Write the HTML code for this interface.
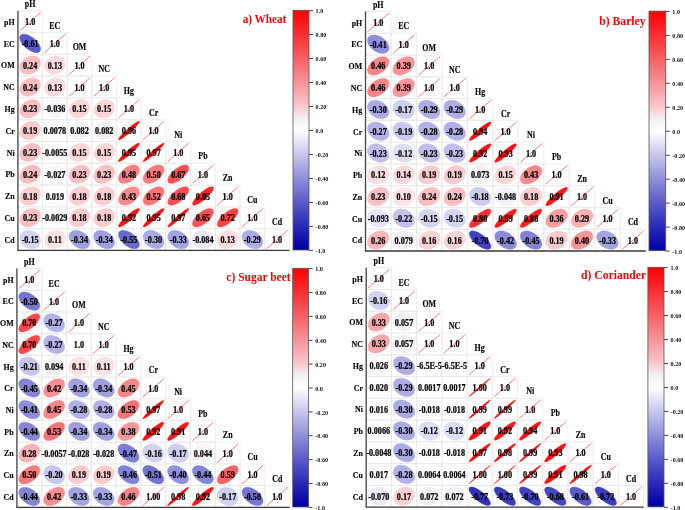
<!DOCTYPE html>
<html><head><meta charset="utf-8"><style>
html,body{margin:0;padding:0;background:#fff;}
svg{display:block;will-change:transform;}
text{font-family:"Liberation Serif",serif;font-weight:bold;}
</style></head><body>
<svg width="685" height="510" viewBox="0 0 685 510">
<defs><linearGradient id="cbg" x1="0" y1="0" x2="0" y2="1"><stop offset="0.000" stop-color="#ff0000"/><stop offset="0.050" stop-color="#fc1719"/><stop offset="0.100" stop-color="#f92f32"/><stop offset="0.150" stop-color="#f7474b"/><stop offset="0.200" stop-color="#f66064"/><stop offset="0.250" stop-color="#f67a7e"/><stop offset="0.300" stop-color="#f69397"/><stop offset="0.350" stop-color="#f7adb1"/><stop offset="0.400" stop-color="#f9c8cb"/><stop offset="0.450" stop-color="#f3f0f5"/><stop offset="0.500" stop-color="#ffffff"/><stop offset="0.550" stop-color="#e3e3f6"/><stop offset="0.600" stop-color="#c7c7ed"/><stop offset="0.650" stop-color="#ababe4"/><stop offset="0.700" stop-color="#9090db"/><stop offset="0.750" stop-color="#7575d2"/><stop offset="0.800" stop-color="#5b5bc9"/><stop offset="0.850" stop-color="#4242c0"/><stop offset="0.900" stop-color="#2a2ab7"/><stop offset="0.950" stop-color="#1313ae"/><stop offset="1.000" stop-color="#0000a5"/></linearGradient></defs>
<rect width="685" height="510" fill="#fff"/>
<path d="M17.80 10.70h24.69v21.80h-24.69z M17.80 32.50h24.69v21.80h-24.69z M42.49 32.50h24.69v21.80h-24.69z M17.80 54.29h24.69v21.80h-24.69z M42.49 54.29h24.69v21.80h-24.69z M67.18 54.29h24.69v21.80h-24.69z M17.80 76.09h24.69v21.80h-24.69z M42.49 76.09h24.69v21.80h-24.69z M67.18 76.09h24.69v21.80h-24.69z M91.87 76.09h24.69v21.80h-24.69z M17.80 97.88h24.69v21.80h-24.69z M42.49 97.88h24.69v21.80h-24.69z M67.18 97.88h24.69v21.80h-24.69z M91.87 97.88h24.69v21.80h-24.69z M116.56 97.88h24.69v21.80h-24.69z M17.80 119.68h24.69v21.80h-24.69z M42.49 119.68h24.69v21.80h-24.69z M67.18 119.68h24.69v21.80h-24.69z M91.87 119.68h24.69v21.80h-24.69z M116.56 119.68h24.69v21.80h-24.69z M141.25 119.68h24.69v21.80h-24.69z M17.80 141.47h24.69v21.80h-24.69z M42.49 141.47h24.69v21.80h-24.69z M67.18 141.47h24.69v21.80h-24.69z M91.87 141.47h24.69v21.80h-24.69z M116.56 141.47h24.69v21.80h-24.69z M141.25 141.47h24.69v21.80h-24.69z M165.95 141.47h24.69v21.80h-24.69z M17.80 163.27h24.69v21.80h-24.69z M42.49 163.27h24.69v21.80h-24.69z M67.18 163.27h24.69v21.80h-24.69z M91.87 163.27h24.69v21.80h-24.69z M116.56 163.27h24.69v21.80h-24.69z M141.25 163.27h24.69v21.80h-24.69z M165.95 163.27h24.69v21.80h-24.69z M190.64 163.27h24.69v21.80h-24.69z M17.80 185.06h24.69v21.80h-24.69z M42.49 185.06h24.69v21.80h-24.69z M67.18 185.06h24.69v21.80h-24.69z M91.87 185.06h24.69v21.80h-24.69z M116.56 185.06h24.69v21.80h-24.69z M141.25 185.06h24.69v21.80h-24.69z M165.95 185.06h24.69v21.80h-24.69z M190.64 185.06h24.69v21.80h-24.69z M215.33 185.06h24.69v21.80h-24.69z M17.80 206.86h24.69v21.80h-24.69z M42.49 206.86h24.69v21.80h-24.69z M67.18 206.86h24.69v21.80h-24.69z M91.87 206.86h24.69v21.80h-24.69z M116.56 206.86h24.69v21.80h-24.69z M141.25 206.86h24.69v21.80h-24.69z M165.95 206.86h24.69v21.80h-24.69z M190.64 206.86h24.69v21.80h-24.69z M215.33 206.86h24.69v21.80h-24.69z M240.02 206.86h24.69v21.80h-24.69z M17.80 228.65h24.69v21.80h-24.69z M42.49 228.65h24.69v21.80h-24.69z M67.18 228.65h24.69v21.80h-24.69z M91.87 228.65h24.69v21.80h-24.69z M116.56 228.65h24.69v21.80h-24.69z M141.25 228.65h24.69v21.80h-24.69z M165.95 228.65h24.69v21.80h-24.69z M190.64 228.65h24.69v21.80h-24.69z M215.33 228.65h24.69v21.80h-24.69z M240.02 228.65h24.69v21.80h-24.69z M264.71 228.65h24.69v21.80h-24.69z" fill="none" stroke="#e6e6e6" stroke-width="0.7"/>
<line x1="19.65" y1="30.86" x2="40.64" y2="12.33" stroke="#f04444" stroke-width="0.7"/>
<polygon points="34.78,39.30 33.51,38.25 32.18,37.29 30.82,36.43 29.45,35.70 28.09,35.09 26.76,34.62 25.50,34.31 24.31,34.15 23.22,34.15 22.25,34.31 21.42,34.62 20.73,35.08 20.21,35.69 19.85,36.42 19.67,37.28 19.67,38.24 19.86,39.29 20.21,40.41 20.74,41.58 21.42,42.78 22.26,43.99 23.23,45.19 24.32,46.36 25.51,47.48 26.78,48.53 28.11,49.50 29.47,50.35 30.84,51.09 32.20,51.70 33.53,52.16 34.79,52.48 35.98,52.64 37.07,52.64 38.04,52.48 38.88,52.17 39.56,51.70 40.08,51.10 40.44,50.36 40.62,49.51 40.62,48.55 40.44,47.50 40.08,46.38 39.55,45.21 38.87,44.01 38.03,42.79 37.06,41.59 35.97,40.42" fill="#5959c8" stroke="#5959c8" stroke-width="0.4"/>
<line x1="44.34" y1="52.66" x2="65.33" y2="34.13" stroke="#f04444" stroke-width="0.7"/>
<polygon points="38.41,57.89 37.49,57.21 36.45,56.67 35.30,56.26 34.07,56.02 32.76,55.93 31.41,55.99 30.04,56.22 28.67,56.60 27.33,57.12 26.04,57.79 24.81,58.58 23.68,59.48 22.65,60.48 21.76,61.56 21.01,62.70 20.41,63.89 19.98,65.10 19.73,66.31 19.65,67.50 19.76,68.65 20.04,69.74 20.49,70.76 21.11,71.67 21.88,72.48 22.80,73.17 23.84,73.71 24.99,74.11 26.22,74.36 27.53,74.45 28.88,74.38 30.25,74.16 31.62,73.78 32.96,73.26 34.26,72.59 35.48,71.80 36.61,70.90 37.64,69.90 38.53,68.82 39.28,67.67 39.88,66.49 40.31,65.28 40.56,64.07 40.64,62.88 40.54,61.73 40.25,60.64 39.80,59.62 39.18,58.70" fill="#f8bdc0" stroke="#f8bdc0" stroke-width="0.4"/>
<polygon points="62.72,58.23 61.75,57.49 60.66,56.88 59.48,56.42 58.21,56.10 56.88,55.95 55.52,55.95 54.15,56.10 52.79,56.42 51.46,56.88 50.19,57.49 49.00,58.22 47.92,59.08 46.94,60.04 46.11,61.09 45.42,62.21 44.90,63.38 44.54,64.58 44.37,65.79 44.37,66.99 44.54,68.16 44.90,69.28 45.43,70.33 46.11,71.29 46.95,72.15 47.92,72.89 49.01,73.50 50.20,73.96 51.47,74.27 52.79,74.43 54.15,74.43 55.53,74.27 56.89,73.96 58.21,73.50 59.48,72.89 60.67,72.15 61.76,71.30 62.73,70.34 63.56,69.29 64.25,68.17 64.77,67.00 65.13,65.80 65.31,64.59 65.31,63.38 65.13,62.21 64.77,61.09 64.25,60.04 63.56,59.08" fill="#fbdbdd" stroke="#fbdbdd" stroke-width="0.4"/>
<line x1="69.03" y1="74.45" x2="90.02" y2="55.93" stroke="#f04444" stroke-width="0.7"/>
<polygon points="38.41,79.69 37.49,79.01 36.45,78.46 35.30,78.06 34.07,77.81 32.76,77.72 31.41,77.79 30.04,78.01 28.67,78.39 27.33,78.92 26.04,79.58 24.81,80.37 23.68,81.27 22.65,82.27 21.76,83.36 21.01,84.50 20.41,85.69 19.98,86.89 19.73,88.10 19.65,89.29 19.76,90.45 20.04,91.54 20.49,92.55 21.11,93.47 21.88,94.28 22.80,94.96 23.84,95.51 24.99,95.91 26.22,96.16 27.53,96.25 28.88,96.18 30.25,95.95 31.62,95.58 32.96,95.05 34.26,94.39 35.48,93.60 36.61,92.69 37.64,91.69 38.53,90.61 39.28,89.47 39.88,88.28 40.31,87.07 40.56,85.86 40.64,84.67 40.54,83.52 40.25,82.43 39.80,81.42 39.18,80.50" fill="#f8bdc0" stroke="#f8bdc0" stroke-width="0.4"/>
<polygon points="62.72,80.02 61.75,79.28 60.66,78.68 59.48,78.21 58.21,77.90 56.88,77.74 55.52,77.74 54.15,77.90 52.79,78.21 51.46,78.68 50.19,79.28 49.00,80.02 47.92,80.87 46.94,81.84 46.11,82.88 45.42,84.00 44.90,85.17 44.54,86.38 44.37,87.59 44.37,88.79 44.54,89.96 44.90,91.08 45.43,92.13 46.11,93.09 46.95,93.95 47.92,94.68 49.01,95.29 50.20,95.75 51.47,96.07 52.79,96.23 54.15,96.23 55.53,96.07 56.89,95.76 58.21,95.29 59.48,94.69 60.67,93.95 61.76,93.09 62.73,92.13 63.56,91.08 64.25,89.96 64.77,88.79 65.13,87.59 65.31,86.38 65.31,85.18 65.13,84.01 64.77,82.89 64.25,81.84 63.56,80.88" fill="#fbdbdd" stroke="#fbdbdd" stroke-width="0.4"/>
<line x1="69.03" y1="96.25" x2="90.02" y2="77.72" stroke="#f04444" stroke-width="0.7"/>
<line x1="93.72" y1="96.25" x2="114.71" y2="77.72" stroke="#f04444" stroke-width="0.7"/>
<polygon points="38.37,101.52 37.45,100.83 36.41,100.28 35.26,99.87 34.02,99.61 32.71,99.52 31.36,99.58 29.99,99.80 28.62,100.17 27.28,100.69 25.99,101.35 24.76,102.13 23.63,103.03 22.62,104.03 21.73,105.11 20.98,106.25 20.39,107.43 19.97,108.64 19.72,109.85 19.65,111.04 19.76,112.20 20.05,113.29 20.51,114.31 21.14,115.23 21.92,116.04 22.84,116.73 23.88,117.28 25.03,117.69 26.27,117.94 27.58,118.04 28.93,117.98 30.30,117.76 31.67,117.39 33.01,116.87 34.30,116.21 35.53,115.43 36.66,114.53 37.68,113.53 38.56,112.45 39.31,111.31 39.90,110.12 40.32,108.92 40.57,107.71 40.64,106.52 40.53,105.36 40.24,104.27 39.78,103.25 39.15,102.33" fill="#f9c0c3" stroke="#f9c0c3" stroke-width="0.4"/>
<polygon points="62.12,102.35 61.07,101.53 59.92,100.84 58.68,100.29 57.37,99.88 56.02,99.62 54.65,99.52 53.28,99.58 51.94,99.79 50.65,100.16 49.43,100.68 48.30,101.33 47.28,102.11 46.40,103.01 45.66,104.00 45.07,105.08 44.65,106.22 44.41,107.41 44.34,108.61 44.46,109.82 44.75,111.02 45.22,112.17 45.84,113.27 46.63,114.29 47.55,115.21 48.60,116.03 49.75,116.72 51.00,117.27 52.30,117.68 53.65,117.94 55.03,118.04 56.39,117.98 57.73,117.77 59.03,117.40 60.25,116.88 61.37,116.23 62.39,115.45 63.28,114.55 64.02,113.55 64.60,112.48 65.02,111.34 65.26,110.15 65.33,108.95 65.21,107.74 64.92,106.54 64.46,105.39 63.83,104.29 63.05,103.27" fill="#f5f5fc" stroke="#f5f5fc" stroke-width="0.4"/>
<polygon points="87.48,101.76 86.52,101.03 85.44,100.43 84.26,99.98 83.00,99.68 81.68,99.53 80.32,99.54 78.94,99.71 77.58,100.04 76.25,100.51 74.98,101.13 73.78,101.88 72.69,102.74 71.71,103.71 70.86,104.76 70.16,105.89 69.62,107.06 69.26,108.26 69.06,109.48 69.05,110.68 69.22,111.84 69.56,112.96 70.07,114.00 70.75,114.96 71.57,115.80 72.53,116.53 73.61,117.13 74.79,117.58 76.06,117.88 77.38,118.03 78.74,118.02 80.11,117.85 81.47,117.52 82.80,117.05 84.08,116.43 85.27,115.68 86.37,114.82 87.35,113.85 88.19,112.79 88.89,111.67 89.43,110.50 89.80,109.29 89.99,108.08 90.00,106.88 89.84,105.72 89.50,104.60 88.98,103.56 88.31,102.60" fill="#fad6d8" stroke="#fad6d8" stroke-width="0.4"/>
<polygon points="112.18,101.76 111.21,101.03 110.13,100.43 108.95,99.98 107.69,99.68 106.37,99.53 105.01,99.54 103.63,99.71 102.27,100.04 100.94,100.51 99.67,101.13 98.47,101.88 97.38,102.74 96.40,103.71 95.55,104.76 94.85,105.89 94.32,107.06 93.95,108.26 93.75,109.48 93.74,110.68 93.91,111.84 94.25,112.96 94.76,114.00 95.44,114.96 96.26,115.80 97.22,116.53 98.30,117.13 99.48,117.58 100.75,117.88 102.07,118.03 103.43,118.02 104.80,117.85 106.16,117.52 107.49,117.05 108.77,116.43 109.96,115.68 111.06,114.82 112.04,113.85 112.89,112.79 113.58,111.67 114.12,110.50 114.49,109.29 114.68,108.08 114.70,106.88 114.53,105.72 114.19,104.60 113.67,103.56 113.00,102.60" fill="#fad6d8" stroke="#fad6d8" stroke-width="0.4"/>
<line x1="118.42" y1="118.04" x2="139.40" y2="99.52" stroke="#f04444" stroke-width="0.7"/>
<polygon points="38.24,123.43 37.30,122.72 36.24,122.15 35.07,121.72 33.82,121.44 32.50,121.32 31.15,121.35 29.77,121.55 28.41,121.90 27.07,122.39 25.79,123.03 24.58,123.80 23.47,124.68 22.47,125.66 21.60,126.73 20.88,127.86 20.31,129.04 19.92,130.25 19.70,131.46 19.66,132.66 19.80,133.82 20.11,134.92 20.60,135.95 21.25,136.89 22.05,137.72 22.99,138.43 24.06,139.00 25.22,139.43 26.47,139.71 27.79,139.83 29.14,139.80 30.52,139.60 31.88,139.25 33.22,138.76 34.50,138.12 35.71,137.35 36.82,136.47 37.82,135.49 38.69,134.42 39.41,133.29 39.98,132.11 40.37,130.90 40.59,129.69 40.63,128.49 40.49,127.33 40.18,126.23 39.69,125.20 39.04,124.26" fill="#f9cbcd" stroke="#f9cbcd" stroke-width="0.4"/>
<polygon points="62.29,124.00 61.26,123.20 60.12,122.53 58.89,122.00 57.59,121.62 56.25,121.39 54.88,121.31 53.51,121.40 52.16,121.64 50.86,122.03 49.63,122.57 48.48,123.25 47.45,124.05 46.54,124.96 45.77,125.97 45.16,127.06 44.71,128.21 44.44,129.40 44.34,130.61 44.43,131.82 44.69,133.01 45.13,134.15 45.73,135.24 46.49,136.24 47.39,137.15 48.42,137.95 49.55,138.62 50.78,139.15 52.08,139.53 53.43,139.76 54.80,139.84 56.17,139.75 57.51,139.51 58.81,139.12 60.05,138.58 61.19,137.90 62.23,137.10 63.14,136.19 63.90,135.18 64.52,134.09 64.96,132.94 65.23,131.75 65.33,130.54 65.25,129.33 64.98,128.14 64.55,127.00 63.94,125.91 63.19,124.91" fill="#fffdfd" stroke="#fffdfd" stroke-width="0.4"/>
<polygon points="87.25,123.76 86.25,123.00 85.14,122.37 83.94,121.88 82.66,121.54 81.32,121.35 79.96,121.32 78.59,121.45 77.23,121.73 75.91,122.17 74.66,122.75 73.49,123.46 72.42,124.30 71.47,125.24 70.66,126.28 70.01,127.38 69.51,128.55 69.19,129.74 69.04,130.96 69.08,132.16 69.29,133.34 69.68,134.47 70.23,135.53 70.95,136.51 71.81,137.39 72.80,138.15 73.91,138.78 75.12,139.27 76.40,139.61 77.73,139.80 79.10,139.83 80.47,139.70 81.83,139.42 83.14,138.98 84.40,138.40 85.57,137.69 86.64,136.85 87.58,135.91 88.39,134.87 89.05,133.77 89.54,132.60 89.87,131.41 90.01,130.19 89.98,128.99 89.77,127.81 89.38,126.68 88.82,125.62 88.11,124.64" fill="#f3f0f5" stroke="#f3f0f5" stroke-width="0.4"/>
<polygon points="111.94,123.76 110.94,123.00 109.83,122.37 108.63,121.88 107.35,121.54 106.01,121.35 104.65,121.32 103.28,121.45 101.92,121.73 100.60,122.17 99.35,122.75 98.18,123.46 97.11,124.30 96.16,125.24 95.35,126.28 94.70,127.38 94.20,128.55 93.88,129.74 93.73,130.96 93.77,132.16 93.98,133.34 94.37,134.47 94.92,135.53 95.64,136.51 96.50,137.39 97.49,138.15 98.60,138.78 99.81,139.27 101.09,139.61 102.42,139.80 103.79,139.83 105.16,139.70 106.52,139.42 107.83,138.98 109.09,138.40 110.26,137.69 111.33,136.85 112.27,135.91 113.08,134.87 113.74,133.77 114.23,132.60 114.56,131.41 114.70,130.19 114.67,128.99 114.46,127.81 114.07,126.68 113.51,125.62 112.80,124.64" fill="#f3f0f5" stroke="#f3f0f5" stroke-width="0.4"/>
<polygon points="139.30,121.41 139.01,121.31 138.56,121.38 137.94,121.60 137.16,121.98 136.25,122.50 135.21,123.16 134.06,123.95 132.82,124.86 131.51,125.86 130.16,126.94 128.79,128.08 127.43,129.27 126.08,130.47 124.79,131.68 123.56,132.87 122.43,134.03 121.41,135.12 120.51,136.13 119.76,137.05 119.17,137.86 118.74,138.55 118.49,139.09 118.42,139.50 118.52,139.74 118.80,139.84 119.26,139.77 119.88,139.55 120.65,139.17 121.57,138.65 122.61,137.99 123.76,137.20 125.00,136.29 126.30,135.29 127.65,134.21 129.02,133.07 130.39,131.88 131.74,130.68 133.03,129.47 134.26,128.28 135.39,127.12 136.41,126.03 137.30,125.02 138.05,124.10 138.65,123.29 139.07,122.60 139.33,122.06 139.40,121.65" fill="#fe090a" stroke="#fe090a" stroke-width="0.4"/>
<line x1="143.11" y1="139.84" x2="164.09" y2="121.31" stroke="#f04444" stroke-width="0.7"/>
<polygon points="38.37,145.11 37.45,144.42 36.41,143.87 35.26,143.46 34.02,143.21 32.71,143.11 31.36,143.17 29.99,143.39 28.62,143.76 27.28,144.28 25.99,144.94 24.76,145.72 23.63,146.62 22.62,147.62 21.73,148.70 20.98,149.84 20.39,151.03 19.97,152.23 19.72,153.44 19.65,154.63 19.76,155.79 20.05,156.88 20.51,157.90 21.14,158.82 21.92,159.63 22.84,160.32 23.88,160.87 25.03,161.28 26.27,161.54 27.58,161.63 28.93,161.57 30.30,161.35 31.67,160.98 33.01,160.46 34.30,159.80 35.53,159.02 36.66,158.12 37.68,157.12 38.56,156.04 39.31,154.90 39.90,153.72 40.32,152.51 40.57,151.30 40.64,150.11 40.53,148.95 40.24,147.86 39.78,146.84 39.15,145.92" fill="#f9c0c3" stroke="#f9c0c3" stroke-width="0.4"/>
<polygon points="62.24,145.84 61.20,145.04 60.06,144.36 58.83,143.82 57.52,143.43 56.18,143.19 54.81,143.11 53.44,143.18 52.09,143.42 50.79,143.80 49.56,144.34 48.43,145.01 47.40,145.80 46.49,146.71 45.73,147.72 45.13,148.80 44.69,149.95 44.43,151.14 44.34,152.34 44.44,153.55 44.71,154.74 45.15,155.89 45.76,156.98 46.53,157.99 47.44,158.90 48.47,159.70 49.61,160.38 50.85,160.92 52.15,161.31 53.50,161.55 54.87,161.63 56.23,161.56 57.58,161.32 58.88,160.94 60.11,160.41 61.25,159.73 62.28,158.94 63.18,158.03 63.94,157.02 64.54,155.94 64.98,154.79 65.24,153.60 65.33,152.40 65.24,151.19 64.96,150.00 64.52,148.85 63.91,147.76 63.14,146.75" fill="#fdfdff" stroke="#fdfdff" stroke-width="0.4"/>
<polygon points="87.48,145.35 86.52,144.62 85.44,144.02 84.26,143.57 83.00,143.27 81.68,143.12 80.32,143.13 78.94,143.30 77.58,143.63 76.25,144.10 74.98,144.72 73.78,145.47 72.69,146.33 71.71,147.30 70.86,148.36 70.16,149.48 69.62,150.65 69.26,151.86 69.06,153.07 69.05,154.27 69.22,155.43 69.56,156.55 70.07,157.59 70.75,158.55 71.57,159.39 72.53,160.12 73.61,160.72 74.79,161.17 76.06,161.47 77.38,161.62 78.74,161.61 80.11,161.44 81.47,161.11 82.80,160.64 84.08,160.02 85.27,159.27 86.37,158.41 87.35,157.44 88.19,156.39 88.89,155.26 89.43,154.09 89.80,152.89 89.99,151.67 90.00,150.47 89.84,149.31 89.50,148.19 88.98,147.15 88.31,146.19" fill="#fad6d8" stroke="#fad6d8" stroke-width="0.4"/>
<polygon points="112.18,145.35 111.21,144.62 110.13,144.02 108.95,143.57 107.69,143.27 106.37,143.12 105.01,143.13 103.63,143.30 102.27,143.63 100.94,144.10 99.67,144.72 98.47,145.47 97.38,146.33 96.40,147.30 95.55,148.36 94.85,149.48 94.32,150.65 93.95,151.86 93.75,153.07 93.74,154.27 93.91,155.43 94.25,156.55 94.76,157.59 95.44,158.55 96.26,159.39 97.22,160.12 98.30,160.72 99.48,161.17 100.75,161.47 102.07,161.62 103.43,161.61 104.80,161.44 106.16,161.11 107.49,160.64 108.77,160.02 109.96,159.27 111.06,158.41 112.04,157.44 112.89,156.39 113.58,155.26 114.12,154.09 114.49,152.89 114.68,151.67 114.70,150.47 114.53,149.31 114.19,148.19 113.67,147.15 113.00,146.19" fill="#fad6d8" stroke="#fad6d8" stroke-width="0.4"/>
<polygon points="139.27,143.22 138.97,143.11 138.49,143.16 137.85,143.36 137.05,143.72 136.12,144.22 135.06,144.87 133.90,145.64 132.65,146.53 131.34,147.52 129.99,148.59 128.62,149.72 127.25,150.91 125.91,152.11 124.62,153.32 123.41,154.52 122.29,155.68 121.29,156.78 120.41,157.80 119.68,158.74 119.11,159.56 118.70,160.26 118.47,160.83 118.42,161.25 118.55,161.52 118.85,161.63 119.33,161.58 119.97,161.38 120.77,161.02 121.70,160.52 122.76,159.87 123.92,159.10 125.17,158.21 126.48,157.22 127.83,156.15 129.20,155.02 130.57,153.84 131.91,152.63 133.19,151.42 134.41,150.22 135.53,149.07 136.53,147.96 137.41,146.94 138.14,146.01 138.71,145.18 139.12,144.48 139.35,143.91 139.40,143.49" fill="#fd0c0c" stroke="#fd0c0c" stroke-width="0.4"/>
<polygon points="164.01,143.18 163.76,143.11 163.33,143.20 162.73,143.44 161.98,143.84 161.08,144.39 160.06,145.07 158.92,145.87 157.69,146.79 156.40,147.80 155.05,148.90 153.69,150.05 152.31,151.24 150.97,152.45 149.66,153.65 148.43,154.84 147.28,155.98 146.24,157.07 145.33,158.07 144.56,158.97 143.94,159.76 143.49,160.43 143.21,160.96 143.11,161.34 143.19,161.56 143.44,161.63 143.87,161.54 144.47,161.30 145.22,160.90 146.12,160.35 147.14,159.67 148.28,158.87 149.51,157.95 150.80,156.94 152.15,155.85 153.51,154.70 154.89,153.50 156.23,152.30 157.54,151.09 158.77,149.90 159.92,148.76 160.96,147.67 161.87,146.67 162.64,145.77 163.26,144.98 163.71,144.31 163.99,143.78 164.09,143.40" fill="#fe0707" stroke="#fe0707" stroke-width="0.4"/>
<line x1="167.80" y1="161.63" x2="188.78" y2="143.11" stroke="#f04444" stroke-width="0.7"/>
<polygon points="38.41,166.87 37.49,166.19 36.45,165.64 35.30,165.24 34.07,164.99 32.76,164.90 31.41,164.97 30.04,165.20 28.67,165.57 27.33,166.10 26.04,166.76 24.81,167.55 23.68,168.46 22.65,169.46 21.76,170.54 21.01,171.68 20.41,172.87 19.98,174.08 19.73,175.29 19.65,176.48 19.76,177.63 20.04,178.72 20.49,179.73 21.11,180.65 21.88,181.46 22.80,182.14 23.84,182.69 24.99,183.09 26.22,183.34 27.53,183.43 28.88,183.36 30.25,183.14 31.62,182.76 32.96,182.23 34.26,181.57 35.48,180.78 36.61,179.88 37.64,178.88 38.53,177.79 39.28,176.65 39.88,175.46 40.31,174.26 40.56,173.05 40.64,171.86 40.54,170.70 40.25,169.61 39.80,168.60 39.18,167.68" fill="#f8bdc0" stroke="#f8bdc0" stroke-width="0.4"/>
<polygon points="62.16,167.70 61.11,166.89 59.96,166.21 58.72,165.66 57.42,165.25 56.07,165.00 54.69,164.90 53.33,164.97 51.98,165.19 50.69,165.56 49.47,166.08 48.34,166.74 47.32,167.53 46.43,168.43 45.68,169.43 45.09,170.51 44.66,171.65 44.41,172.83 44.34,174.04 44.45,175.25 44.74,176.44 45.20,177.59 45.82,178.69 46.60,179.71 47.52,180.63 48.56,181.44 49.71,182.12 50.95,182.68 52.26,183.08 53.61,183.33 54.98,183.43 56.35,183.37 57.69,183.14 58.98,182.77 60.21,182.25 61.34,181.59 62.36,180.80 63.25,179.90 63.99,178.91 64.58,177.83 65.01,176.68 65.26,175.50 65.33,174.29 65.22,173.08 64.93,171.89 64.48,170.74 63.85,169.64 63.07,168.63" fill="#f7f7fd" stroke="#f7f7fd" stroke-width="0.4"/>
<polygon points="87.76,166.90 86.84,166.21 85.79,165.66 84.64,165.26 83.40,165.00 82.09,164.90 80.74,164.97 79.37,165.18 78.00,165.56 76.66,166.08 75.37,166.73 74.15,167.52 73.02,168.42 72.00,169.42 71.11,170.49 70.36,171.64 69.77,172.82 69.35,174.03 69.10,175.24 69.03,176.43 69.14,177.58 69.43,178.68 69.89,179.70 70.52,180.62 71.30,181.43 72.22,182.12 73.26,182.67 74.42,183.08 75.66,183.33 76.96,183.43 78.31,183.37 79.68,183.15 81.05,182.78 82.39,182.26 83.69,181.60 84.91,180.81 86.04,179.91 87.06,178.92 87.95,177.84 88.69,176.70 89.28,175.51 89.70,174.30 89.95,173.09 90.02,171.90 89.91,170.75 89.62,169.65 89.16,168.64 88.54,167.71" fill="#f9c0c3" stroke="#f9c0c3" stroke-width="0.4"/>
<polygon points="112.45,166.90 111.53,166.21 110.48,165.66 109.33,165.26 108.09,165.00 106.78,164.90 105.43,164.97 104.06,165.18 102.69,165.56 101.35,166.08 100.06,166.73 98.84,167.52 97.71,168.42 96.69,169.42 95.80,170.49 95.05,171.64 94.46,172.82 94.04,174.03 93.80,175.24 93.73,176.43 93.84,177.58 94.12,178.68 94.58,179.70 95.21,180.62 95.99,181.43 96.91,182.12 97.95,182.67 99.11,183.08 100.35,183.33 101.65,183.43 103.00,183.37 104.37,183.15 105.74,182.78 107.08,182.26 108.38,181.60 109.60,180.81 110.73,179.91 111.75,178.92 112.64,177.84 113.38,176.70 113.97,175.51 114.39,174.30 114.64,173.09 114.71,171.90 114.60,170.75 114.31,169.65 113.85,168.64 113.23,167.71" fill="#f9c0c3" stroke="#f9c0c3" stroke-width="0.4"/>
<polygon points="137.94,166.20 137.16,165.65 136.24,165.25 135.20,165.00 134.05,164.90 132.81,164.97 131.51,165.19 130.16,165.57 128.79,166.09 127.42,166.75 126.08,167.54 124.78,168.44 123.56,169.44 122.43,170.52 121.40,171.67 120.51,172.85 119.76,174.06 119.17,175.27 118.74,176.46 118.49,177.61 118.42,178.71 118.52,179.72 118.80,180.64 119.26,181.45 119.88,182.13 120.66,182.68 121.57,183.09 122.62,183.34 123.77,183.43 125.00,183.36 126.31,183.14 127.66,182.76 129.03,182.24 130.40,181.58 131.74,180.79 133.04,179.89 134.26,178.89 135.39,177.81 136.41,176.67 137.31,175.48 138.06,174.27 138.65,173.06 139.08,171.87 139.33,170.72 139.40,169.63 139.30,168.61 139.01,167.69 138.56,166.88" fill="#f67f83" stroke="#f67f83" stroke-width="0.4"/>
<polygon points="162.69,166.14 161.93,165.61 161.02,165.22 159.99,164.98 158.85,164.90 157.62,164.98 156.32,165.22 154.97,165.61 153.60,166.14 152.23,166.82 150.88,167.62 149.58,168.53 148.35,169.53 147.21,170.62 146.18,171.77 145.27,172.96 144.51,174.17 143.91,175.37 143.46,176.56 143.20,177.71 143.11,178.80 143.20,179.80 143.46,180.72 143.91,181.51 144.51,182.19 145.27,182.72 146.18,183.11 147.21,183.35 148.35,183.43 149.58,183.35 150.88,183.11 152.23,182.72 153.60,182.19 154.97,181.51 156.32,180.72 157.62,179.80 158.85,178.80 159.99,177.71 161.02,176.56 161.93,175.37 162.69,174.17 163.29,172.96 163.74,171.77 164.00,170.62 164.09,169.53 164.00,168.53 163.74,167.62 163.29,166.82" fill="#f67a7e" stroke="#f67a7e" stroke-width="0.4"/>
<polygon points="187.88,165.70 187.24,165.28 186.45,165.02 185.52,164.91 184.46,164.95 183.30,165.16 182.06,165.52 180.75,166.03 179.39,166.68 178.02,167.45 176.66,168.34 175.32,169.33 174.03,170.40 172.81,171.54 171.69,172.72 170.68,173.93 169.80,175.14 169.07,176.33 168.50,177.49 168.09,178.59 167.86,179.61 167.80,180.55 167.93,181.37 168.23,182.07 168.70,182.63 169.34,183.05 170.13,183.32 171.06,183.43 172.12,183.38 173.28,183.17 174.52,182.81 175.84,182.30 177.19,181.66 178.56,180.88 179.93,179.99 181.27,179.00 182.55,177.93 183.77,176.79 184.89,175.61 185.90,174.40 186.78,173.19 187.51,172.00 188.09,170.84 188.49,169.74 188.73,168.72 188.78,167.79 188.66,166.96 188.35,166.27" fill="#f74f52" stroke="#f74f52" stroke-width="0.4"/>
<line x1="192.49" y1="183.43" x2="213.48" y2="164.90" stroke="#f04444" stroke-width="0.7"/>
<polygon points="38.21,188.85 37.26,188.13 36.19,187.55 35.02,187.12 33.77,186.83 32.45,186.71 31.09,186.74 29.72,186.92 28.36,187.27 27.02,187.76 25.74,188.39 24.54,189.15 23.43,190.03 22.43,191.01 21.57,192.07 20.85,193.20 20.30,194.38 19.91,195.59 19.69,196.80 19.66,198.00 19.81,199.16 20.13,200.27 20.62,201.30 21.28,202.24 22.09,203.08 23.03,203.79 24.10,204.37 25.27,204.80 26.52,205.09 27.84,205.22 29.20,205.19 30.57,205.00 31.93,204.66 33.27,204.16 34.55,203.53 35.76,202.77 36.86,201.89 37.86,200.91 38.72,199.85 39.44,198.72 39.99,197.54 40.38,196.34 40.60,195.12 40.63,193.93 40.49,192.77 40.16,191.66 39.67,190.62 39.01,189.68" fill="#faced0" stroke="#faced0" stroke-width="0.4"/>
<polygon points="62.33,189.35 61.30,188.56 60.17,187.90 58.94,187.37 57.65,186.99 56.30,186.77 54.94,186.70 53.57,186.79 52.22,187.04 50.91,187.44 49.68,187.98 48.53,188.67 47.49,189.47 46.57,190.39 45.80,191.41 45.18,192.50 44.73,193.65 44.45,194.84 44.34,196.05 44.42,197.26 44.67,198.44 45.10,199.59 45.70,200.67 46.45,201.67 47.35,202.57 48.37,203.36 49.50,204.03 50.73,204.55 52.02,204.93 53.37,205.16 54.74,205.22 56.11,205.13 57.46,204.89 58.76,204.49 60.00,203.94 61.15,203.26 62.19,202.45 63.10,201.53 63.87,200.52 64.49,199.42 64.95,198.27 65.23,197.08 65.33,195.87 65.25,194.67 65.00,193.48 64.57,192.34 63.97,191.25 63.22,190.25" fill="#fefafa" stroke="#fefafa" stroke-width="0.4"/>
<polygon points="87.59,188.85 86.64,188.13 85.57,187.55 84.40,187.12 83.15,186.83 81.83,186.71 80.48,186.74 79.10,186.92 77.74,187.27 76.40,187.76 75.12,188.39 73.92,189.15 72.81,190.03 71.81,191.01 70.95,192.07 70.23,193.20 69.68,194.38 69.29,195.59 69.08,196.80 69.04,198.00 69.19,199.16 69.51,200.27 70.00,201.30 70.66,202.24 71.47,203.08 72.41,203.79 73.48,204.37 74.65,204.80 75.91,205.09 77.22,205.22 78.58,205.19 79.95,205.00 81.32,204.66 82.65,204.16 83.93,203.53 85.14,202.77 86.25,201.89 87.24,200.91 88.10,199.85 88.82,198.72 89.38,197.54 89.76,196.34 89.98,195.12 90.01,193.93 89.87,192.77 89.55,191.66 89.05,190.62 88.40,189.68" fill="#faced0" stroke="#faced0" stroke-width="0.4"/>
<polygon points="112.28,188.85 111.33,188.13 110.26,187.55 109.09,187.12 107.84,186.83 106.52,186.71 105.17,186.74 103.79,186.92 102.43,187.27 101.09,187.76 99.81,188.39 98.61,189.15 97.50,190.03 96.50,191.01 95.64,192.07 94.93,193.20 94.37,194.38 93.98,195.59 93.77,196.80 93.73,198.00 93.88,199.16 94.20,200.27 94.69,201.30 95.35,202.24 96.16,203.08 97.10,203.79 98.17,204.37 99.34,204.80 100.60,205.09 101.91,205.22 103.27,205.19 104.64,205.00 106.01,204.66 107.34,204.16 108.62,203.53 109.83,202.77 110.94,201.89 111.93,200.91 112.79,199.85 113.51,198.72 114.07,197.54 114.46,196.34 114.67,195.12 114.70,193.93 114.56,192.77 114.24,191.66 113.74,190.62 113.09,189.68" fill="#faced0" stroke="#faced0" stroke-width="0.4"/>
<polygon points="137.78,188.13 136.98,187.55 136.03,187.12 134.96,186.83 133.79,186.71 132.54,186.74 131.22,186.93 129.87,187.27 128.49,187.76 127.13,188.40 125.79,189.16 124.51,190.04 123.31,191.02 122.20,192.08 121.20,193.21 120.34,194.39 119.62,195.60 119.06,196.81 118.67,198.00 118.46,199.17 118.42,200.27 118.57,201.31 118.89,202.25 119.38,203.08 120.04,203.79 120.84,204.37 121.79,204.81 122.86,205.09 124.03,205.22 125.28,205.19 126.60,205.00 127.95,204.65 129.32,204.16 130.69,203.53 132.02,202.77 133.31,201.89 134.51,200.91 135.62,199.84 136.62,198.71 137.48,197.53 138.20,196.33 138.76,195.12 139.14,193.92 139.36,192.76 139.39,191.65 139.25,190.62 138.93,189.68 138.44,188.84" fill="#f68b8f" stroke="#f68b8f" stroke-width="0.4"/>
<polygon points="162.75,187.89 162.00,187.36 161.11,186.99 160.08,186.76 158.95,186.70 157.73,186.79 156.43,187.04 155.09,187.45 153.72,187.99 152.35,188.68 151.00,189.49 149.70,190.41 148.46,191.42 147.31,192.52 146.27,193.67 145.35,194.86 144.57,196.07 143.95,197.28 143.50,198.46 143.21,199.61 143.11,200.69 143.18,201.69 143.43,202.59 143.86,203.38 144.45,204.04 145.20,204.56 146.09,204.94 147.12,205.16 148.25,205.22 149.47,205.13 150.77,204.88 152.11,204.48 153.48,203.93 154.85,203.24 156.20,202.43 157.50,201.51 158.74,200.50 159.89,199.41 160.93,198.25 161.85,197.06 162.63,195.85 163.25,194.65 163.70,193.46 163.99,192.32 164.09,191.24 164.02,190.24 163.77,189.34 163.34,188.55" fill="#f67478" stroke="#f67478" stroke-width="0.4"/>
<polygon points="187.91,187.47 187.28,187.06 186.49,186.80 185.57,186.70 184.52,186.76 183.37,186.97 182.12,187.34 180.82,187.85 179.46,188.51 178.09,189.29 176.73,190.19 175.38,191.18 174.09,192.26 172.87,193.40 171.75,194.58 170.73,195.79 169.85,197.00 169.11,198.19 168.52,199.34 168.11,200.44 167.86,201.46 167.80,202.39 167.91,203.20 168.21,203.89 168.67,204.45 169.30,204.86 170.09,205.12 171.01,205.22 172.06,205.17 173.22,204.95 174.46,204.58 175.77,204.07 177.12,203.42 178.49,202.63 179.86,201.74 181.20,200.74 182.49,199.67 183.71,198.53 184.83,197.34 185.85,196.14 186.73,194.93 187.48,193.73 188.06,192.58 188.48,191.48 188.72,190.46 188.78,189.54 188.67,188.72 188.37,188.03" fill="#f74c50" stroke="#f74c50" stroke-width="0.4"/>
<polygon points="213.07,187.05 212.61,186.80 211.99,186.70 211.21,186.76 210.29,186.98 209.24,187.35 208.09,187.87 206.85,188.53 205.54,189.31 204.19,190.21 202.82,191.21 201.45,192.28 200.11,193.42 198.82,194.61 197.59,195.82 196.46,197.03 195.45,198.22 194.56,199.37 193.81,200.47 193.23,201.48 192.80,202.41 192.56,203.22 192.49,203.91 192.60,204.46 192.89,204.87 193.35,205.13 193.98,205.22 194.76,205.16 195.68,204.95 196.72,204.57 197.88,204.05 199.12,203.40 200.42,202.61 201.77,201.71 203.15,200.72 204.51,199.64 205.86,198.50 207.15,197.31 208.37,196.11 209.50,194.90 210.52,193.70 211.41,192.55 212.15,191.46 212.74,190.44 213.16,189.51 213.41,188.70 213.47,188.01 213.36,187.46" fill="#fa2325" stroke="#fa2325" stroke-width="0.4"/>
<line x1="217.18" y1="205.22" x2="238.17" y2="186.70" stroke="#f04444" stroke-width="0.7"/>
<polygon points="38.37,210.49 37.45,209.80 36.41,209.25 35.26,208.85 34.02,208.59 32.71,208.49 31.36,208.56 29.99,208.77 28.62,209.15 27.28,209.67 25.99,210.32 24.76,211.11 23.63,212.01 22.62,213.01 21.73,214.09 20.98,215.23 20.39,216.41 19.97,217.62 19.72,218.83 19.65,220.02 19.76,221.17 20.05,222.27 20.51,223.29 21.14,224.21 21.92,225.02 22.84,225.71 23.88,226.26 25.03,226.67 26.27,226.92 27.58,227.02 28.93,226.96 30.30,226.74 31.67,226.37 33.01,225.85 34.30,225.19 35.53,224.40 36.66,223.50 37.68,222.51 38.56,221.43 39.31,220.29 39.90,219.10 40.32,217.89 40.57,216.68 40.64,215.49 40.53,214.34 40.24,213.25 39.78,212.23 39.15,211.30" fill="#f9c0c3" stroke="#f9c0c3" stroke-width="0.4"/>
<polygon points="62.25,211.22 61.21,210.42 60.07,209.74 58.84,209.20 57.54,208.81 56.19,208.57 54.82,208.49 53.45,208.57 52.11,208.81 50.81,209.19 49.58,209.73 48.44,210.40 47.41,211.20 46.50,212.11 45.74,213.11 45.14,214.20 44.70,215.35 44.43,216.53 44.34,217.74 44.43,218.95 44.70,220.14 45.15,221.29 45.76,222.38 46.52,223.39 47.43,224.30 48.46,225.10 49.60,225.77 50.83,226.31 52.14,226.70 53.48,226.94 54.85,227.02 56.22,226.94 57.57,226.71 58.87,226.32 60.10,225.79 61.24,225.11 62.27,224.32 63.17,223.41 63.93,222.40 64.54,221.31 64.98,220.17 65.24,218.98 65.33,217.77 65.24,216.56 64.97,215.37 64.53,214.22 63.92,213.14 63.15,212.13" fill="#fefeff" stroke="#fefeff" stroke-width="0.4"/>
<polygon points="87.59,210.64 86.64,209.93 85.57,209.35 84.40,208.91 83.15,208.63 81.83,208.50 80.48,208.53 79.10,208.72 77.74,209.06 76.40,209.55 75.12,210.19 73.92,210.95 72.81,211.83 71.81,212.81 70.95,213.87 70.23,215.00 69.68,216.18 69.29,217.38 69.08,218.59 69.04,219.79 69.19,220.95 69.51,222.06 70.00,223.09 70.66,224.04 71.47,224.87 72.41,225.59 73.48,226.16 74.65,226.60 75.91,226.88 77.22,227.01 78.58,226.98 79.95,226.79 81.32,226.45 82.65,225.96 83.93,225.33 85.14,224.57 86.25,223.69 87.24,222.71 88.10,221.64 88.82,220.51 89.38,219.34 89.76,218.13 89.98,216.92 90.01,215.72 89.87,214.56 89.55,213.45 89.05,212.42 88.40,211.48" fill="#faced0" stroke="#faced0" stroke-width="0.4"/>
<polygon points="112.28,210.64 111.33,209.93 110.26,209.35 109.09,208.91 107.84,208.63 106.52,208.50 105.17,208.53 103.79,208.72 102.43,209.06 101.09,209.55 99.81,210.19 98.61,210.95 97.50,211.83 96.50,212.81 95.64,213.87 94.93,215.00 94.37,216.18 93.98,217.38 93.77,218.59 93.73,219.79 93.88,220.95 94.20,222.06 94.69,223.09 95.35,224.04 96.16,224.87 97.10,225.59 98.17,226.16 99.34,226.60 100.60,226.88 101.91,227.01 103.27,226.98 104.64,226.79 106.01,226.45 107.34,225.96 108.62,225.33 109.83,224.57 110.94,223.69 111.93,222.71 112.79,221.64 113.51,220.51 114.07,219.34 114.46,218.13 114.67,216.92 114.70,215.72 114.56,214.56 114.24,213.45 113.74,212.42 113.09,211.48" fill="#faced0" stroke="#faced0" stroke-width="0.4"/>
<polygon points="139.19,208.68 138.83,208.52 138.30,208.51 137.60,208.66 136.76,208.97 135.79,209.43 134.70,210.03 133.50,210.76 132.23,211.61 130.90,212.57 129.54,213.62 128.17,214.74 126.81,215.90 125.49,217.10 124.22,218.32 123.04,219.52 121.95,220.69 120.99,221.81 120.15,222.86 119.47,223.83 118.96,224.69 118.61,225.43 118.43,226.04 118.44,226.51 118.63,226.83 118.99,227.00 119.52,227.00 120.21,226.85 121.05,226.54 122.03,226.09 123.12,225.48 124.32,224.75 125.59,223.90 126.91,222.94 128.28,221.90 129.65,220.78 131.01,219.61 132.33,218.41 133.60,217.20 134.78,216.00 135.87,214.82 136.83,213.70 137.66,212.65 138.34,211.68 138.86,210.82 139.21,210.08 139.38,209.47 139.38,209.00" fill="#fc1314" stroke="#fc1314" stroke-width="0.4"/>
<polygon points="163.96,208.61 163.66,208.50 163.18,208.54 162.54,208.75 161.74,209.10 160.81,209.61 159.75,210.25 158.59,211.03 157.34,211.92 156.03,212.90 154.68,213.97 153.31,215.11 151.94,216.29 150.60,217.50 149.32,218.71 148.10,219.90 146.98,221.06 145.98,222.16 145.10,223.19 144.37,224.12 143.80,224.95 143.39,225.65 143.16,226.21 143.11,226.63 143.24,226.90 143.54,227.02 144.02,226.97 144.66,226.77 145.46,226.41 146.39,225.90 147.45,225.26 148.61,224.49 149.86,223.60 151.17,222.61 152.52,221.54 153.89,220.40 155.26,219.22 156.60,218.02 157.88,216.80 159.10,215.61 160.22,214.45 161.22,213.35 162.10,212.32 162.83,211.39 163.40,210.57 163.81,209.87 164.04,209.30 164.09,208.88" fill="#fd0c0c" stroke="#fd0c0c" stroke-width="0.4"/>
<polygon points="188.71,208.56 188.45,208.49 188.02,208.58 187.42,208.83 186.67,209.23 185.77,209.77 184.75,210.45 183.61,211.26 182.39,212.18 181.09,213.19 179.75,214.28 178.38,215.43 177.01,216.62 175.66,217.83 174.35,219.04 173.12,220.23 171.97,221.37 170.93,222.45 170.02,223.46 169.25,224.36 168.63,225.15 168.18,225.82 167.90,226.34 167.80,226.72 167.88,226.95 168.13,227.02 168.56,226.93 169.16,226.68 169.91,226.29 170.81,225.74 171.84,225.06 172.97,224.25 174.20,223.34 175.49,222.32 176.84,221.23 178.21,220.08 179.58,218.89 180.92,217.68 182.23,216.47 183.46,215.29 184.61,214.14 185.65,213.06 186.56,212.06 187.34,211.15 187.95,210.36 188.40,209.70 188.68,209.17 188.78,208.79" fill="#fe0707" stroke="#fe0707" stroke-width="0.4"/>
<polygon points="212.51,209.34 211.86,208.91 211.05,208.63 210.11,208.50 209.04,208.53 207.87,208.72 206.62,209.07 205.30,209.56 203.95,210.19 202.57,210.96 201.21,211.84 199.87,212.82 198.59,213.88 197.39,215.01 196.27,216.19 195.28,217.40 194.41,218.61 193.70,219.80 193.14,220.97 192.75,222.07 192.53,223.11 192.50,224.05 192.64,224.88 192.96,225.59 193.45,226.17 194.11,226.60 194.91,226.89 195.86,227.01 196.92,226.98 198.09,226.79 199.35,226.45 200.66,225.95 202.02,225.32 203.39,224.56 204.76,223.68 206.09,222.70 207.37,221.63 208.58,220.50 209.69,219.32 210.68,218.12 211.55,216.91 212.27,215.71 212.83,214.55 213.22,213.44 213.43,212.41 213.47,211.47 213.32,210.63 213.00,209.92" fill="#f75457" stroke="#f75457" stroke-width="0.4"/>
<polygon points="237.40,209.17 236.81,208.79 236.06,208.56 235.16,208.49 234.14,208.58 233.00,208.83 231.78,209.23 230.48,209.78 229.14,210.46 227.77,211.27 226.40,212.19 225.05,213.20 223.75,214.29 222.51,215.44 221.36,216.63 220.32,217.84 219.41,219.05 218.63,220.24 218.02,221.38 217.56,222.46 217.28,223.46 217.18,224.37 217.26,225.16 217.51,225.82 217.94,226.35 218.54,226.73 219.29,226.95 220.18,227.02 221.21,226.93 222.34,226.68 223.57,226.28 224.86,225.74 226.21,225.05 227.58,224.25 228.95,223.33 230.30,222.31 231.60,221.22 232.84,220.07 233.98,218.88 235.02,217.67 235.94,216.46 236.71,215.28 237.33,214.13 237.78,213.05 238.06,212.05 238.17,211.15 238.09,210.36 237.83,209.69" fill="#f84346" stroke="#f84346" stroke-width="0.4"/>
<line x1="241.87" y1="227.02" x2="262.86" y2="208.49" stroke="#f04444" stroke-width="0.7"/>
<polygon points="36.99,233.51 35.89,232.65 34.69,231.90 33.42,231.29 32.09,230.81 30.73,230.49 29.36,230.32 28.00,230.30 26.67,230.45 25.41,230.75 24.23,231.20 23.15,231.80 22.19,232.53 21.36,233.38 20.69,234.33 20.18,235.37 19.83,236.49 19.67,237.66 19.68,238.86 19.87,240.07 20.24,241.27 20.78,242.44 21.48,243.57 22.32,244.62 23.30,245.59 24.40,246.46 25.60,247.20 26.87,247.82 28.20,248.29 29.56,248.62 30.93,248.79 32.29,248.80 33.62,248.65 34.88,248.35 36.06,247.90 37.14,247.30 38.10,246.58 38.93,245.73 39.60,244.77 40.11,243.73 40.46,242.62 40.62,241.45 40.61,240.25 40.42,239.04 40.05,237.83 39.51,236.66 38.81,235.54 37.97,234.48" fill="#d5d5f2" stroke="#d5d5f2" stroke-width="0.4"/>
<polygon points="62.65,232.65 61.67,231.90 60.58,231.29 59.38,230.81 58.11,230.49 56.78,230.32 55.41,230.30 54.04,230.45 52.68,230.75 51.36,231.20 50.10,231.80 48.92,232.53 47.84,233.37 46.88,234.33 46.05,235.37 45.38,236.48 44.87,237.65 44.52,238.85 44.36,240.06 44.37,241.27 44.57,242.44 44.94,243.56 45.47,244.62 46.17,245.59 47.02,246.45 48.00,247.20 49.10,247.82 50.29,248.29 51.57,248.62 52.90,248.79 54.26,248.80 55.63,248.66 56.99,248.35 58.31,247.90 59.57,247.31 60.76,246.58 61.84,245.73 62.80,244.78 63.62,243.73 64.30,242.62 64.81,241.45 65.15,240.25 65.31,239.04 65.30,237.84 65.11,236.67 64.74,235.54 64.20,234.49 63.50,233.52" fill="#fbe1e2" stroke="#fbe1e2" stroke-width="0.4"/>
<polygon points="85.56,234.23 84.38,233.29 83.13,232.45 81.81,231.73 80.45,231.15 79.08,230.71 77.72,230.43 76.38,230.30 75.10,230.33 73.90,230.51 72.79,230.85 71.80,231.34 70.94,231.97 70.22,232.73 69.67,233.61 69.28,234.58 69.07,235.65 69.04,236.78 69.19,237.95 69.52,239.16 70.01,240.37 70.67,241.57 71.48,242.73 72.43,243.84 73.50,244.87 74.67,245.82 75.93,246.65 77.25,247.37 78.60,247.95 79.97,248.39 81.34,248.68 82.67,248.81 83.95,248.78 85.16,248.59 86.26,248.25 87.26,247.76 88.12,247.13 88.83,246.37 89.38,245.50 89.77,244.52 89.98,243.46 90.01,242.33 89.86,241.15 89.54,239.95 89.04,238.74 88.38,237.54 87.57,236.37 86.62,235.27" fill="#a0a0e0" stroke="#a0a0e0" stroke-width="0.4"/>
<polygon points="110.25,234.23 109.07,233.29 107.82,232.45 106.50,231.73 105.14,231.15 103.77,230.71 102.41,230.43 101.07,230.30 99.79,230.33 98.59,230.51 97.48,230.85 96.49,231.34 95.63,231.97 94.92,232.73 94.36,233.61 93.98,234.58 93.77,235.65 93.73,236.78 93.88,237.95 94.21,239.16 94.70,240.37 95.36,241.57 96.17,242.73 97.12,243.84 98.19,244.87 99.36,245.82 100.62,246.65 101.94,247.37 103.29,247.95 104.66,248.39 106.03,248.68 107.36,248.81 108.64,248.78 109.85,248.59 110.95,248.25 111.95,247.76 112.81,247.13 113.52,246.37 114.08,245.50 114.46,244.52 114.67,243.46 114.70,242.33 114.55,241.15 114.23,239.95 113.73,238.74 113.07,237.54 112.26,236.37 111.32,235.27" fill="#a0a0e0" stroke="#a0a0e0" stroke-width="0.4"/>
<polygon points="133.89,235.16 132.64,234.13 131.33,233.20 129.97,232.37 128.60,231.67 127.23,231.10 125.90,230.68 124.61,230.41 123.40,230.29 122.28,230.34 121.27,230.54 120.40,230.89 119.67,231.40 119.10,232.04 118.70,232.81 118.47,233.70 118.42,234.69 118.55,235.76 118.86,236.89 119.34,238.07 119.98,239.28 120.78,240.49 121.71,241.69 122.77,242.84 123.93,243.95 125.18,244.97 126.49,245.91 127.85,246.73 129.22,247.43 130.58,248.00 131.92,248.43 133.21,248.70 134.42,248.81 135.54,248.77 136.54,248.57 137.42,248.21 138.15,247.71 138.72,247.06 139.12,246.29 139.35,245.40 139.40,244.42 139.27,243.35 138.96,242.21 138.48,241.03 137.84,239.82 137.04,238.61 136.11,237.42 135.05,236.26" fill="#6868ce" stroke="#6868ce" stroke-width="0.4"/>
<polygon points="159.81,234.07 158.65,233.14 157.41,232.33 156.10,231.63 154.75,231.07 153.37,230.66 152.01,230.40 150.67,230.29 149.38,230.34 148.16,230.56 147.03,230.92 146.02,231.43 145.14,232.08 144.40,232.86 143.82,233.76 143.41,234.75 143.17,235.82 143.11,236.96 143.23,238.15 143.52,239.35 143.99,240.56 144.63,241.76 145.41,242.91 146.34,244.01 147.39,245.03 148.55,245.96 149.79,246.78 151.10,247.47 152.45,248.03 153.83,248.45 155.19,248.71 156.53,248.81 157.82,248.76 159.04,248.55 160.17,248.18 161.18,247.67 162.06,247.02 162.80,246.24 163.38,245.35 163.79,244.35 164.03,243.28 164.09,242.14 163.97,240.96 163.68,239.75 163.21,238.54 162.57,237.35 161.79,236.19 160.86,235.09" fill="#ababe4" stroke="#ababe4" stroke-width="0.4"/>
<polygon points="184.36,234.19 183.20,233.25 181.94,232.42 180.63,231.71 179.27,231.13 177.90,230.70 176.53,230.42 175.20,230.30 173.92,230.33 172.71,230.52 171.60,230.87 170.60,231.36 169.73,232.00 169.01,232.76 168.45,233.64 168.06,234.63 167.84,235.69 167.80,236.82 167.95,238.00 168.26,239.21 168.75,240.42 169.40,241.61 170.21,242.78 171.15,243.88 172.22,244.91 173.39,245.85 174.64,246.69 175.95,247.40 177.31,247.97 178.68,248.40 180.05,248.68 181.38,248.81 182.66,248.77 183.87,248.58 184.98,248.24 185.98,247.74 186.85,247.11 187.57,246.34 188.13,245.46 188.52,244.48 188.74,243.41 188.78,242.28 188.64,241.10 188.32,239.90 187.83,238.69 187.18,237.49 186.37,236.33 185.43,235.22" fill="#a3a3e1" stroke="#a3a3e1" stroke-width="0.4"/>
<polygon points="210.08,233.28 209.01,232.45 207.84,231.73 206.59,231.15 205.27,230.71 203.91,230.43 202.54,230.30 201.18,230.33 199.84,230.51 198.56,230.85 197.36,231.34 196.25,231.97 195.26,232.73 194.40,233.61 193.68,234.59 193.13,235.65 192.74,236.78 192.53,237.96 192.50,239.16 192.64,240.37 192.97,241.57 193.46,242.73 194.12,243.84 194.93,244.88 195.88,245.82 196.95,246.66 198.12,247.37 199.38,247.95 200.69,248.39 202.05,248.68 203.42,248.81 204.79,248.78 206.12,248.59 207.40,248.25 208.61,247.76 209.71,247.13 210.71,246.37 211.57,245.50 212.28,244.52 212.84,243.45 213.22,242.32 213.43,241.15 213.47,239.94 213.32,238.73 212.99,237.53 212.50,236.37 211.84,235.26 211.03,234.23" fill="#e7e7f7" stroke="#e7e7f7" stroke-width="0.4"/>
<polygon points="235.56,232.59 234.59,231.85 233.50,231.25 232.31,230.78 231.04,230.47 229.72,230.31 228.36,230.31 226.98,230.47 225.62,230.78 224.30,231.24 223.03,231.85 221.84,232.59 220.75,233.44 219.78,234.40 218.95,235.45 218.26,236.57 217.74,237.74 217.38,238.94 217.20,240.16 217.20,241.36 217.38,242.53 217.74,243.65 218.26,244.70 218.95,245.66 219.79,246.51 220.76,247.25 221.85,247.86 223.03,248.32 224.30,248.64 225.63,248.80 226.99,248.80 228.36,248.64 229.72,248.32 231.05,247.86 232.32,247.26 233.50,246.52 234.59,245.66 235.56,244.70 236.40,243.65 237.09,242.53 237.61,241.36 237.97,240.16 238.14,238.95 238.14,237.75 237.96,236.58 237.61,235.46 237.08,234.41 236.40,233.45" fill="#fbdbdd" stroke="#fbdbdd" stroke-width="0.4"/>
<polygon points="258.62,234.03 257.46,233.11 256.22,232.30 254.91,231.61 253.56,231.05 252.19,230.64 250.83,230.39 249.48,230.29 248.19,230.35 246.97,230.57 245.84,230.94 244.82,231.46 243.94,232.11 243.19,232.90 242.60,233.79 242.18,234.79 241.94,235.87 241.87,237.01 241.98,238.19 242.27,239.40 242.74,240.61 243.36,241.80 244.14,242.96 245.06,244.05 246.11,245.07 247.26,246.00 248.51,246.81 249.81,247.50 251.16,248.05 252.53,248.46 253.90,248.72 255.24,248.81 256.54,248.75 257.76,248.54 258.89,248.17 259.90,247.65 260.79,246.99 261.54,246.21 262.12,245.31 262.54,244.31 262.79,243.24 262.86,242.09 262.74,240.91 262.45,239.70 261.99,238.49 261.37,237.30 260.58,236.15 259.66,235.05" fill="#aeaee5" stroke="#aeaee5" stroke-width="0.4"/>
<line x1="266.56" y1="248.82" x2="287.55" y2="230.29" stroke="#f04444" stroke-width="0.7"/>
<text transform="translate(30.15,25.15) scale(0.872,1)" font-size="9.4" text-anchor="middle" fill="#000" stroke="#000" stroke-width="0.22">1.0</text>
<text transform="translate(30.15,46.94) scale(0.872,1)" font-size="9.4" text-anchor="middle" fill="#000" stroke="#000" stroke-width="0.22">-0.61</text>
<text transform="translate(54.84,46.94) scale(0.872,1)" font-size="9.4" text-anchor="middle" fill="#000" stroke="#000" stroke-width="0.22">1.0</text>
<text transform="translate(30.15,68.74) scale(0.872,1)" font-size="9.4" text-anchor="middle" fill="#000" stroke="#000" stroke-width="0.22">0.24</text>
<text transform="translate(54.84,68.74) scale(0.872,1)" font-size="9.4" text-anchor="middle" fill="#000" stroke="#000" stroke-width="0.22">0.13</text>
<text transform="translate(79.53,68.74) scale(0.872,1)" font-size="9.4" text-anchor="middle" fill="#000" stroke="#000" stroke-width="0.22">1.0</text>
<text transform="translate(30.15,90.53) scale(0.872,1)" font-size="9.4" text-anchor="middle" fill="#000" stroke="#000" stroke-width="0.22">0.24</text>
<text transform="translate(54.84,90.53) scale(0.872,1)" font-size="9.4" text-anchor="middle" fill="#000" stroke="#000" stroke-width="0.22">0.13</text>
<text transform="translate(79.53,90.53) scale(0.872,1)" font-size="9.4" text-anchor="middle" fill="#000" stroke="#000" stroke-width="0.22">1.0</text>
<text transform="translate(104.22,90.53) scale(0.872,1)" font-size="9.4" text-anchor="middle" fill="#000" stroke="#000" stroke-width="0.22">1.0</text>
<text transform="translate(30.15,112.33) scale(0.872,1)" font-size="9.4" text-anchor="middle" fill="#000" stroke="#000" stroke-width="0.22">0.23</text>
<text transform="translate(54.84,112.33) scale(0.872,1)" font-size="9.4" text-anchor="middle" fill="#000" stroke="#000" stroke-width="0.22">-0.036</text>
<text transform="translate(79.53,112.33) scale(0.872,1)" font-size="9.4" text-anchor="middle" fill="#000" stroke="#000" stroke-width="0.22">0.15</text>
<text transform="translate(104.22,112.33) scale(0.872,1)" font-size="9.4" text-anchor="middle" fill="#000" stroke="#000" stroke-width="0.22">0.15</text>
<text transform="translate(128.91,112.33) scale(0.872,1)" font-size="9.4" text-anchor="middle" fill="#000" stroke="#000" stroke-width="0.22">1.0</text>
<text transform="translate(30.15,134.12) scale(0.872,1)" font-size="9.4" text-anchor="middle" fill="#000" stroke="#000" stroke-width="0.22">0.19</text>
<text transform="translate(54.84,134.12) scale(0.872,1)" font-size="9.4" text-anchor="middle" fill="#000" stroke="#000" stroke-width="0.22">0.0078</text>
<text transform="translate(79.53,134.12) scale(0.872,1)" font-size="9.4" text-anchor="middle" fill="#000" stroke="#000" stroke-width="0.22">0.082</text>
<text transform="translate(104.22,134.12) scale(0.872,1)" font-size="9.4" text-anchor="middle" fill="#000" stroke="#000" stroke-width="0.22">0.082</text>
<text transform="translate(128.91,134.12) scale(0.872,1)" font-size="9.4" text-anchor="middle" fill="#000" stroke="#000" stroke-width="0.22">0.96</text>
<text transform="translate(153.60,134.12) scale(0.872,1)" font-size="9.4" text-anchor="middle" fill="#000" stroke="#000" stroke-width="0.22">1.0</text>
<text transform="translate(30.15,155.92) scale(0.872,1)" font-size="9.4" text-anchor="middle" fill="#000" stroke="#000" stroke-width="0.22">0.23</text>
<text transform="translate(54.84,155.92) scale(0.872,1)" font-size="9.4" text-anchor="middle" fill="#000" stroke="#000" stroke-width="0.22">-0.0055</text>
<text transform="translate(79.53,155.92) scale(0.872,1)" font-size="9.4" text-anchor="middle" fill="#000" stroke="#000" stroke-width="0.22">0.15</text>
<text transform="translate(104.22,155.92) scale(0.872,1)" font-size="9.4" text-anchor="middle" fill="#000" stroke="#000" stroke-width="0.22">0.15</text>
<text transform="translate(128.91,155.92) scale(0.872,1)" font-size="9.4" text-anchor="middle" fill="#000" stroke="#000" stroke-width="0.22">0.95</text>
<text transform="translate(153.60,155.92) scale(0.872,1)" font-size="9.4" text-anchor="middle" fill="#000" stroke="#000" stroke-width="0.22">0.97</text>
<text transform="translate(178.29,155.92) scale(0.872,1)" font-size="9.4" text-anchor="middle" fill="#000" stroke="#000" stroke-width="0.22">1.0</text>
<text transform="translate(30.15,177.72) scale(0.872,1)" font-size="9.4" text-anchor="middle" fill="#000" stroke="#000" stroke-width="0.22">0.24</text>
<text transform="translate(54.84,177.72) scale(0.872,1)" font-size="9.4" text-anchor="middle" fill="#000" stroke="#000" stroke-width="0.22">-0.027</text>
<text transform="translate(79.53,177.72) scale(0.872,1)" font-size="9.4" text-anchor="middle" fill="#000" stroke="#000" stroke-width="0.22">0.23</text>
<text transform="translate(104.22,177.72) scale(0.872,1)" font-size="9.4" text-anchor="middle" fill="#000" stroke="#000" stroke-width="0.22">0.23</text>
<text transform="translate(128.91,177.72) scale(0.872,1)" font-size="9.4" text-anchor="middle" fill="#000" stroke="#000" stroke-width="0.22">0.48</text>
<text transform="translate(153.60,177.72) scale(0.872,1)" font-size="9.4" text-anchor="middle" fill="#000" stroke="#000" stroke-width="0.22">0.50</text>
<text transform="translate(178.29,177.72) scale(0.872,1)" font-size="9.4" text-anchor="middle" fill="#000" stroke="#000" stroke-width="0.22">0.67</text>
<text transform="translate(202.98,177.72) scale(0.872,1)" font-size="9.4" text-anchor="middle" fill="#000" stroke="#000" stroke-width="0.22">1.0</text>
<text transform="translate(30.15,199.51) scale(0.872,1)" font-size="9.4" text-anchor="middle" fill="#000" stroke="#000" stroke-width="0.22">0.18</text>
<text transform="translate(54.84,199.51) scale(0.872,1)" font-size="9.4" text-anchor="middle" fill="#000" stroke="#000" stroke-width="0.22">0.019</text>
<text transform="translate(79.53,199.51) scale(0.872,1)" font-size="9.4" text-anchor="middle" fill="#000" stroke="#000" stroke-width="0.22">0.18</text>
<text transform="translate(104.22,199.51) scale(0.872,1)" font-size="9.4" text-anchor="middle" fill="#000" stroke="#000" stroke-width="0.22">0.18</text>
<text transform="translate(128.91,199.51) scale(0.872,1)" font-size="9.4" text-anchor="middle" fill="#000" stroke="#000" stroke-width="0.22">0.43</text>
<text transform="translate(153.60,199.51) scale(0.872,1)" font-size="9.4" text-anchor="middle" fill="#000" stroke="#000" stroke-width="0.22">0.52</text>
<text transform="translate(178.29,199.51) scale(0.872,1)" font-size="9.4" text-anchor="middle" fill="#000" stroke="#000" stroke-width="0.22">0.68</text>
<text transform="translate(202.98,199.51) scale(0.872,1)" font-size="9.4" text-anchor="middle" fill="#000" stroke="#000" stroke-width="0.22">0.85</text>
<text transform="translate(227.67,199.51) scale(0.872,1)" font-size="9.4" text-anchor="middle" fill="#000" stroke="#000" stroke-width="0.22">1.0</text>
<text transform="translate(30.15,221.31) scale(0.872,1)" font-size="9.4" text-anchor="middle" fill="#000" stroke="#000" stroke-width="0.22">0.23</text>
<text transform="translate(54.84,221.31) scale(0.872,1)" font-size="9.4" text-anchor="middle" fill="#000" stroke="#000" stroke-width="0.22">-0.0029</text>
<text transform="translate(79.53,221.31) scale(0.872,1)" font-size="9.4" text-anchor="middle" fill="#000" stroke="#000" stroke-width="0.22">0.18</text>
<text transform="translate(104.22,221.31) scale(0.872,1)" font-size="9.4" text-anchor="middle" fill="#000" stroke="#000" stroke-width="0.22">0.18</text>
<text transform="translate(128.91,221.31) scale(0.872,1)" font-size="9.4" text-anchor="middle" fill="#000" stroke="#000" stroke-width="0.22">0.92</text>
<text transform="translate(153.60,221.31) scale(0.872,1)" font-size="9.4" text-anchor="middle" fill="#000" stroke="#000" stroke-width="0.22">0.95</text>
<text transform="translate(178.29,221.31) scale(0.872,1)" font-size="9.4" text-anchor="middle" fill="#000" stroke="#000" stroke-width="0.22">0.97</text>
<text transform="translate(202.98,221.31) scale(0.872,1)" font-size="9.4" text-anchor="middle" fill="#000" stroke="#000" stroke-width="0.22">0.65</text>
<text transform="translate(227.67,221.31) scale(0.872,1)" font-size="9.4" text-anchor="middle" fill="#000" stroke="#000" stroke-width="0.22">0.72</text>
<text transform="translate(252.36,221.31) scale(0.872,1)" font-size="9.4" text-anchor="middle" fill="#000" stroke="#000" stroke-width="0.22">1.0</text>
<text transform="translate(30.15,243.10) scale(0.872,1)" font-size="9.4" text-anchor="middle" fill="#000" stroke="#000" stroke-width="0.22">-0.15</text>
<text transform="translate(54.84,243.10) scale(0.872,1)" font-size="9.4" text-anchor="middle" fill="#000" stroke="#000" stroke-width="0.22">0.11</text>
<text transform="translate(79.53,243.10) scale(0.872,1)" font-size="9.4" text-anchor="middle" fill="#000" stroke="#000" stroke-width="0.22">-0.34</text>
<text transform="translate(104.22,243.10) scale(0.872,1)" font-size="9.4" text-anchor="middle" fill="#000" stroke="#000" stroke-width="0.22">-0.34</text>
<text transform="translate(128.91,243.10) scale(0.872,1)" font-size="9.4" text-anchor="middle" fill="#000" stroke="#000" stroke-width="0.22">-0.55</text>
<text transform="translate(153.60,243.10) scale(0.872,1)" font-size="9.4" text-anchor="middle" fill="#000" stroke="#000" stroke-width="0.22">-0.30</text>
<text transform="translate(178.29,243.10) scale(0.872,1)" font-size="9.4" text-anchor="middle" fill="#000" stroke="#000" stroke-width="0.22">-0.33</text>
<text transform="translate(202.98,243.10) scale(0.872,1)" font-size="9.4" text-anchor="middle" fill="#000" stroke="#000" stroke-width="0.22">-0.084</text>
<text transform="translate(227.67,243.10) scale(0.872,1)" font-size="9.4" text-anchor="middle" fill="#000" stroke="#000" stroke-width="0.22">0.13</text>
<text transform="translate(252.36,243.10) scale(0.872,1)" font-size="9.4" text-anchor="middle" fill="#000" stroke="#000" stroke-width="0.22">-0.29</text>
<text transform="translate(277.05,243.10) scale(0.872,1)" font-size="9.4" text-anchor="middle" fill="#000" stroke="#000" stroke-width="0.22">1.0</text>
<path d="M17.95 10.70V250.45" fill="none" stroke="#444" stroke-width="1.3"/>
<path d="M17.30 250.45H289.40" fill="none" stroke="#3a3a3a" stroke-width="1.3"/>
<text transform="translate(14.65,24.90) scale(0.89,1)" font-size="8.9" text-anchor="end" fill="#000" stroke="#000" stroke-width="0.15">pH</text>
<text transform="translate(14.65,46.69) scale(0.89,1)" font-size="8.9" text-anchor="end" fill="#000" stroke="#000" stroke-width="0.15">EC</text>
<text transform="translate(14.65,68.49) scale(0.89,1)" font-size="8.9" text-anchor="end" fill="#000" stroke="#000" stroke-width="0.15">OM</text>
<text transform="translate(14.65,90.28) scale(0.89,1)" font-size="8.9" text-anchor="end" fill="#000" stroke="#000" stroke-width="0.15">NC</text>
<text transform="translate(14.65,112.08) scale(0.89,1)" font-size="8.9" text-anchor="end" fill="#000" stroke="#000" stroke-width="0.15">Hg</text>
<text transform="translate(14.65,133.88) scale(0.89,1)" font-size="8.9" text-anchor="end" fill="#000" stroke="#000" stroke-width="0.15">Cr</text>
<text transform="translate(14.65,155.67) scale(0.89,1)" font-size="8.9" text-anchor="end" fill="#000" stroke="#000" stroke-width="0.15">Ni</text>
<text transform="translate(14.65,177.47) scale(0.89,1)" font-size="8.9" text-anchor="end" fill="#000" stroke="#000" stroke-width="0.15">Pb</text>
<text transform="translate(14.65,199.26) scale(0.89,1)" font-size="8.9" text-anchor="end" fill="#000" stroke="#000" stroke-width="0.15">Zn</text>
<text transform="translate(14.65,221.06) scale(0.89,1)" font-size="8.9" text-anchor="end" fill="#000" stroke="#000" stroke-width="0.15">Cu</text>
<text transform="translate(14.65,242.85) scale(0.89,1)" font-size="8.9" text-anchor="end" fill="#000" stroke="#000" stroke-width="0.15">Cd</text>
<text transform="translate(30.15,6.90) scale(0.845,1)" font-size="9.4" text-anchor="middle" fill="#000" stroke="#000" stroke-width="0.15">pH</text>
<text transform="translate(54.84,28.70) scale(0.845,1)" font-size="9.4" text-anchor="middle" fill="#000" stroke="#000" stroke-width="0.15">EC</text>
<text transform="translate(79.53,50.49) scale(0.845,1)" font-size="9.4" text-anchor="middle" fill="#000" stroke="#000" stroke-width="0.15">OM</text>
<text transform="translate(104.22,72.29) scale(0.845,1)" font-size="9.4" text-anchor="middle" fill="#000" stroke="#000" stroke-width="0.15">NC</text>
<text transform="translate(128.91,94.08) scale(0.845,1)" font-size="9.4" text-anchor="middle" fill="#000" stroke="#000" stroke-width="0.15">Hg</text>
<text transform="translate(153.60,115.88) scale(0.845,1)" font-size="9.4" text-anchor="middle" fill="#000" stroke="#000" stroke-width="0.15">Cr</text>
<text transform="translate(178.29,137.67) scale(0.845,1)" font-size="9.4" text-anchor="middle" fill="#000" stroke="#000" stroke-width="0.15">Ni</text>
<text transform="translate(202.98,159.47) scale(0.845,1)" font-size="9.4" text-anchor="middle" fill="#000" stroke="#000" stroke-width="0.15">Pb</text>
<text transform="translate(227.67,181.26) scale(0.845,1)" font-size="9.4" text-anchor="middle" fill="#000" stroke="#000" stroke-width="0.15">Zn</text>
<text transform="translate(252.36,203.06) scale(0.845,1)" font-size="9.4" text-anchor="middle" fill="#000" stroke="#000" stroke-width="0.15">Cu</text>
<text transform="translate(277.05,224.85) scale(0.845,1)" font-size="9.4" text-anchor="middle" fill="#000" stroke="#000" stroke-width="0.15">Cd</text>
<rect x="293.0" y="10.3" width="16.00" height="239.70" fill="url(#cbg)" stroke="#555" stroke-width="0.8"/>
<text transform="translate(315.60,13.35) scale(0.95,1)" font-size="6.5" text-anchor="start" fill="#111">1.0</text>
<text transform="translate(315.60,37.32) scale(0.95,1)" font-size="6.5" text-anchor="start" fill="#111">0.80</text>
<text transform="translate(315.60,61.29) scale(0.95,1)" font-size="6.5" text-anchor="start" fill="#111">0.60</text>
<text transform="translate(315.60,85.26) scale(0.95,1)" font-size="6.5" text-anchor="start" fill="#111">0.40</text>
<text transform="translate(315.60,109.23) scale(0.95,1)" font-size="6.5" text-anchor="start" fill="#111">0.20</text>
<text transform="translate(315.60,133.20) scale(0.95,1)" font-size="6.5" text-anchor="start" fill="#111">0.0</text>
<text transform="translate(315.60,157.17) scale(0.95,1)" font-size="6.5" text-anchor="start" fill="#111">-0.20</text>
<text transform="translate(315.60,181.14) scale(0.95,1)" font-size="6.5" text-anchor="start" fill="#111">-0.40</text>
<text transform="translate(315.60,205.11) scale(0.95,1)" font-size="6.5" text-anchor="start" fill="#111">-0.60</text>
<text transform="translate(315.60,229.08) scale(0.95,1)" font-size="6.5" text-anchor="start" fill="#111">-0.80</text>
<text transform="translate(315.60,253.05) scale(0.95,1)" font-size="6.5" text-anchor="start" fill="#111">-1.0</text>
<path d="M309.00 10.65h4 M309.00 34.62h4 M309.00 58.59h4 M309.00 82.56h4 M309.00 106.53h4 M309.00 130.50h4 M309.00 154.47h4 M309.00 178.44h4 M309.00 202.41h4 M309.00 226.38h4 M309.00 250.35h4" stroke="#444" stroke-width="1"/>
<text transform="translate(286.20,23.40) scale(0.84,1)" font-size="13.3" text-anchor="end" fill="#f00">a) Wheat</text>
<path d="M365.50 11.50h25.47v21.77h-25.47z M365.50 33.27h25.47v21.77h-25.47z M390.97 33.27h25.47v21.77h-25.47z M365.50 55.05h25.47v21.77h-25.47z M390.97 55.05h25.47v21.77h-25.47z M416.45 55.05h25.47v21.77h-25.47z M365.50 76.82h25.47v21.77h-25.47z M390.97 76.82h25.47v21.77h-25.47z M416.45 76.82h25.47v21.77h-25.47z M441.92 76.82h25.47v21.77h-25.47z M365.50 98.59h25.47v21.77h-25.47z M390.97 98.59h25.47v21.77h-25.47z M416.45 98.59h25.47v21.77h-25.47z M441.92 98.59h25.47v21.77h-25.47z M467.39 98.59h25.47v21.77h-25.47z M365.50 120.36h25.47v21.77h-25.47z M390.97 120.36h25.47v21.77h-25.47z M416.45 120.36h25.47v21.77h-25.47z M441.92 120.36h25.47v21.77h-25.47z M467.39 120.36h25.47v21.77h-25.47z M492.86 120.36h25.47v21.77h-25.47z M365.50 142.14h25.47v21.77h-25.47z M390.97 142.14h25.47v21.77h-25.47z M416.45 142.14h25.47v21.77h-25.47z M441.92 142.14h25.47v21.77h-25.47z M467.39 142.14h25.47v21.77h-25.47z M492.86 142.14h25.47v21.77h-25.47z M518.34 142.14h25.47v21.77h-25.47z M365.50 163.91h25.47v21.77h-25.47z M390.97 163.91h25.47v21.77h-25.47z M416.45 163.91h25.47v21.77h-25.47z M441.92 163.91h25.47v21.77h-25.47z M467.39 163.91h25.47v21.77h-25.47z M492.86 163.91h25.47v21.77h-25.47z M518.34 163.91h25.47v21.77h-25.47z M543.81 163.91h25.47v21.77h-25.47z M365.50 185.68h25.47v21.77h-25.47z M390.97 185.68h25.47v21.77h-25.47z M416.45 185.68h25.47v21.77h-25.47z M441.92 185.68h25.47v21.77h-25.47z M467.39 185.68h25.47v21.77h-25.47z M492.86 185.68h25.47v21.77h-25.47z M518.34 185.68h25.47v21.77h-25.47z M543.81 185.68h25.47v21.77h-25.47z M569.28 185.68h25.47v21.77h-25.47z M365.50 207.45h25.47v21.77h-25.47z M390.97 207.45h25.47v21.77h-25.47z M416.45 207.45h25.47v21.77h-25.47z M441.92 207.45h25.47v21.77h-25.47z M467.39 207.45h25.47v21.77h-25.47z M492.86 207.45h25.47v21.77h-25.47z M518.34 207.45h25.47v21.77h-25.47z M543.81 207.45h25.47v21.77h-25.47z M569.28 207.45h25.47v21.77h-25.47z M594.75 207.45h25.47v21.77h-25.47z M365.50 229.23h25.47v21.77h-25.47z M390.97 229.23h25.47v21.77h-25.47z M416.45 229.23h25.47v21.77h-25.47z M441.92 229.23h25.47v21.77h-25.47z M467.39 229.23h25.47v21.77h-25.47z M492.86 229.23h25.47v21.77h-25.47z M518.34 229.23h25.47v21.77h-25.47z M543.81 229.23h25.47v21.77h-25.47z M569.28 229.23h25.47v21.77h-25.47z M594.75 229.23h25.47v21.77h-25.47z M620.23 229.23h25.47v21.77h-25.47z" fill="none" stroke="#e6e6e6" stroke-width="0.7"/>
<line x1="367.41" y1="31.64" x2="389.06" y2="13.13" stroke="#f04444" stroke-width="0.7"/>
<polygon points="384.12,39.13 382.88,38.16 381.56,37.29 380.19,36.54 378.78,35.92 377.37,35.44 375.97,35.11 374.60,34.94 373.30,34.92 372.09,35.06 370.98,35.35 369.99,35.80 369.15,36.39 368.46,37.11 367.93,37.96 367.59,38.90 367.42,39.94 367.45,41.05 367.65,42.22 368.04,43.42 368.60,44.63 369.33,45.83 370.20,47.00 371.22,48.13 372.36,49.18 373.59,50.16 374.91,51.02 376.28,51.78 377.69,52.40 379.11,52.88 380.51,53.21 381.87,53.38 383.17,53.40 384.38,53.26 385.49,52.96 386.48,52.52 387.33,51.93 388.02,51.21 388.54,50.36 388.88,49.41 389.05,48.37 389.03,47.26 388.82,46.10 388.43,44.90 387.87,43.69 387.15,42.49 386.27,41.32 385.25,40.19" fill="#8d8dda" stroke="#8d8dda" stroke-width="0.4"/>
<line x1="392.88" y1="53.41" x2="414.54" y2="34.91" stroke="#f04444" stroke-width="0.7"/>
<polygon points="387.49,58.03 386.67,57.47 385.71,57.05 384.63,56.79 383.43,56.68 382.15,56.73 380.80,56.94 379.40,57.30 377.99,57.81 376.58,58.46 375.20,59.24 373.87,60.13 372.61,61.12 371.45,62.20 370.41,63.33 369.50,64.52 368.74,65.72 368.14,66.93 367.72,68.12 367.47,69.28 367.41,70.37 367.54,71.40 367.85,72.32 368.33,73.14 368.99,73.84 369.80,74.40 370.76,74.81 371.84,75.08 373.04,75.18 374.32,75.13 375.67,74.92 377.07,74.56 378.48,74.05 379.89,73.40 381.28,72.62 382.61,71.73 383.86,70.74 385.02,69.67 386.06,68.53 386.97,67.35 387.73,66.14 388.33,64.93 388.75,63.74 389.00,62.59 389.06,61.49 388.93,60.47 388.63,59.54 388.14,58.72" fill="#f68488" stroke="#f68488" stroke-width="0.4"/>
<polygon points="412.73,58.22 411.88,57.62 410.88,57.16 409.76,56.85 408.54,56.70 407.23,56.70 405.86,56.86 404.46,57.18 403.04,57.65 401.64,58.26 400.27,59.00 398.96,59.86 397.73,60.82 396.60,61.87 395.60,62.99 394.73,64.16 394.02,65.36 393.47,66.57 393.10,67.77 392.91,68.94 392.90,70.06 393.08,71.10 393.44,72.06 393.98,72.91 394.68,73.65 395.54,74.25 396.54,74.71 397.66,75.01 398.88,75.17 400.19,75.16 401.55,75.00 402.96,74.68 404.37,74.21 405.78,73.61 407.15,72.86 408.46,72.01 409.69,71.04 410.81,69.99 411.82,68.87 412.69,67.70 413.40,66.50 413.95,65.29 414.32,64.09 414.51,62.92 414.51,61.81 414.34,60.76 413.97,59.80 413.44,58.95" fill="#f6969a" stroke="#f6969a" stroke-width="0.4"/>
<line x1="418.36" y1="75.19" x2="440.01" y2="56.68" stroke="#f04444" stroke-width="0.7"/>
<polygon points="387.49,79.80 386.67,79.24 385.71,78.82 384.63,78.56 383.43,78.45 382.15,78.51 380.80,78.71 379.40,79.08 377.99,79.59 376.58,80.24 375.20,81.01 373.87,81.91 372.61,82.90 371.45,83.97 370.41,85.11 369.50,86.29 368.74,87.49 368.14,88.70 367.72,89.90 367.47,91.05 367.41,92.15 367.54,93.17 367.85,94.10 368.33,94.92 368.99,95.61 369.80,96.17 370.76,96.59 371.84,96.85 373.04,96.96 374.32,96.90 375.67,96.69 377.07,96.33 378.48,95.82 379.89,95.17 381.28,94.40 382.61,93.50 383.86,92.51 385.02,91.44 386.06,90.30 386.97,89.12 387.73,87.92 388.33,86.71 388.75,85.51 389.00,84.36 389.06,83.26 388.93,82.24 388.63,81.31 388.14,80.49" fill="#f68488" stroke="#f68488" stroke-width="0.4"/>
<polygon points="412.73,79.99 411.88,79.39 410.88,78.93 409.76,78.62 408.54,78.47 407.23,78.47 405.86,78.64 404.46,78.95 403.04,79.42 401.64,80.03 400.27,80.77 398.96,81.63 397.73,82.59 396.60,83.64 395.60,84.76 394.73,85.94 394.02,87.14 393.47,88.35 393.10,89.55 392.91,90.71 392.90,91.83 393.08,92.88 393.44,93.83 393.98,94.69 394.68,95.42 395.54,96.02 396.54,96.48 397.66,96.79 398.88,96.94 400.19,96.94 401.55,96.77 402.96,96.46 404.37,95.99 405.78,95.38 407.15,94.64 408.46,93.78 409.69,92.81 410.81,91.76 411.82,90.64 412.69,89.47 413.40,88.27 413.95,87.06 414.32,85.86 414.51,84.70 414.51,83.58 414.34,82.53 413.97,81.58 413.44,80.72" fill="#f6969a" stroke="#f6969a" stroke-width="0.4"/>
<line x1="418.36" y1="96.96" x2="440.01" y2="78.45" stroke="#f04444" stroke-width="0.7"/>
<line x1="443.83" y1="96.96" x2="465.48" y2="78.45" stroke="#f04444" stroke-width="0.7"/>
<polygon points="384.64,104.00 383.45,103.08 382.16,102.26 380.81,101.56 379.42,101.01 378.00,100.59 376.59,100.33 375.21,100.23 373.88,100.28 372.62,100.49 371.46,100.85 370.42,101.37 369.51,102.02 368.75,102.80 368.15,103.69 367.72,104.68 367.48,105.75 367.41,106.89 367.54,108.07 367.84,109.28 368.33,110.49 368.98,111.68 369.79,112.83 370.75,113.93 371.83,114.95 373.03,115.88 374.31,116.70 375.66,117.39 377.05,117.95 378.47,118.36 379.88,118.62 381.26,118.73 382.59,118.68 383.85,118.46 385.01,118.10 386.05,117.59 386.96,116.94 387.73,116.16 388.32,115.27 388.75,114.27 389.00,113.20 389.06,112.06 388.94,110.88 388.63,109.68 388.15,108.47 387.49,107.27 386.68,106.12 385.73,105.02" fill="#ababe4" stroke="#ababe4" stroke-width="0.4"/>
<polygon points="410.68,103.52 409.54,102.64 408.30,101.89 406.98,101.26 405.61,100.78 404.20,100.44 402.79,100.26 401.39,100.23 400.03,100.37 398.73,100.66 397.52,101.10 396.41,101.68 395.43,102.40 394.59,103.24 393.91,104.18 393.39,105.22 393.05,106.33 392.89,107.49 392.92,108.69 393.14,109.90 393.53,111.10 394.10,112.28 394.83,113.40 395.71,114.46 396.73,115.44 397.88,116.31 399.12,117.07 400.43,117.69 401.81,118.18 403.22,118.52 404.63,118.70 406.03,118.72 407.39,118.59 408.69,118.30 409.90,117.86 411.01,117.27 411.99,116.55 412.83,115.72 413.51,114.77 414.03,113.73 414.37,112.63 414.52,111.46 414.50,110.27 414.28,109.06 413.89,107.85 413.32,106.68 412.59,105.55 411.70,104.49" fill="#cfcff0" stroke="#cfcff0" stroke-width="0.4"/>
<polygon points="435.63,103.96 434.44,103.04 433.16,102.23 431.81,101.54 430.42,100.99 429.01,100.58 427.59,100.32 426.21,100.23 424.88,100.28 423.62,100.50 422.45,100.87 421.40,101.39 420.49,102.05 419.72,102.83 419.11,103.73 418.68,104.72 418.43,105.80 418.36,106.94 418.47,108.12 418.77,109.33 419.25,110.54 419.90,111.73 420.70,112.88 421.65,113.97 422.73,114.99 423.92,115.91 425.20,116.73 426.55,117.41 427.94,117.97 429.36,118.38 430.77,118.63 432.15,118.73 433.49,118.67 434.75,118.45 435.91,118.08 436.96,117.56 437.88,116.91 438.64,116.13 439.25,115.23 439.68,114.23 439.94,113.16 440.01,112.02 439.89,110.83 439.59,109.63 439.12,108.42 438.47,107.23 437.66,106.08 436.71,104.98" fill="#aeaee5" stroke="#aeaee5" stroke-width="0.4"/>
<polygon points="461.10,103.96 459.91,103.04 458.63,102.23 457.29,101.54 455.89,100.99 454.48,100.58 453.07,100.32 451.68,100.23 450.35,100.28 449.09,100.50 447.93,100.87 446.88,101.39 445.96,102.05 445.19,102.83 444.59,103.73 444.15,104.72 443.90,105.80 443.83,106.94 443.95,108.12 444.24,109.33 444.72,110.54 445.37,111.73 446.17,112.88 447.12,113.97 448.20,114.99 449.39,115.91 450.67,116.73 452.02,117.41 453.42,117.97 454.83,118.38 456.24,118.63 457.63,118.73 458.96,118.67 460.22,118.45 461.38,118.08 462.43,117.56 463.35,116.91 464.12,116.13 464.72,115.23 465.16,114.23 465.41,113.16 465.48,112.02 465.36,110.83 465.06,109.63 464.59,108.42 463.94,107.23 463.14,106.08 462.18,104.98" fill="#aeaee5" stroke="#aeaee5" stroke-width="0.4"/>
<line x1="469.30" y1="118.73" x2="490.95" y2="100.22" stroke="#f04444" stroke-width="0.7"/>
<polygon points="384.78,125.66 383.59,124.74 382.32,123.94 380.98,123.26 379.59,122.72 378.17,122.33 376.76,122.08 375.37,122.00 374.04,122.07 372.77,122.30 371.60,122.68 370.54,123.21 369.61,123.88 368.83,124.67 368.21,125.57 367.76,126.58 367.50,127.66 367.41,128.80 367.51,129.99 367.80,131.20 368.26,132.40 368.89,133.59 369.69,134.74 370.63,135.83 371.70,136.84 372.88,137.76 374.15,138.56 375.50,139.24 376.89,139.78 378.30,140.17 379.71,140.42 381.10,140.50 382.44,140.43 383.70,140.20 384.88,139.82 385.94,139.29 386.86,138.62 387.64,137.83 388.26,136.93 388.71,135.92 388.98,134.84 389.06,133.70 388.96,132.51 388.68,131.30 388.21,130.10 387.58,128.91 386.79,127.76 385.85,126.67" fill="#b3b3e7" stroke="#b3b3e7" stroke-width="0.4"/>
<polygon points="410.60,125.36 409.45,124.48 408.20,123.71 406.88,123.08 405.50,122.58 404.09,122.23 402.68,122.04 401.28,122.00 399.92,122.12 398.63,122.40 397.43,122.83 396.33,123.40 395.36,124.11 394.53,124.94 393.86,125.88 393.36,126.91 393.03,128.01 392.89,129.17 392.93,130.37 393.16,131.58 393.57,132.78 394.15,133.96 394.89,135.09 395.79,136.16 396.82,137.14 397.97,138.02 399.22,138.79 400.54,139.42 401.92,139.92 403.33,140.27 404.74,140.46 406.14,140.50 407.50,140.38 408.79,140.10 409.99,139.67 411.09,139.10 412.06,138.39 412.89,137.56 413.56,136.62 414.06,135.59 414.39,134.49 414.53,133.33 414.49,132.13 414.26,130.92 413.85,129.72 413.27,128.54 412.53,127.41 411.63,126.34" fill="#c9c9ee" stroke="#c9c9ee" stroke-width="0.4"/>
<polygon points="435.68,125.70 434.49,124.78 433.21,123.97 431.87,123.29 430.48,122.74 429.06,122.34 427.65,122.09 426.27,122.00 424.93,122.06 423.67,122.29 422.50,122.66 421.44,123.19 420.52,123.85 419.75,124.64 419.14,125.54 418.69,126.54 418.43,127.62 418.36,128.76 418.46,129.94 418.76,131.15 419.23,132.36 419.87,133.55 420.67,134.70 421.61,135.79 422.69,136.80 423.87,137.72 425.15,138.53 426.50,139.21 427.89,139.76 429.30,140.16 430.71,140.41 432.10,140.50 433.43,140.44 434.70,140.21 435.87,139.84 436.92,139.31 437.84,138.65 438.62,137.86 439.23,136.96 439.67,135.96 439.93,134.88 440.01,133.74 439.90,132.56 439.61,131.35 439.14,130.14 438.50,128.95 437.70,127.80 436.75,126.71" fill="#b1b1e6" stroke="#b1b1e6" stroke-width="0.4"/>
<polygon points="461.15,125.70 459.96,124.78 458.69,123.97 457.34,123.29 455.95,122.74 454.54,122.34 453.12,122.09 451.74,122.00 450.40,122.06 449.14,122.29 447.97,122.66 446.92,123.19 445.99,123.85 445.22,124.64 444.61,125.54 444.17,126.54 443.91,127.62 443.83,128.76 443.94,129.94 444.23,131.15 444.70,132.36 445.34,133.55 446.14,134.70 447.08,135.79 448.16,136.80 449.35,137.72 450.62,138.53 451.97,139.21 453.36,139.76 454.77,140.16 456.19,140.41 457.57,140.50 458.91,140.44 460.17,140.21 461.34,139.84 462.39,139.31 463.32,138.65 464.09,137.86 464.70,136.96 465.14,135.96 465.40,134.88 465.48,133.74 465.37,132.56 465.08,131.35 464.61,130.14 463.97,128.95 463.17,127.80 462.22,126.71" fill="#b1b1e6" stroke="#b1b1e6" stroke-width="0.4"/>
<polygon points="490.79,122.14 490.45,122.01 489.94,122.03 489.26,122.22 488.42,122.56 487.44,123.04 486.34,123.67 485.13,124.43 483.83,125.31 482.48,126.28 481.08,127.34 479.66,128.47 478.25,129.65 476.88,130.85 475.56,132.06 474.31,133.26 473.17,134.42 472.15,135.53 471.26,136.56 470.53,137.50 469.96,138.34 469.56,139.06 469.34,139.64 469.31,140.08 469.46,140.36 469.80,140.49 470.31,140.47 470.99,140.28 471.83,139.94 472.81,139.46 473.91,138.83 475.12,138.07 476.42,137.19 477.78,136.22 479.18,135.16 480.59,134.03 482.00,132.85 483.38,131.65 484.70,130.44 485.94,129.24 487.08,128.08 488.11,126.97 488.99,125.94 489.73,125.00 490.30,124.16 490.70,123.44 490.91,122.86 490.94,122.42" fill="#fd0e0f" stroke="#fd0e0f" stroke-width="0.4"/>
<line x1="494.77" y1="140.50" x2="516.43" y2="122.00" stroke="#f04444" stroke-width="0.7"/>
<polygon points="384.95,147.28 383.79,146.38 382.53,145.60 381.19,144.94 379.81,144.42 378.40,144.05 376.98,143.83 375.59,143.77 374.24,143.87 372.96,144.12 371.77,144.53 370.70,145.08 369.75,145.77 368.94,146.58 368.30,147.50 367.82,148.52 367.53,149.61 367.41,150.76 367.48,151.95 367.74,153.16 368.17,154.37 368.78,155.55 369.55,156.69 370.47,157.77 371.52,158.76 372.68,159.66 373.95,160.45 375.28,161.10 376.66,161.62 378.08,162.00 379.49,162.21 380.88,162.28 382.23,162.18 383.51,161.92 384.70,161.52 385.78,160.97 386.73,160.28 387.53,159.47 388.18,158.55 388.65,157.53 388.95,156.44 389.06,155.28 388.99,154.09 388.73,152.89 388.30,151.68 387.69,150.50 386.92,149.35 386.00,148.28" fill="#bebeea" stroke="#bebeea" stroke-width="0.4"/>
<polygon points="410.89,146.88 409.77,146.03 408.55,145.30 407.24,144.70 405.88,144.24 404.47,143.94 403.06,143.79 401.65,143.79 400.28,143.96 398.97,144.28 397.74,144.75 396.61,145.36 395.61,146.10 394.74,146.96 394.03,147.92 393.48,148.97 393.10,150.09 392.91,151.27 392.90,152.47 393.08,153.68 393.44,154.88 393.97,156.04 394.68,157.16 395.53,158.20 396.53,159.16 397.65,160.01 398.87,160.74 400.17,161.34 401.54,161.80 402.94,162.11 404.36,162.26 405.76,162.25 407.13,162.09 408.45,161.77 409.68,161.30 410.80,160.69 411.81,159.95 412.68,159.09 413.39,158.12 413.94,157.07 414.32,155.95 414.51,154.78 414.52,153.58 414.34,152.37 413.98,151.17 413.44,150.00 412.74,148.89 411.89,147.84" fill="#ddddf4" stroke="#ddddf4" stroke-width="0.4"/>
<polygon points="435.90,147.28 434.73,146.38 433.47,145.60 432.14,144.94 430.75,144.42 429.34,144.05 427.93,143.83 426.54,143.77 425.19,143.87 423.91,144.12 422.72,144.53 421.64,145.08 420.69,145.77 419.89,146.58 419.24,147.50 418.77,148.52 418.47,149.61 418.36,150.76 418.43,151.95 418.68,153.16 419.12,154.37 419.73,155.55 420.50,156.69 421.41,157.77 422.46,158.76 423.63,159.66 424.89,160.45 426.22,161.10 427.61,161.62 429.02,162.00 430.44,162.21 431.83,162.28 433.18,162.18 434.45,161.92 435.64,161.52 436.72,160.97 437.67,160.28 438.48,159.47 439.12,158.55 439.60,157.53 439.89,156.44 440.01,155.28 439.93,154.09 439.68,152.89 439.24,151.68 438.64,150.50 437.87,149.35 436.95,148.28" fill="#bebeea" stroke="#bebeea" stroke-width="0.4"/>
<polygon points="461.37,147.28 460.21,146.38 458.95,145.60 457.61,144.94 456.23,144.42 454.82,144.05 453.40,143.83 452.01,143.77 450.66,143.87 449.38,144.12 448.19,144.53 447.11,145.08 446.16,145.77 445.36,146.58 444.72,147.50 444.24,148.52 443.94,149.61 443.83,150.76 443.90,151.95 444.16,153.16 444.59,154.37 445.20,155.55 445.97,156.69 446.89,157.77 447.94,158.76 449.10,159.66 450.36,160.45 451.70,161.10 453.08,161.62 454.49,162.00 455.91,162.21 457.30,162.28 458.65,162.18 459.93,161.92 461.12,161.52 462.20,160.97 463.14,160.28 463.95,159.47 464.59,158.55 465.07,157.53 465.37,156.44 465.48,155.28 465.41,154.09 465.15,152.89 464.72,151.68 464.11,150.50 463.34,149.35 462.42,148.28" fill="#bebeea" stroke="#bebeea" stroke-width="0.4"/>
<polygon points="490.73,143.96 490.36,143.79 489.81,143.79 489.10,143.94 488.23,144.25 487.22,144.70 486.10,145.30 484.87,146.04 483.56,146.89 482.19,147.84 480.78,148.89 479.37,150.00 477.96,151.17 476.60,152.37 475.29,153.58 474.07,154.78 472.95,155.95 471.95,157.07 471.10,158.13 470.39,159.09 469.86,159.95 469.50,160.69 469.32,161.30 469.33,161.77 469.52,162.09 469.89,162.25 470.44,162.26 471.16,162.11 472.02,161.80 473.03,161.34 474.16,160.74 475.39,160.01 476.70,159.16 478.07,158.20 479.47,157.16 480.89,156.04 482.29,154.87 483.66,153.67 484.96,152.46 486.19,151.26 487.31,150.09 488.30,148.97 489.16,147.92 489.86,146.96 490.40,146.10 490.76,145.35 490.93,144.74 490.93,144.28" fill="#fc1314" stroke="#fc1314" stroke-width="0.4"/>
<polygon points="516.23,143.93 515.88,143.78 515.35,143.79 514.65,143.96 513.80,144.28 512.80,144.76 511.69,145.37 510.47,146.12 509.16,146.98 507.80,147.94 506.40,149.00 504.98,150.12 503.57,151.29 502.20,152.49 500.89,153.70 499.66,154.90 498.53,156.07 497.52,157.18 496.65,158.23 495.93,159.18 495.38,160.03 495.00,160.76 494.80,161.35 494.79,161.81 494.97,162.11 495.32,162.26 495.85,162.25 496.55,162.08 497.40,161.76 498.40,161.29 499.51,160.67 500.73,159.93 502.04,159.07 503.40,158.10 504.80,157.05 506.22,155.93 507.63,154.75 509.00,153.55 510.31,152.34 511.54,151.14 512.67,149.98 513.68,148.86 514.55,147.82 515.27,146.86 515.82,146.02 516.20,145.29 516.40,144.69 516.41,144.24" fill="#fd1011" stroke="#fd1011" stroke-width="0.4"/>
<line x1="520.25" y1="162.28" x2="541.90" y2="143.77" stroke="#f04444" stroke-width="0.7"/>
<polygon points="386.34,167.87 385.33,167.13 384.20,166.52 382.97,166.05 381.66,165.73 380.29,165.57 378.89,165.56 377.47,165.71 376.07,166.02 374.70,166.47 373.40,167.07 372.17,167.81 371.06,168.66 370.06,169.61 369.20,170.66 368.50,171.77 367.97,172.94 367.61,174.14 367.43,175.35 367.44,176.55 367.63,177.72 368.00,178.84 368.55,179.90 369.27,180.86 370.13,181.72 371.14,182.46 372.27,183.07 373.50,183.54 374.81,183.86 376.18,184.03 377.59,184.03 379.00,183.88 380.40,183.57 381.77,183.12 383.08,182.52 384.30,181.78 385.42,180.93 386.41,179.98 387.27,178.93 387.97,177.82 388.51,176.65 388.87,175.45 389.04,174.24 389.04,173.04 388.84,171.87 388.47,170.75 387.92,169.70 387.21,168.73" fill="#fbdee0" stroke="#fbdee0" stroke-width="0.4"/>
<polygon points="411.88,167.81 410.89,167.08 409.77,166.48 408.54,166.02 407.24,165.71 405.87,165.56 404.47,165.56 403.05,165.73 401.65,166.05 400.28,166.52 398.97,167.13 397.74,167.87 396.61,168.73 395.60,169.69 394.74,170.74 394.02,171.86 393.47,173.03 393.10,174.23 392.91,175.44 392.90,176.64 393.08,177.81 393.44,178.93 393.98,179.97 394.68,180.93 395.54,181.78 396.53,182.51 397.65,183.11 398.87,183.57 400.18,183.88 401.55,184.03 402.95,184.03 404.37,183.86 405.77,183.54 407.14,183.07 408.45,182.46 409.68,181.72 410.81,180.86 411.81,179.90 412.68,178.85 413.40,177.73 413.94,176.56 414.32,175.36 414.51,174.15 414.52,172.95 414.34,171.78 413.98,170.66 413.44,169.62 412.74,168.66" fill="#fbd8da" stroke="#fbd8da" stroke-width="0.4"/>
<polygon points="437.53,167.66 436.56,166.95 435.46,166.38 434.26,165.95 432.97,165.67 431.61,165.55 430.21,165.58 428.80,165.78 427.39,166.13 426.01,166.62 424.69,167.26 423.44,168.03 422.29,168.91 421.26,169.89 420.37,170.95 419.62,172.09 419.04,173.26 418.63,174.47 418.41,175.68 418.36,176.87 418.51,178.03 418.83,179.14 419.33,180.17 420.00,181.10 420.83,181.93 421.80,182.64 422.90,183.21 424.10,183.64 425.39,183.92 426.75,184.04 428.15,184.01 429.56,183.81 430.97,183.46 432.35,182.97 433.68,182.33 434.92,181.57 436.07,180.68 437.10,179.70 438.00,178.64 438.74,177.50 439.32,176.33 439.73,175.12 439.96,173.91 440.00,172.72 439.86,171.56 439.53,170.45 439.03,169.43 438.36,168.49" fill="#f9cbcd" stroke="#f9cbcd" stroke-width="0.4"/>
<polygon points="463.01,167.66 462.03,166.95 460.94,166.38 459.73,165.95 458.44,165.67 457.09,165.55 455.69,165.58 454.27,165.78 452.86,166.13 451.49,166.62 450.16,167.26 448.91,168.03 447.76,168.91 446.73,169.89 445.84,170.95 445.09,172.09 444.51,173.26 444.11,174.47 443.88,175.68 443.84,176.87 443.98,178.03 444.30,179.14 444.81,180.17 445.48,181.10 446.30,181.93 447.27,182.64 448.37,183.21 449.58,183.64 450.87,183.92 452.22,184.04 453.62,184.01 455.04,183.81 456.45,183.46 457.82,182.97 459.15,182.33 460.40,181.57 461.54,180.68 462.58,179.70 463.47,178.64 464.22,177.50 464.80,176.33 465.20,175.12 465.43,173.91 465.47,172.72 465.33,171.56 465.01,170.45 464.50,169.43 463.83,168.49" fill="#f9cbcd" stroke="#f9cbcd" stroke-width="0.4"/>
<polygon points="488.06,168.02 487.03,167.25 485.88,166.62 484.63,166.12 483.31,165.78 481.93,165.58 480.52,165.55 479.11,165.67 477.71,165.95 476.35,166.38 475.06,166.96 473.85,167.66 472.76,168.50 471.78,169.43 470.96,170.46 470.28,171.57 469.78,172.73 469.45,173.92 469.31,175.13 469.35,176.34 469.57,177.52 469.98,178.65 470.56,179.71 471.30,180.69 472.20,181.57 473.23,182.34 474.38,182.97 475.62,183.47 476.95,183.82 478.32,184.01 479.73,184.04 481.15,183.92 482.55,183.64 483.90,183.21 485.19,182.63 486.40,181.93 487.50,181.10 488.47,180.16 489.30,179.13 489.97,178.02 490.47,176.86 490.80,175.67 490.95,174.46 490.91,173.25 490.68,172.08 490.27,170.94 489.69,169.88 488.95,168.90" fill="#f3f0f5" stroke="#f3f0f5" stroke-width="0.4"/>
<polygon points="513.81,167.78 512.82,167.05 511.70,166.46 510.48,166.00 509.18,165.70 507.82,165.56 506.41,165.57 505.00,165.74 503.59,166.06 502.22,166.54 500.91,167.15 499.67,167.90 498.54,168.76 497.53,169.73 496.66,170.78 495.94,171.91 495.38,173.08 495.00,174.28 494.80,175.49 494.79,176.69 494.96,177.86 495.31,178.97 495.84,180.01 496.54,180.96 497.39,181.81 498.38,182.54 499.50,183.13 500.72,183.59 502.02,183.89 503.38,184.03 504.79,184.02 506.20,183.85 507.61,183.53 508.98,183.05 510.29,182.44 511.53,181.69 512.66,180.83 513.67,179.86 514.54,178.81 515.26,177.68 515.82,176.51 516.20,175.31 516.40,174.10 516.41,172.90 516.24,171.74 515.89,170.62 515.36,169.58 514.66,168.63" fill="#fad6d8" stroke="#fad6d8" stroke-width="0.4"/>
<polygon points="540.23,166.97 539.39,166.39 538.42,165.96 537.32,165.68 536.11,165.55 534.82,165.58 533.46,165.77 532.06,166.11 530.64,166.61 529.24,167.24 527.86,168.00 526.54,168.88 525.29,169.86 524.15,170.92 523.12,172.05 522.23,173.23 521.49,174.43 520.91,175.64 520.51,176.84 520.29,178.00 520.26,179.10 520.40,180.13 520.73,181.07 521.24,181.91 521.92,182.62 522.75,183.20 523.73,183.63 524.83,183.91 526.03,184.04 527.33,184.01 528.69,183.82 530.09,183.48 531.50,182.99 532.91,182.35 534.29,181.59 535.61,180.71 536.85,179.74 538.00,178.67 539.02,177.54 539.92,176.37 540.65,175.16 541.23,173.95 541.63,172.76 541.85,171.60 541.89,170.49 541.74,169.46 541.41,168.52 540.90,167.68" fill="#f68b8f" stroke="#f68b8f" stroke-width="0.4"/>
<line x1="545.72" y1="184.05" x2="567.37" y2="165.54" stroke="#f04444" stroke-width="0.7"/>
<polygon points="386.73,189.31 385.78,188.62 384.70,188.07 383.51,187.67 382.23,187.41 380.88,187.32 379.49,187.38 378.08,187.60 376.66,187.97 375.28,188.49 373.95,189.14 372.68,189.93 371.52,190.83 370.47,191.82 369.55,192.90 368.78,194.04 368.17,195.22 367.74,196.43 367.48,197.64 367.41,198.83 367.53,199.98 367.82,201.08 368.30,202.09 368.94,203.01 369.75,203.82 370.70,204.51 371.77,205.06 372.96,205.47 374.24,205.72 375.59,205.82 376.98,205.76 378.40,205.54 379.81,205.17 381.19,204.65 382.53,203.99 383.79,203.21 384.95,202.31 386.00,201.31 386.92,200.24 387.69,199.10 388.30,197.91 388.73,196.71 388.99,195.50 389.06,194.31 388.95,193.15 388.65,192.06 388.18,191.04 387.53,190.12" fill="#f9c0c3" stroke="#f9c0c3" stroke-width="0.4"/>
<polygon points="411.74,189.71 410.72,188.95 409.58,188.33 408.35,187.85 407.03,187.52 405.66,187.34 404.25,187.33 402.84,187.47 401.43,187.76 400.07,188.21 398.77,188.80 397.56,189.52 396.45,190.36 395.46,191.31 394.62,192.35 393.93,193.46 393.41,194.62 393.06,195.82 392.90,197.03 392.92,198.23 393.12,199.41 393.51,200.53 394.07,201.59 394.80,202.56 395.68,203.43 396.70,204.18 397.83,204.80 399.07,205.28 400.39,205.61 401.76,205.79 403.17,205.81 404.58,205.67 405.98,205.38 407.35,204.93 408.65,204.34 409.86,203.62 410.97,202.78 411.96,201.83 412.80,200.79 413.49,199.68 414.01,198.51 414.36,197.32 414.52,196.10 414.50,194.90 414.29,193.73 413.91,192.60 413.34,191.55 412.62,190.57" fill="#fce3e5" stroke="#fce3e5" stroke-width="0.4"/>
<polygon points="437.71,189.28 436.76,188.60 435.69,188.05 434.50,187.65 433.23,187.41 431.88,187.32 430.49,187.38 429.08,187.61 427.66,187.99 426.28,188.51 424.94,189.17 423.68,189.96 422.51,190.86 421.45,191.86 420.53,192.94 419.75,194.09 419.14,195.27 418.70,196.48 418.44,197.69 418.36,198.88 418.46,200.03 418.75,201.12 419.22,202.13 419.86,203.05 420.66,203.85 421.60,204.54 422.68,205.08 423.86,205.48 425.14,205.73 426.48,205.82 427.87,205.75 429.29,205.53 430.70,205.15 432.09,204.63 433.42,203.96 434.69,203.17 435.86,202.27 436.91,201.27 437.83,200.19 438.61,199.05 439.22,197.87 439.67,196.66 439.93,195.45 440.01,194.26 439.90,193.11 439.61,192.02 439.14,191.01 438.50,190.09" fill="#f8bdc0" stroke="#f8bdc0" stroke-width="0.4"/>
<polygon points="463.18,189.28 462.23,188.60 461.16,188.05 459.98,187.65 458.70,187.41 457.35,187.32 455.96,187.38 454.55,187.61 453.14,187.99 451.75,188.51 450.41,189.17 449.15,189.96 447.98,190.86 446.93,191.86 446.00,192.94 445.23,194.09 444.61,195.27 444.17,196.48 443.91,197.69 443.83,198.88 443.94,200.03 444.23,201.12 444.69,202.13 445.33,203.05 446.13,203.85 447.07,204.54 448.15,205.08 449.33,205.48 450.61,205.73 451.95,205.82 453.35,205.75 454.76,205.53 456.17,205.15 457.56,204.63 458.89,203.96 460.16,203.17 461.33,202.27 462.38,201.27 463.31,200.19 464.08,199.05 464.70,197.87 465.14,196.66 465.40,195.45 465.48,194.26 465.37,193.11 465.08,192.02 464.62,191.01 463.98,190.09" fill="#f8bdc0" stroke="#f8bdc0" stroke-width="0.4"/>
<polygon points="487.06,190.64 485.91,189.77 484.67,189.01 483.35,188.37 481.97,187.88 480.56,187.54 479.15,187.35 477.75,187.32 476.39,187.45 475.10,187.73 473.89,188.17 472.79,188.75 471.81,189.46 470.98,190.29 470.30,191.24 469.79,192.27 469.46,193.38 469.31,194.54 469.35,195.73 469.57,196.94 469.97,198.15 470.54,199.32 471.28,200.45 472.17,201.51 473.20,202.49 474.34,203.37 475.58,204.13 476.91,204.76 478.28,205.25 479.69,205.60 481.11,205.78 482.50,205.81 483.86,205.69 485.16,205.40 486.37,204.97 487.47,204.39 488.44,203.68 489.28,202.84 489.95,201.90 490.46,200.87 490.79,199.76 490.94,198.60 490.91,197.40 490.69,196.19 490.29,194.99 489.71,193.81 488.98,192.68 488.09,191.62" fill="#ccccef" stroke="#ccccef" stroke-width="0.4"/>
<polygon points="513.07,190.18 511.98,189.36 510.79,188.67 509.50,188.11 508.15,187.69 506.75,187.43 505.34,187.32 503.93,187.37 502.55,187.58 501.22,187.94 499.96,188.45 498.81,189.09 497.76,189.87 496.86,190.76 496.10,191.75 495.50,192.82 495.08,193.96 494.84,195.14 494.78,196.35 494.90,197.56 495.21,198.75 495.70,199.90 496.36,201.00 497.17,202.02 498.13,202.95 499.22,203.77 500.41,204.47 501.70,205.03 503.05,205.45 504.45,205.71 505.86,205.82 507.27,205.77 508.65,205.56 509.98,205.20 511.24,204.69 512.39,204.04 513.44,203.27 514.34,202.38 515.10,201.39 515.70,200.31 516.12,199.18 516.36,198.00 516.42,196.79 516.30,195.58 515.99,194.39 515.50,193.23 514.84,192.14 514.03,191.11" fill="#f1f1fb" stroke="#f1f1fb" stroke-width="0.4"/>
<polygon points="539.39,189.46 538.41,188.75 537.31,188.17 536.10,187.73 534.81,187.45 533.45,187.32 532.05,187.35 530.64,187.54 529.23,187.88 527.85,188.37 526.53,189.01 525.29,189.77 524.14,190.64 523.11,191.62 522.22,192.68 521.49,193.81 520.91,194.99 520.51,196.19 520.29,197.40 520.26,198.60 520.41,199.76 520.74,200.87 521.25,201.90 521.92,202.84 522.76,203.68 523.73,204.39 524.83,204.97 526.04,205.40 527.34,205.69 528.70,205.81 530.09,205.78 531.51,205.60 532.92,205.25 534.29,204.76 535.62,204.13 536.86,203.37 538.00,202.49 539.03,201.51 539.92,200.45 540.66,199.32 541.23,198.15 541.63,196.94 541.85,195.73 541.89,194.54 541.74,193.38 541.41,192.27 540.90,191.24 540.22,190.29" fill="#faced0" stroke="#faced0" stroke-width="0.4"/>
<polygon points="567.12,187.53 566.73,187.35 566.17,187.33 565.44,187.46 564.56,187.76 563.54,188.20 562.40,188.79 561.16,189.51 559.85,190.35 558.47,191.29 557.07,192.33 555.65,193.44 554.25,194.61 552.89,195.80 551.59,197.01 550.38,198.22 549.27,199.39 548.28,200.52 547.44,201.57 546.75,202.55 546.24,203.42 545.89,204.17 545.73,204.79 545.76,205.28 545.97,205.61 546.36,205.79 546.92,205.81 547.65,205.67 548.53,205.38 549.55,204.94 550.69,204.35 551.93,203.63 553.24,202.79 554.62,201.84 556.03,200.80 557.44,199.69 558.84,198.53 560.20,197.33 561.50,196.12 562.72,194.92 563.82,193.75 564.81,192.62 565.65,191.56 566.34,190.59 566.86,189.72 567.20,188.96 567.36,188.34 567.33,187.86" fill="#fc1516" stroke="#fc1516" stroke-width="0.4"/>
<line x1="571.19" y1="205.82" x2="592.84" y2="187.31" stroke="#f04444" stroke-width="0.7"/>
<polygon points="385.53,212.11 384.42,211.27 383.21,210.55 381.91,209.97 380.55,209.52 379.15,209.23 377.73,209.10 376.33,209.12 374.95,209.30 373.63,209.64 372.39,210.12 371.25,210.75 370.23,211.50 369.35,212.37 368.62,213.35 368.05,214.41 367.66,215.53 367.45,216.71 367.42,217.91 367.58,219.12 367.92,220.32 368.44,221.48 369.12,222.59 369.96,223.63 370.95,224.57 372.05,225.41 373.27,226.13 374.56,226.72 375.92,227.16 377.32,227.45 378.74,227.58 380.15,227.56 381.52,227.38 382.84,227.05 384.08,226.56 385.22,225.94 386.24,225.18 387.12,224.31 387.85,223.34 388.42,222.28 388.81,221.15 389.02,219.97 389.05,218.77 388.89,217.56 388.55,216.36 388.03,215.20 387.35,214.09 386.51,213.06" fill="#e5e5f7" stroke="#e5e5f7" stroke-width="0.4"/>
<polygon points="410.47,212.56 409.31,211.67 408.05,210.89 406.72,210.24 405.34,209.72 403.93,209.36 402.51,209.14 401.12,209.09 399.77,209.19 398.48,209.45 397.29,209.86 396.21,210.42 395.25,211.11 394.44,211.93 393.79,212.86 393.31,213.88 393.01,214.97 392.89,216.13 392.95,217.32 393.20,218.53 393.63,219.73 394.23,220.91 394.99,222.05 395.90,223.13 396.95,224.12 398.11,225.01 399.37,225.79 400.70,226.45 402.08,226.96 403.49,227.33 404.91,227.54 406.30,227.59 407.65,227.49 408.93,227.23 410.13,226.82 411.21,226.26 412.16,225.57 412.97,224.75 413.63,223.83 414.11,222.81 414.41,221.71 414.53,220.56 414.47,219.37 414.22,218.16 413.79,216.95 413.19,215.77 412.43,214.63 411.52,213.55" fill="#c1c1eb" stroke="#c1c1eb" stroke-width="0.4"/>
<polygon points="436.24,212.31 435.11,211.44 433.87,210.70 432.56,210.08 431.19,209.61 429.78,209.28 428.37,209.11 426.97,209.10 425.60,209.25 424.30,209.55 423.08,210.00 421.96,210.60 420.97,211.32 420.12,212.17 419.43,213.12 418.90,214.17 418.54,215.28 418.37,216.45 418.39,217.64 418.59,218.86 418.97,220.06 419.52,221.23 420.24,222.35 421.11,223.41 422.12,224.37 423.26,225.24 424.49,225.98 425.80,226.60 427.17,227.07 428.58,227.40 430.00,227.57 431.40,227.58 432.76,227.43 434.07,227.13 435.28,226.68 436.40,226.09 437.39,225.36 438.24,224.51 438.94,223.56 439.47,222.52 439.82,221.40 439.99,220.24 439.98,219.04 439.78,217.83 439.40,216.62 438.84,215.45 438.12,214.33 437.25,213.28" fill="#d5d5f2" stroke="#d5d5f2" stroke-width="0.4"/>
<polygon points="461.71,212.31 460.58,211.44 459.35,210.70 458.03,210.08 456.66,209.61 455.26,209.28 453.84,209.11 452.44,209.10 451.07,209.25 449.77,209.55 448.55,210.00 447.44,210.60 446.45,211.32 445.59,212.17 444.90,213.12 444.37,214.17 444.02,215.28 443.85,216.45 443.86,217.64 444.06,218.86 444.44,220.06 444.99,221.23 445.71,222.35 446.59,223.41 447.60,224.37 448.73,225.24 449.96,225.98 451.28,226.60 452.65,227.07 454.05,227.40 455.47,227.57 456.87,227.58 458.24,227.43 459.54,227.13 460.76,226.68 461.87,226.09 462.86,225.36 463.71,224.51 464.41,223.56 464.94,222.52 465.29,221.40 465.46,220.24 465.45,219.04 465.25,217.83 464.87,216.62 464.32,215.45 463.60,214.33 462.72,213.28" fill="#d5d5f2" stroke="#d5d5f2" stroke-width="0.4"/>
<polygon points="490.40,209.56 489.86,209.26 489.16,209.10 488.31,209.11 487.31,209.28 486.19,209.60 484.97,210.06 483.66,210.68 482.30,211.42 480.89,212.28 479.48,213.24 478.07,214.29 476.70,215.41 475.39,216.59 474.16,217.79 473.03,219.00 472.03,220.20 471.16,221.36 470.44,222.48 469.90,223.52 469.52,224.48 469.33,225.33 469.32,226.06 469.50,226.66 469.86,227.12 470.39,227.43 471.09,227.58 471.95,227.57 472.94,227.41 474.06,227.09 475.29,226.62 476.59,226.01 477.96,225.26 479.36,224.40 480.78,223.44 482.18,222.39 483.55,221.27 484.86,220.10 486.09,218.90 487.22,217.68 488.23,216.49 489.10,215.32 489.81,214.20 490.36,213.16 490.73,212.20 490.93,211.35 490.93,210.62 490.76,210.02" fill="#f92f32" stroke="#f92f32" stroke-width="0.4"/>
<polygon points="516.12,209.35 515.70,209.14 515.11,209.09 514.35,209.20 513.44,209.47 512.40,209.88 511.25,210.45 509.99,211.14 508.66,211.96 507.28,212.89 505.87,213.92 504.46,215.02 503.06,216.17 501.71,217.36 500.42,218.57 499.23,219.78 498.14,220.96 497.18,222.10 496.36,223.17 495.71,224.16 495.22,225.05 494.91,225.82 494.78,226.47 494.83,226.98 495.08,227.34 495.50,227.54 496.09,227.59 496.85,227.48 497.76,227.22 498.80,226.80 499.95,226.24 501.21,225.54 502.54,224.72 503.92,223.79 505.33,222.77 506.74,221.67 508.14,220.51 509.49,219.32 510.78,218.11 511.97,216.90 513.06,215.72 514.02,214.59 514.84,213.51 515.49,212.53 515.98,211.64 516.29,210.86 516.42,210.21 516.37,209.71" fill="#fb1a1b" stroke="#fb1a1b" stroke-width="0.4"/>
<polygon points="541.57,209.37 541.13,209.15 540.52,209.09 539.76,209.18 538.84,209.44 537.79,209.84 536.62,210.39 535.36,211.08 534.02,211.89 532.64,212.81 531.23,213.83 529.81,214.92 528.42,216.07 527.07,217.26 525.79,218.47 524.61,219.68 523.53,220.86 522.58,222.00 521.78,223.08 521.13,224.08 520.66,224.98 520.36,225.76 520.25,226.42 520.32,226.94 520.58,227.31 521.01,227.53 521.62,227.59 522.39,227.50 523.31,227.24 524.36,226.84 525.53,226.29 526.79,225.60 528.12,224.79 529.51,223.87 530.92,222.85 532.33,221.76 533.72,220.61 535.07,219.42 536.35,218.21 537.54,217.00 538.62,215.82 539.57,214.68 540.37,213.60 541.01,212.60 541.49,211.70 541.78,210.92 541.90,210.26 541.83,209.74" fill="#fb1c1e" stroke="#fb1c1e" stroke-width="0.4"/>
<polygon points="565.47,210.71 564.60,210.09 563.58,209.62 562.45,209.29 561.21,209.12 559.90,209.10 558.53,209.24 557.12,209.54 555.71,209.99 554.30,210.58 552.94,211.31 551.64,212.16 550.42,213.11 549.31,214.15 548.32,215.26 547.47,216.42 546.78,217.62 546.25,218.83 545.90,220.04 545.73,221.21 545.75,222.33 545.95,223.39 546.34,224.36 546.90,225.22 547.62,225.97 548.49,226.59 549.51,227.07 550.64,227.39 551.88,227.57 553.19,227.58 554.56,227.44 555.97,227.14 557.39,226.69 558.79,226.10 560.15,225.37 561.45,224.53 562.67,223.58 563.78,222.53 564.77,221.42 565.62,220.26 566.31,219.06 566.84,217.85 567.19,216.65 567.36,215.47 567.34,214.35 567.14,213.29 566.75,212.33 566.20,211.46" fill="#f79ea1" stroke="#f79ea1" stroke-width="0.4"/>
<polygon points="590.71,210.91 589.80,210.25 588.75,209.74 587.58,209.37 586.32,209.15 584.99,209.09 583.61,209.19 582.19,209.44 580.78,209.85 579.39,210.40 578.04,211.09 576.76,211.90 575.57,212.83 574.49,213.84 573.54,214.94 572.73,216.09 572.08,217.28 571.61,218.49 571.31,219.70 571.19,220.88 571.26,222.02 571.52,223.10 571.95,224.09 572.56,224.99 573.32,225.77 574.24,226.43 575.29,226.95 576.45,227.32 577.71,227.53 579.05,227.59 580.43,227.49 581.84,227.24 583.26,226.83 584.65,226.28 586.00,225.59 587.28,224.78 588.47,223.85 589.55,222.84 590.50,221.74 591.30,220.59 591.95,219.40 592.43,218.19 592.73,216.98 592.84,215.80 592.77,214.66 592.52,213.58 592.09,212.59 591.48,211.69" fill="#f8b0b3" stroke="#f8b0b3" stroke-width="0.4"/>
<line x1="596.66" y1="227.59" x2="618.32" y2="209.09" stroke="#f04444" stroke-width="0.7"/>
<polygon points="386.83,232.77 385.90,232.10 384.83,231.56 383.66,231.17 382.39,230.94 381.04,230.86 379.66,230.94 378.24,231.18 376.83,231.57 375.44,232.10 374.10,232.78 372.83,233.57 371.65,234.49 370.59,235.49 369.65,236.58 368.86,237.72 368.24,238.91 367.78,240.12 367.50,241.33 367.41,242.51 367.50,243.66 367.78,244.75 368.23,245.75 368.86,246.66 369.64,247.46 370.58,248.13 371.64,248.66 372.82,249.05 374.09,249.29 375.43,249.37 376.82,249.29 378.23,249.05 379.64,248.66 381.03,248.12 382.37,247.45 383.64,246.65 384.82,245.74 385.89,244.74 386.82,243.65 387.61,242.50 388.24,241.32 388.69,240.11 388.97,238.90 389.06,237.71 388.97,236.57 388.70,235.48 388.24,234.48 387.62,233.57" fill="#f8b8bb" stroke="#f8b8bb" stroke-width="0.4"/>
<polygon points="411.66,233.32 410.63,232.56 409.49,231.92 408.24,231.43 406.92,231.09 405.55,230.90 404.14,230.87 402.72,230.99 401.32,231.28 399.96,231.71 398.67,232.29 397.46,233.00 396.36,233.83 395.39,234.78 394.55,235.81 393.88,236.91 393.37,238.07 393.04,239.27 392.89,240.48 392.93,241.68 393.15,242.86 393.55,243.99 394.13,245.05 394.87,246.03 395.76,246.91 396.78,247.67 397.93,248.30 399.17,248.80 400.50,249.14 401.87,249.33 403.28,249.36 404.70,249.23 406.10,248.95 407.45,248.52 408.75,247.94 409.95,247.23 411.06,246.39 412.03,245.45 412.86,244.42 413.54,243.31 414.05,242.15 414.38,240.96 414.53,239.75 414.49,238.54 414.27,237.37 413.87,236.24 413.29,235.17 412.55,234.19" fill="#f3f0f5" stroke="#f3f0f5" stroke-width="0.4"/>
<polygon points="437.43,233.07 436.44,232.34 435.33,231.75 434.11,231.31 432.81,231.01 431.45,230.87 430.05,230.89 428.63,231.07 427.23,231.40 425.86,231.88 424.54,232.50 423.30,233.25 422.17,234.12 421.15,235.09 420.27,236.15 419.54,237.27 418.98,238.44 418.60,239.65 418.39,240.86 418.37,242.05 418.53,243.22 418.88,244.33 419.40,245.37 420.09,246.32 420.94,247.16 421.92,247.88 423.03,248.47 424.25,248.92 425.55,249.22 426.91,249.36 428.31,249.34 429.73,249.16 431.14,248.83 432.51,248.35 433.82,247.73 435.06,246.98 436.20,246.11 437.21,245.14 438.09,244.08 438.82,242.96 439.38,241.78 439.77,240.58 439.97,239.37 439.99,238.17 439.83,237.01 439.48,235.90 438.96,234.86 438.27,233.91" fill="#fad3d5" stroke="#fad3d5" stroke-width="0.4"/>
<polygon points="462.90,233.07 461.91,232.34 460.80,231.75 459.59,231.31 458.29,231.01 456.92,230.87 455.52,230.89 454.11,231.07 452.70,231.40 451.33,231.88 450.01,232.50 448.77,233.25 447.64,234.12 446.62,235.09 445.74,236.15 445.02,237.27 444.46,238.44 444.07,239.65 443.86,240.86 443.84,242.05 444.01,243.22 444.35,244.33 444.87,245.37 445.56,246.32 446.41,247.16 447.40,247.88 448.51,248.47 449.72,248.92 451.02,249.22 452.38,249.36 453.79,249.34 455.20,249.16 456.61,248.83 457.98,248.35 459.30,247.73 460.53,246.98 461.67,246.11 462.69,245.14 463.57,244.08 464.29,242.96 464.85,241.78 465.24,240.58 465.45,239.37 465.47,238.17 465.30,237.01 464.96,235.90 464.43,234.86 463.74,233.91" fill="#fad3d5" stroke="#fad3d5" stroke-width="0.4"/>
<polygon points="484.32,236.53 482.98,235.45 481.59,234.44 480.18,233.54 478.77,232.74 477.38,232.08 476.03,231.55 474.76,231.16 473.58,230.93 472.51,230.86 471.57,230.95 470.78,231.19 470.15,231.58 469.68,232.12 469.40,232.80 469.30,233.60 469.39,234.52 469.66,235.53 470.10,236.62 470.72,237.76 471.51,238.95 472.43,240.16 473.49,241.37 474.67,242.55 475.93,243.70 477.27,244.78 478.66,245.78 480.07,246.69 481.49,247.48 482.88,248.15 484.22,248.68 485.49,249.06 486.67,249.29 487.74,249.37 488.68,249.28 489.48,249.04 490.11,248.64 490.57,248.10 490.85,247.43 490.95,246.62 490.87,245.71 490.60,244.70 490.15,243.61 489.53,242.46 488.75,241.28 487.82,240.07 486.76,238.86 485.59,237.67" fill="#4242c0" stroke="#4242c0" stroke-width="0.4"/>
<polygon points="511.43,235.13 510.19,234.16 508.87,233.28 507.50,232.53 506.09,231.90 504.67,231.41 503.27,231.08 501.91,230.89 500.62,230.87 499.40,231.00 498.30,231.29 497.32,231.73 496.48,232.32 495.80,233.03 495.28,233.87 494.94,234.82 494.79,235.85 494.81,236.96 495.03,238.12 495.42,239.32 495.99,240.53 496.72,241.73 497.61,242.91 498.63,244.04 499.77,245.10 501.01,246.07 502.33,246.94 503.70,247.70 505.11,248.33 506.53,248.81 507.93,249.15 509.29,249.33 510.58,249.36 511.80,249.22 512.90,248.93 513.88,248.49 514.72,247.91 515.40,247.19 515.92,246.36 516.26,245.41 516.41,244.37 516.39,243.27 516.17,242.10 515.78,240.91 515.21,239.70 514.48,238.49 513.59,237.32 512.57,236.19" fill="#8b8bd9" stroke="#8b8bd9" stroke-width="0.4"/>
<polygon points="536.75,235.26 535.50,234.27 534.17,233.39 532.79,232.62 531.38,231.97 529.97,231.47 528.57,231.11 527.22,230.91 525.93,230.86 524.73,230.98 523.64,231.25 522.67,231.67 521.85,232.23 521.19,232.94 520.70,233.76 520.38,234.69 520.25,235.72 520.30,236.82 520.54,237.97 520.96,239.17 521.55,240.38 522.30,241.58 523.20,242.76 524.24,243.90 525.40,244.97 526.65,245.95 527.97,246.84 529.36,247.61 530.77,248.26 532.18,248.76 533.58,249.12 534.93,249.32 536.22,249.36 537.42,249.25 538.51,248.98 539.47,248.56 540.29,247.99 540.95,247.29 541.45,246.47 541.76,245.54 541.89,244.51 541.84,243.41 541.61,242.25 541.19,241.06 540.60,239.85 539.85,238.65 538.94,237.47 537.90,236.33" fill="#8383d6" stroke="#8383d6" stroke-width="0.4"/>
<polygon points="564.90,232.98 563.93,232.27 562.83,231.69 561.62,231.27 560.33,230.99 558.98,230.87 557.58,230.90 556.16,231.10 554.75,231.44 553.38,231.94 552.05,232.58 550.80,233.34 549.66,234.22 548.62,235.21 547.73,236.27 546.98,237.40 546.40,238.58 546.00,239.79 545.77,241.00 545.73,242.19 545.87,243.35 546.19,244.45 546.70,245.48 547.37,246.42 548.19,247.25 549.17,247.96 550.26,248.53 551.47,248.96 552.76,249.24 554.11,249.36 555.51,249.32 556.93,249.13 558.34,248.78 559.71,248.29 561.04,247.65 562.29,246.88 563.44,246.00 564.47,245.02 565.36,243.95 566.11,242.82 566.69,241.64 567.09,240.44 567.32,239.23 567.36,238.04 567.22,236.88 566.90,235.77 566.39,234.74 565.72,233.81" fill="#f9cbcd" stroke="#f9cbcd" stroke-width="0.4"/>
<polygon points="591.08,232.37 590.22,231.78 589.23,231.32 588.12,231.02 586.90,230.87 585.59,230.89 584.23,231.06 582.83,231.38 581.41,231.85 580.01,232.47 578.63,233.21 577.32,234.08 576.09,235.05 574.96,236.10 573.95,237.22 573.07,238.39 572.35,239.60 571.80,240.81 571.42,242.00 571.22,243.17 571.21,244.28 571.38,245.33 571.73,246.28 572.26,247.13 572.96,247.86 573.81,248.45 574.80,248.90 575.92,249.21 577.14,249.35 578.44,249.34 579.81,249.17 581.21,248.85 582.62,248.37 584.03,247.76 585.40,247.01 586.71,246.15 587.95,245.18 589.08,244.13 590.09,243.01 590.96,241.83 591.68,240.63 592.24,239.42 592.62,238.22 592.81,237.06 592.83,235.94 592.66,234.90 592.30,233.95 591.77,233.10" fill="#f69397" stroke="#f69397" stroke-width="0.4"/>
<polygon points="613.76,234.76 612.55,233.82 611.26,232.99 609.90,232.28 608.50,231.70 607.09,231.27 605.68,230.99 604.30,230.87 602.98,230.90 601.73,231.09 600.59,231.44 599.56,231.93 598.66,232.57 597.92,233.33 597.34,234.21 596.94,235.19 596.71,236.26 596.67,237.39 596.82,238.56 597.15,239.77 597.65,240.98 598.32,242.17 599.15,243.33 600.13,244.44 601.22,245.47 602.43,246.41 603.72,247.24 605.08,247.95 606.48,248.52 607.89,248.96 609.30,249.24 610.68,249.36 612.00,249.33 613.25,249.13 614.40,248.79 615.43,248.29 616.32,247.66 617.06,246.90 617.64,246.02 618.05,245.04 618.27,243.97 618.31,242.84 618.16,241.66 617.84,240.46 617.33,239.25 616.66,238.05 615.83,236.89 614.86,235.79" fill="#a3a3e1" stroke="#a3a3e1" stroke-width="0.4"/>
<line x1="622.14" y1="249.37" x2="643.79" y2="230.86" stroke="#f04444" stroke-width="0.7"/>
<text transform="translate(378.24,25.94) scale(0.872,1)" font-size="9.4" text-anchor="middle" fill="#000" stroke="#000" stroke-width="0.22">1.0</text>
<text transform="translate(378.24,47.71) scale(0.872,1)" font-size="9.4" text-anchor="middle" fill="#000" stroke="#000" stroke-width="0.22">-0.41</text>
<text transform="translate(403.71,47.71) scale(0.872,1)" font-size="9.4" text-anchor="middle" fill="#000" stroke="#000" stroke-width="0.22">1.0</text>
<text transform="translate(378.24,69.48) scale(0.872,1)" font-size="9.4" text-anchor="middle" fill="#000" stroke="#000" stroke-width="0.22">0.46</text>
<text transform="translate(403.71,69.48) scale(0.872,1)" font-size="9.4" text-anchor="middle" fill="#000" stroke="#000" stroke-width="0.22">0.39</text>
<text transform="translate(429.18,69.48) scale(0.872,1)" font-size="9.4" text-anchor="middle" fill="#000" stroke="#000" stroke-width="0.22">1.0</text>
<text transform="translate(378.24,91.25) scale(0.872,1)" font-size="9.4" text-anchor="middle" fill="#000" stroke="#000" stroke-width="0.22">0.46</text>
<text transform="translate(403.71,91.25) scale(0.872,1)" font-size="9.4" text-anchor="middle" fill="#000" stroke="#000" stroke-width="0.22">0.39</text>
<text transform="translate(429.18,91.25) scale(0.872,1)" font-size="9.4" text-anchor="middle" fill="#000" stroke="#000" stroke-width="0.22">1.0</text>
<text transform="translate(454.65,91.25) scale(0.872,1)" font-size="9.4" text-anchor="middle" fill="#000" stroke="#000" stroke-width="0.22">1.0</text>
<text transform="translate(378.24,113.03) scale(0.872,1)" font-size="9.4" text-anchor="middle" fill="#000" stroke="#000" stroke-width="0.22">-0.30</text>
<text transform="translate(403.71,113.03) scale(0.872,1)" font-size="9.4" text-anchor="middle" fill="#000" stroke="#000" stroke-width="0.22">-0.17</text>
<text transform="translate(429.18,113.03) scale(0.872,1)" font-size="9.4" text-anchor="middle" fill="#000" stroke="#000" stroke-width="0.22">-0.29</text>
<text transform="translate(454.65,113.03) scale(0.872,1)" font-size="9.4" text-anchor="middle" fill="#000" stroke="#000" stroke-width="0.22">-0.29</text>
<text transform="translate(480.13,113.03) scale(0.872,1)" font-size="9.4" text-anchor="middle" fill="#000" stroke="#000" stroke-width="0.22">1.0</text>
<text transform="translate(378.24,134.80) scale(0.872,1)" font-size="9.4" text-anchor="middle" fill="#000" stroke="#000" stroke-width="0.22">-0.27</text>
<text transform="translate(403.71,134.80) scale(0.872,1)" font-size="9.4" text-anchor="middle" fill="#000" stroke="#000" stroke-width="0.22">-0.19</text>
<text transform="translate(429.18,134.80) scale(0.872,1)" font-size="9.4" text-anchor="middle" fill="#000" stroke="#000" stroke-width="0.22">-0.28</text>
<text transform="translate(454.65,134.80) scale(0.872,1)" font-size="9.4" text-anchor="middle" fill="#000" stroke="#000" stroke-width="0.22">-0.28</text>
<text transform="translate(480.13,134.80) scale(0.872,1)" font-size="9.4" text-anchor="middle" fill="#000" stroke="#000" stroke-width="0.22">0.94</text>
<text transform="translate(505.60,134.80) scale(0.872,1)" font-size="9.4" text-anchor="middle" fill="#000" stroke="#000" stroke-width="0.22">1.0</text>
<text transform="translate(378.24,156.57) scale(0.872,1)" font-size="9.4" text-anchor="middle" fill="#000" stroke="#000" stroke-width="0.22">-0.23</text>
<text transform="translate(403.71,156.57) scale(0.872,1)" font-size="9.4" text-anchor="middle" fill="#000" stroke="#000" stroke-width="0.22">-0.12</text>
<text transform="translate(429.18,156.57) scale(0.872,1)" font-size="9.4" text-anchor="middle" fill="#000" stroke="#000" stroke-width="0.22">-0.23</text>
<text transform="translate(454.65,156.57) scale(0.872,1)" font-size="9.4" text-anchor="middle" fill="#000" stroke="#000" stroke-width="0.22">-0.23</text>
<text transform="translate(480.13,156.57) scale(0.872,1)" font-size="9.4" text-anchor="middle" fill="#000" stroke="#000" stroke-width="0.22">0.92</text>
<text transform="translate(505.60,156.57) scale(0.872,1)" font-size="9.4" text-anchor="middle" fill="#000" stroke="#000" stroke-width="0.22">0.93</text>
<text transform="translate(531.07,156.57) scale(0.872,1)" font-size="9.4" text-anchor="middle" fill="#000" stroke="#000" stroke-width="0.22">1.0</text>
<text transform="translate(378.24,178.35) scale(0.872,1)" font-size="9.4" text-anchor="middle" fill="#000" stroke="#000" stroke-width="0.22">0.12</text>
<text transform="translate(403.71,178.35) scale(0.872,1)" font-size="9.4" text-anchor="middle" fill="#000" stroke="#000" stroke-width="0.22">0.14</text>
<text transform="translate(429.18,178.35) scale(0.872,1)" font-size="9.4" text-anchor="middle" fill="#000" stroke="#000" stroke-width="0.22">0.19</text>
<text transform="translate(454.65,178.35) scale(0.872,1)" font-size="9.4" text-anchor="middle" fill="#000" stroke="#000" stroke-width="0.22">0.19</text>
<text transform="translate(480.13,178.35) scale(0.872,1)" font-size="9.4" text-anchor="middle" fill="#000" stroke="#000" stroke-width="0.22">0.073</text>
<text transform="translate(505.60,178.35) scale(0.872,1)" font-size="9.4" text-anchor="middle" fill="#000" stroke="#000" stroke-width="0.22">0.15</text>
<text transform="translate(531.07,178.35) scale(0.872,1)" font-size="9.4" text-anchor="middle" fill="#000" stroke="#000" stroke-width="0.22">0.43</text>
<text transform="translate(556.55,178.35) scale(0.872,1)" font-size="9.4" text-anchor="middle" fill="#000" stroke="#000" stroke-width="0.22">1.0</text>
<text transform="translate(378.24,200.12) scale(0.872,1)" font-size="9.4" text-anchor="middle" fill="#000" stroke="#000" stroke-width="0.22">0.23</text>
<text transform="translate(403.71,200.12) scale(0.872,1)" font-size="9.4" text-anchor="middle" fill="#000" stroke="#000" stroke-width="0.22">0.10</text>
<text transform="translate(429.18,200.12) scale(0.872,1)" font-size="9.4" text-anchor="middle" fill="#000" stroke="#000" stroke-width="0.22">0.24</text>
<text transform="translate(454.65,200.12) scale(0.872,1)" font-size="9.4" text-anchor="middle" fill="#000" stroke="#000" stroke-width="0.22">0.24</text>
<text transform="translate(480.13,200.12) scale(0.872,1)" font-size="9.4" text-anchor="middle" fill="#000" stroke="#000" stroke-width="0.22">-0.18</text>
<text transform="translate(505.60,200.12) scale(0.872,1)" font-size="9.4" text-anchor="middle" fill="#000" stroke="#000" stroke-width="0.22">-0.048</text>
<text transform="translate(531.07,200.12) scale(0.872,1)" font-size="9.4" text-anchor="middle" fill="#000" stroke="#000" stroke-width="0.22">0.18</text>
<text transform="translate(556.55,200.12) scale(0.872,1)" font-size="9.4" text-anchor="middle" fill="#000" stroke="#000" stroke-width="0.22">0.91</text>
<text transform="translate(582.02,200.12) scale(0.872,1)" font-size="9.4" text-anchor="middle" fill="#000" stroke="#000" stroke-width="0.22">1.0</text>
<text transform="translate(378.24,221.89) scale(0.872,1)" font-size="9.4" text-anchor="middle" fill="#000" stroke="#000" stroke-width="0.22">-0.093</text>
<text transform="translate(403.71,221.89) scale(0.872,1)" font-size="9.4" text-anchor="middle" fill="#000" stroke="#000" stroke-width="0.22">-0.22</text>
<text transform="translate(429.18,221.89) scale(0.872,1)" font-size="9.4" text-anchor="middle" fill="#000" stroke="#000" stroke-width="0.22">-0.15</text>
<text transform="translate(454.65,221.89) scale(0.872,1)" font-size="9.4" text-anchor="middle" fill="#000" stroke="#000" stroke-width="0.22">-0.15</text>
<text transform="translate(480.13,221.89) scale(0.872,1)" font-size="9.4" text-anchor="middle" fill="#000" stroke="#000" stroke-width="0.22">0.80</text>
<text transform="translate(505.60,221.89) scale(0.872,1)" font-size="9.4" text-anchor="middle" fill="#000" stroke="#000" stroke-width="0.22">0.89</text>
<text transform="translate(531.07,221.89) scale(0.872,1)" font-size="9.4" text-anchor="middle" fill="#000" stroke="#000" stroke-width="0.22">0.88</text>
<text transform="translate(556.55,221.89) scale(0.872,1)" font-size="9.4" text-anchor="middle" fill="#000" stroke="#000" stroke-width="0.22">0.36</text>
<text transform="translate(582.02,221.89) scale(0.872,1)" font-size="9.4" text-anchor="middle" fill="#000" stroke="#000" stroke-width="0.22">0.29</text>
<text transform="translate(607.49,221.89) scale(0.872,1)" font-size="9.4" text-anchor="middle" fill="#000" stroke="#000" stroke-width="0.22">1.0</text>
<text transform="translate(378.24,243.66) scale(0.872,1)" font-size="9.4" text-anchor="middle" fill="#000" stroke="#000" stroke-width="0.22">0.26</text>
<text transform="translate(403.71,243.66) scale(0.872,1)" font-size="9.4" text-anchor="middle" fill="#000" stroke="#000" stroke-width="0.22">0.079</text>
<text transform="translate(429.18,243.66) scale(0.872,1)" font-size="9.4" text-anchor="middle" fill="#000" stroke="#000" stroke-width="0.22">0.16</text>
<text transform="translate(454.65,243.66) scale(0.872,1)" font-size="9.4" text-anchor="middle" fill="#000" stroke="#000" stroke-width="0.22">0.16</text>
<text transform="translate(480.13,243.66) scale(0.872,1)" font-size="9.4" text-anchor="middle" fill="#000" stroke="#000" stroke-width="0.22">-0.70</text>
<text transform="translate(505.60,243.66) scale(0.872,1)" font-size="9.4" text-anchor="middle" fill="#000" stroke="#000" stroke-width="0.22">-0.42</text>
<text transform="translate(531.07,243.66) scale(0.872,1)" font-size="9.4" text-anchor="middle" fill="#000" stroke="#000" stroke-width="0.22">-0.45</text>
<text transform="translate(556.55,243.66) scale(0.872,1)" font-size="9.4" text-anchor="middle" fill="#000" stroke="#000" stroke-width="0.22">0.19</text>
<text transform="translate(582.02,243.66) scale(0.872,1)" font-size="9.4" text-anchor="middle" fill="#000" stroke="#000" stroke-width="0.22">0.40</text>
<text transform="translate(607.49,243.66) scale(0.872,1)" font-size="9.4" text-anchor="middle" fill="#000" stroke="#000" stroke-width="0.22">-0.33</text>
<text transform="translate(632.96,243.66) scale(0.872,1)" font-size="9.4" text-anchor="middle" fill="#000" stroke="#000" stroke-width="0.22">1.0</text>
<path d="M365.50 11.50V251.00" fill="none" stroke="#444" stroke-width="1.3"/>
<path d="M364.85 251.00H645.70" fill="none" stroke="#3a3a3a" stroke-width="1.3"/>
<text transform="translate(362.20,25.69) scale(0.89,1)" font-size="8.9" text-anchor="end" fill="#000" stroke="#000" stroke-width="0.15">pH</text>
<text transform="translate(362.20,47.46) scale(0.89,1)" font-size="8.9" text-anchor="end" fill="#000" stroke="#000" stroke-width="0.15">EC</text>
<text transform="translate(362.20,69.23) scale(0.89,1)" font-size="8.9" text-anchor="end" fill="#000" stroke="#000" stroke-width="0.15">OM</text>
<text transform="translate(362.20,91.00) scale(0.89,1)" font-size="8.9" text-anchor="end" fill="#000" stroke="#000" stroke-width="0.15">NC</text>
<text transform="translate(362.20,112.78) scale(0.89,1)" font-size="8.9" text-anchor="end" fill="#000" stroke="#000" stroke-width="0.15">Hg</text>
<text transform="translate(362.20,134.55) scale(0.89,1)" font-size="8.9" text-anchor="end" fill="#000" stroke="#000" stroke-width="0.15">Cr</text>
<text transform="translate(362.20,156.32) scale(0.89,1)" font-size="8.9" text-anchor="end" fill="#000" stroke="#000" stroke-width="0.15">Ni</text>
<text transform="translate(362.20,178.10) scale(0.89,1)" font-size="8.9" text-anchor="end" fill="#000" stroke="#000" stroke-width="0.15">Pb</text>
<text transform="translate(362.20,199.87) scale(0.89,1)" font-size="8.9" text-anchor="end" fill="#000" stroke="#000" stroke-width="0.15">Zn</text>
<text transform="translate(362.20,221.64) scale(0.89,1)" font-size="8.9" text-anchor="end" fill="#000" stroke="#000" stroke-width="0.15">Cu</text>
<text transform="translate(362.20,243.41) scale(0.89,1)" font-size="8.9" text-anchor="end" fill="#000" stroke="#000" stroke-width="0.15">Cd</text>
<text transform="translate(378.24,7.70) scale(0.845,1)" font-size="9.4" text-anchor="middle" fill="#000" stroke="#000" stroke-width="0.15">pH</text>
<text transform="translate(403.71,29.47) scale(0.845,1)" font-size="9.4" text-anchor="middle" fill="#000" stroke="#000" stroke-width="0.15">EC</text>
<text transform="translate(429.18,51.25) scale(0.845,1)" font-size="9.4" text-anchor="middle" fill="#000" stroke="#000" stroke-width="0.15">OM</text>
<text transform="translate(454.65,73.02) scale(0.845,1)" font-size="9.4" text-anchor="middle" fill="#000" stroke="#000" stroke-width="0.15">NC</text>
<text transform="translate(480.13,94.79) scale(0.845,1)" font-size="9.4" text-anchor="middle" fill="#000" stroke="#000" stroke-width="0.15">Hg</text>
<text transform="translate(505.60,116.56) scale(0.845,1)" font-size="9.4" text-anchor="middle" fill="#000" stroke="#000" stroke-width="0.15">Cr</text>
<text transform="translate(531.07,138.34) scale(0.845,1)" font-size="9.4" text-anchor="middle" fill="#000" stroke="#000" stroke-width="0.15">Ni</text>
<text transform="translate(556.55,160.11) scale(0.845,1)" font-size="9.4" text-anchor="middle" fill="#000" stroke="#000" stroke-width="0.15">Pb</text>
<text transform="translate(582.02,181.88) scale(0.845,1)" font-size="9.4" text-anchor="middle" fill="#000" stroke="#000" stroke-width="0.15">Zn</text>
<text transform="translate(607.49,203.65) scale(0.845,1)" font-size="9.4" text-anchor="middle" fill="#000" stroke="#000" stroke-width="0.15">Cu</text>
<text transform="translate(632.96,225.43) scale(0.845,1)" font-size="9.4" text-anchor="middle" fill="#000" stroke="#000" stroke-width="0.15">Cd</text>
<rect x="649.0" y="11.1" width="16.70" height="239.60" fill="url(#cbg)" stroke="#555" stroke-width="0.8"/>
<text transform="translate(672.30,14.15) scale(0.95,1)" font-size="6.5" text-anchor="start" fill="#111">1.0</text>
<text transform="translate(672.30,38.11) scale(0.95,1)" font-size="6.5" text-anchor="start" fill="#111">0.80</text>
<text transform="translate(672.30,62.07) scale(0.95,1)" font-size="6.5" text-anchor="start" fill="#111">0.60</text>
<text transform="translate(672.30,86.03) scale(0.95,1)" font-size="6.5" text-anchor="start" fill="#111">0.40</text>
<text transform="translate(672.30,109.99) scale(0.95,1)" font-size="6.5" text-anchor="start" fill="#111">0.20</text>
<text transform="translate(672.30,133.95) scale(0.95,1)" font-size="6.5" text-anchor="start" fill="#111">0.0</text>
<text transform="translate(672.30,157.91) scale(0.95,1)" font-size="6.5" text-anchor="start" fill="#111">-0.20</text>
<text transform="translate(672.30,181.87) scale(0.95,1)" font-size="6.5" text-anchor="start" fill="#111">-0.40</text>
<text transform="translate(672.30,205.83) scale(0.95,1)" font-size="6.5" text-anchor="start" fill="#111">-0.60</text>
<text transform="translate(672.30,229.79) scale(0.95,1)" font-size="6.5" text-anchor="start" fill="#111">-0.80</text>
<text transform="translate(672.30,253.75) scale(0.95,1)" font-size="6.5" text-anchor="start" fill="#111">-1.0</text>
<path d="M665.70 11.45h4 M665.70 35.41h4 M665.70 59.37h4 M665.70 83.33h4 M665.70 107.29h4 M665.70 131.25h4 M665.70 155.21h4 M665.70 179.17h4 M665.70 203.13h4 M665.70 227.09h4 M665.70 251.05h4" stroke="#444" stroke-width="1"/>
<text transform="translate(645.50,25.30) scale(0.875,1)" font-size="13.3" text-anchor="end" fill="#f00">b) Barley</text>
<path d="M16.90 268.60h24.80v21.70h-24.80z M16.90 290.30h24.80v21.70h-24.80z M41.70 290.30h24.80v21.70h-24.80z M16.90 312.00h24.80v21.70h-24.80z M41.70 312.00h24.80v21.70h-24.80z M66.50 312.00h24.80v21.70h-24.80z M16.90 333.70h24.80v21.70h-24.80z M41.70 333.70h24.80v21.70h-24.80z M66.50 333.70h24.80v21.70h-24.80z M91.30 333.70h24.80v21.70h-24.80z M16.90 355.40h24.80v21.70h-24.80z M41.70 355.40h24.80v21.70h-24.80z M66.50 355.40h24.80v21.70h-24.80z M91.30 355.40h24.80v21.70h-24.80z M116.10 355.40h24.80v21.70h-24.80z M16.90 377.10h24.80v21.70h-24.80z M41.70 377.10h24.80v21.70h-24.80z M66.50 377.10h24.80v21.70h-24.80z M91.30 377.10h24.80v21.70h-24.80z M116.10 377.10h24.80v21.70h-24.80z M140.90 377.10h24.80v21.70h-24.80z M16.90 398.80h24.80v21.70h-24.80z M41.70 398.80h24.80v21.70h-24.80z M66.50 398.80h24.80v21.70h-24.80z M91.30 398.80h24.80v21.70h-24.80z M116.10 398.80h24.80v21.70h-24.80z M140.90 398.80h24.80v21.70h-24.80z M165.70 398.80h24.80v21.70h-24.80z M16.90 420.50h24.80v21.70h-24.80z M41.70 420.50h24.80v21.70h-24.80z M66.50 420.50h24.80v21.70h-24.80z M91.30 420.50h24.80v21.70h-24.80z M116.10 420.50h24.80v21.70h-24.80z M140.90 420.50h24.80v21.70h-24.80z M165.70 420.50h24.80v21.70h-24.80z M190.50 420.50h24.80v21.70h-24.80z M16.90 442.20h24.80v21.70h-24.80z M41.70 442.20h24.80v21.70h-24.80z M66.50 442.20h24.80v21.70h-24.80z M91.30 442.20h24.80v21.70h-24.80z M116.10 442.20h24.80v21.70h-24.80z M140.90 442.20h24.80v21.70h-24.80z M165.70 442.20h24.80v21.70h-24.80z M190.50 442.20h24.80v21.70h-24.80z M215.30 442.20h24.80v21.70h-24.80z M16.90 463.90h24.80v21.70h-24.80z M41.70 463.90h24.80v21.70h-24.80z M66.50 463.90h24.80v21.70h-24.80z M91.30 463.90h24.80v21.70h-24.80z M116.10 463.90h24.80v21.70h-24.80z M140.90 463.90h24.80v21.70h-24.80z M165.70 463.90h24.80v21.70h-24.80z M190.50 463.90h24.80v21.70h-24.80z M215.30 463.90h24.80v21.70h-24.80z M240.10 463.90h24.80v21.70h-24.80z M16.90 485.60h24.80v21.70h-24.80z M41.70 485.60h24.80v21.70h-24.80z M66.50 485.60h24.80v21.70h-24.80z M91.30 485.60h24.80v21.70h-24.80z M116.10 485.60h24.80v21.70h-24.80z M140.90 485.60h24.80v21.70h-24.80z M165.70 485.60h24.80v21.70h-24.80z M190.50 485.60h24.80v21.70h-24.80z M215.30 485.60h24.80v21.70h-24.80z M240.10 485.60h24.80v21.70h-24.80z M264.90 485.60h24.80v21.70h-24.80z" fill="none" stroke="#e6e6e6" stroke-width="0.7"/>
<line x1="18.76" y1="288.67" x2="39.84" y2="270.23" stroke="#f04444" stroke-width="0.7"/>
<polygon points="34.57,296.54 33.33,295.54 32.03,294.63 30.68,293.83 29.30,293.16 27.92,292.63 26.57,292.24 25.27,292.01 24.03,291.93 22.88,292.01 21.85,292.24 20.94,292.63 20.17,293.16 19.56,293.83 19.12,294.63 18.85,295.54 18.76,296.54 18.85,297.62 19.12,298.76 19.56,299.95 20.17,301.15 20.94,302.35 21.85,303.54 22.88,304.68 24.03,305.76 25.27,306.76 26.57,307.67 27.92,308.47 29.30,309.14 30.68,309.67 32.03,310.06 33.33,310.29 34.57,310.37 35.72,310.29 36.75,310.06 37.66,309.67 38.43,309.14 39.04,308.47 39.48,307.67 39.75,306.76 39.84,305.76 39.75,304.68 39.48,303.54 39.04,302.35 38.43,301.15 37.66,299.95 36.75,298.76 35.72,297.62" fill="#7575d2" stroke="#7575d2" stroke-width="0.4"/>
<line x1="43.56" y1="310.37" x2="64.64" y2="291.93" stroke="#f04444" stroke-width="0.7"/>
<polygon points="39.02,314.35 38.40,313.95 37.63,313.71 36.72,313.63 35.67,313.70 34.52,313.93 33.28,314.31 31.98,314.84 30.62,315.51 29.25,316.30 27.87,317.20 26.52,318.20 25.22,319.28 23.98,320.42 22.84,321.60 21.81,322.80 20.91,324.01 20.15,325.19 19.54,326.34 19.11,327.42 18.84,328.43 18.76,329.34 18.86,330.14 19.13,330.81 19.58,331.35 20.20,331.75 20.97,331.99 21.88,332.07 22.93,332.00 24.08,331.77 25.32,331.39 26.62,330.86 27.98,330.19 29.35,329.40 30.73,328.50 32.08,327.50 33.38,326.42 34.62,325.28 35.76,324.10 36.79,322.90 37.69,321.69 38.45,320.51 39.06,319.36 39.49,318.28 39.76,317.27 39.84,316.36 39.74,315.56 39.47,314.89" fill="#f7474b" stroke="#f7474b" stroke-width="0.4"/>
<polygon points="60.47,317.28 59.32,316.37 58.08,315.57 56.77,314.89 55.42,314.35 54.04,313.96 52.66,313.71 51.31,313.63 50.01,313.70 48.78,313.93 47.64,314.31 46.60,314.84 45.70,315.50 44.94,316.29 44.34,317.19 43.90,318.19 43.64,319.27 43.56,320.41 43.66,321.59 43.94,322.80 44.39,324.00 45.00,325.19 45.78,326.33 46.69,327.41 47.73,328.42 48.88,329.33 50.12,330.13 51.43,330.81 52.78,331.35 54.16,331.74 55.54,331.99 56.89,332.07 58.19,332.00 59.42,331.77 60.56,331.39 61.60,330.86 62.50,330.20 63.26,329.41 63.86,328.51 64.30,327.51 64.56,326.43 64.64,325.29 64.54,324.11 64.26,322.90 63.81,321.70 63.20,320.51 62.42,319.37 61.51,318.29" fill="#b3b3e7" stroke="#b3b3e7" stroke-width="0.4"/>
<line x1="68.36" y1="332.07" x2="89.44" y2="313.63" stroke="#f04444" stroke-width="0.7"/>
<polygon points="39.02,336.05 38.40,335.65 37.63,335.41 36.72,335.33 35.67,335.40 34.52,335.63 33.28,336.01 31.98,336.54 30.62,337.21 29.25,338.00 27.87,338.90 26.52,339.90 25.22,340.98 23.98,342.12 22.84,343.30 21.81,344.50 20.91,345.71 20.15,346.89 19.54,348.04 19.11,349.12 18.84,350.13 18.76,351.04 18.86,351.84 19.13,352.51 19.58,353.05 20.20,353.45 20.97,353.69 21.88,353.77 22.93,353.70 24.08,353.47 25.32,353.09 26.62,352.56 27.98,351.89 29.35,351.10 30.73,350.20 32.08,349.20 33.38,348.12 34.62,346.98 35.76,345.80 36.79,344.60 37.69,343.39 38.45,342.21 39.06,341.06 39.49,339.98 39.76,338.97 39.84,338.06 39.74,337.26 39.47,336.59" fill="#f7474b" stroke="#f7474b" stroke-width="0.4"/>
<polygon points="60.47,338.98 59.32,338.07 58.08,337.27 56.77,336.59 55.42,336.05 54.04,335.66 52.66,335.41 51.31,335.33 50.01,335.40 48.78,335.63 47.64,336.01 46.60,336.54 45.70,337.20 44.94,337.99 44.34,338.89 43.90,339.89 43.64,340.97 43.56,342.11 43.66,343.29 43.94,344.50 44.39,345.70 45.00,346.89 45.78,348.03 46.69,349.11 47.73,350.12 48.88,351.03 50.12,351.83 51.43,352.51 52.78,353.05 54.16,353.44 55.54,353.69 56.89,353.77 58.19,353.70 59.42,353.47 60.56,353.09 61.60,352.56 62.50,351.90 63.26,351.11 63.86,350.21 64.30,349.21 64.56,348.13 64.64,346.99 64.54,345.81 64.26,344.60 63.81,343.40 63.20,342.21 62.42,341.07 61.51,339.99" fill="#b3b3e7" stroke="#b3b3e7" stroke-width="0.4"/>
<line x1="93.16" y1="353.77" x2="114.24" y2="335.33" stroke="#f04444" stroke-width="0.7"/>
<polygon points="35.92,360.45 34.80,359.57 33.58,358.79 32.28,358.15 30.94,357.64 29.56,357.28 28.19,357.08 26.83,357.03 25.51,357.14 24.26,357.40 23.10,357.82 22.04,358.38 21.10,359.08 20.31,359.89 19.67,360.82 19.19,361.84 18.89,362.94 18.76,364.09 18.82,365.28 19.05,366.48 19.46,367.68 20.04,368.86 20.78,369.99 21.66,371.06 22.68,372.05 23.80,372.93 25.02,373.71 26.32,374.35 27.66,374.86 29.04,375.22 30.41,375.42 31.77,375.47 33.09,375.36 34.34,375.10 35.50,374.68 36.56,374.12 37.50,373.42 38.29,372.61 38.93,371.68 39.41,370.66 39.71,369.56 39.84,368.41 39.78,367.22 39.55,366.02 39.14,364.82 38.56,363.64 37.82,362.51 36.94,361.44" fill="#c4c4ec" stroke="#c4c4ec" stroke-width="0.4"/>
<polygon points="61.90,359.43 60.90,358.68 59.79,358.05 58.59,357.57 57.30,357.24 55.97,357.06 54.60,357.04 53.22,357.17 51.85,357.46 50.53,357.91 49.27,358.49 48.08,359.21 47.01,360.04 46.05,360.99 45.23,362.02 44.56,363.13 44.06,364.28 43.73,365.48 43.57,366.68 43.60,367.88 43.80,369.05 44.18,370.18 44.73,371.23 45.45,372.20 46.30,373.07 47.30,373.82 48.41,374.45 49.61,374.93 50.90,375.26 52.23,375.44 53.60,375.46 54.98,375.33 56.35,375.04 57.67,374.59 58.93,374.01 60.12,373.29 61.19,372.46 62.15,371.51 62.97,370.48 63.64,369.37 64.14,368.22 64.47,367.02 64.63,365.82 64.60,364.62 64.40,363.45 64.02,362.32 63.47,361.27 62.75,360.30" fill="#f3f0f5" stroke="#f3f0f5" stroke-width="0.4"/>
<polygon points="86.75,359.38 85.77,358.64 84.66,358.02 83.46,357.55 82.18,357.22 80.85,357.05 79.48,357.04 78.10,357.19 76.74,357.49 75.41,357.94 74.14,358.53 72.95,359.25 71.87,360.10 70.90,361.05 70.08,362.09 69.40,363.20 68.88,364.36 68.54,365.55 68.38,366.76 68.39,367.96 68.58,369.12 68.95,370.24 69.50,371.29 70.20,372.26 71.05,373.12 72.03,373.86 73.14,374.48 74.34,374.95 75.62,375.28 76.95,375.45 78.32,375.46 79.70,375.31 81.06,375.01 82.39,374.56 83.66,373.97 84.85,373.25 85.93,372.40 86.90,371.45 87.72,370.41 88.40,369.30 88.92,368.14 89.26,366.95 89.42,365.74 89.41,364.54 89.22,363.38 88.85,362.26 88.30,361.21 87.60,360.24" fill="#fbe1e2" stroke="#fbe1e2" stroke-width="0.4"/>
<polygon points="111.55,359.38 110.57,358.64 109.46,358.02 108.26,357.55 106.98,357.22 105.65,357.05 104.28,357.04 102.90,357.19 101.54,357.49 100.21,357.94 98.94,358.53 97.75,359.25 96.67,360.10 95.70,361.05 94.88,362.09 94.20,363.20 93.68,364.36 93.34,365.55 93.18,366.76 93.19,367.96 93.38,369.12 93.75,370.24 94.30,371.29 95.00,372.26 95.85,373.12 96.83,373.86 97.94,374.48 99.14,374.95 100.42,375.28 101.75,375.45 103.12,375.46 104.50,375.31 105.86,375.01 107.19,374.56 108.46,373.97 109.65,373.25 110.73,372.40 111.70,371.45 112.52,370.41 113.20,369.30 113.72,368.14 114.06,366.95 114.22,365.74 114.21,364.54 114.02,363.38 113.65,362.26 113.10,361.21 112.40,360.24" fill="#fbe1e2" stroke="#fbe1e2" stroke-width="0.4"/>
<line x1="117.96" y1="375.47" x2="139.04" y2="357.03" stroke="#f04444" stroke-width="0.7"/>
<polygon points="34.83,383.11 33.61,382.13 32.32,381.25 30.97,380.48 29.60,379.84 28.22,379.33 26.86,378.98 25.54,378.78 24.29,378.73 23.12,378.84 22.06,379.11 21.12,379.53 20.33,380.10 19.68,380.80 19.20,381.62 18.89,382.55 18.76,383.57 18.82,384.66 19.05,385.82 19.45,387.01 20.03,388.21 20.76,389.41 21.64,390.59 22.65,391.72 23.77,392.79 24.99,393.77 26.28,394.65 27.63,395.42 29.00,396.06 30.38,396.57 31.74,396.92 33.06,397.12 34.31,397.17 35.48,397.06 36.54,396.79 37.48,396.37 38.27,395.80 38.92,395.10 39.40,394.28 39.71,393.35 39.84,392.33 39.78,391.24 39.55,390.08 39.15,388.89 38.57,387.69 37.84,386.49 36.96,385.31 35.95,384.18" fill="#8383d6" stroke="#8383d6" stroke-width="0.4"/>
<polygon points="62.98,380.18 62.16,379.60 61.21,379.16 60.13,378.87 58.95,378.74 57.69,378.76 56.37,378.94 55.00,379.28 53.63,379.76 52.25,380.39 50.92,381.14 49.63,382.01 48.42,382.98 47.31,384.04 46.32,385.16 45.46,386.34 44.74,387.53 44.19,388.74 43.81,389.93 43.60,391.09 43.57,392.20 43.72,393.23 44.05,394.17 44.55,395.01 45.22,395.72 46.04,396.30 46.99,396.74 48.07,397.03 49.25,397.16 50.51,397.14 51.83,396.96 53.20,396.62 54.57,396.14 55.95,395.51 57.28,394.76 58.57,393.89 59.78,392.92 60.89,391.86 61.88,390.74 62.74,389.56 63.46,388.37 64.01,387.16 64.39,385.97 64.60,384.81 64.63,383.70 64.48,382.67 64.15,381.73 63.65,380.89" fill="#f68e92" stroke="#f68e92" stroke-width="0.4"/>
<polygon points="84.95,382.65 83.78,381.71 82.52,380.88 81.19,380.17 79.83,379.59 78.45,379.15 77.08,378.87 75.74,378.74 74.46,378.76 73.25,378.95 72.13,379.29 71.14,379.77 70.27,380.40 69.56,381.16 69.00,382.03 68.61,383.00 68.40,384.06 68.37,385.19 68.52,386.36 68.84,387.56 69.34,388.76 70.00,389.96 70.82,391.11 71.77,392.22 72.85,393.25 74.02,394.19 75.28,395.02 76.61,395.73 77.97,396.31 79.35,396.75 80.72,397.03 82.06,397.16 83.34,397.14 84.55,396.95 85.67,396.61 86.66,396.13 87.53,395.50 88.24,394.74 88.80,393.87 89.19,392.90 89.40,391.84 89.43,390.71 89.28,389.54 88.96,388.34 88.46,387.14 87.80,385.94 86.98,384.79 86.03,383.68" fill="#a0a0e0" stroke="#a0a0e0" stroke-width="0.4"/>
<polygon points="109.75,382.65 108.58,381.71 107.32,380.88 105.99,380.17 104.63,379.59 103.25,379.15 101.88,378.87 100.54,378.74 99.26,378.76 98.05,378.95 96.93,379.29 95.94,379.77 95.07,380.40 94.36,381.16 93.80,382.03 93.41,383.00 93.20,384.06 93.17,385.19 93.32,386.36 93.64,387.56 94.14,388.76 94.80,389.96 95.62,391.11 96.57,392.22 97.65,393.25 98.82,394.19 100.08,395.02 101.41,395.73 102.77,396.31 104.15,396.75 105.52,397.03 106.86,397.16 108.14,397.14 109.35,396.95 110.47,396.61 111.46,396.13 112.33,395.50 113.04,394.74 113.60,393.87 113.99,392.90 114.20,391.84 114.23,390.71 114.08,389.54 113.76,388.34 113.26,387.14 112.60,385.94 111.78,384.79 110.83,383.68" fill="#a0a0e0" stroke="#a0a0e0" stroke-width="0.4"/>
<polygon points="137.47,380.10 136.68,379.53 135.74,379.11 134.68,378.84 133.51,378.73 132.26,378.78 130.94,378.98 129.58,379.33 128.20,379.84 126.83,380.48 125.48,381.25 124.19,382.13 122.97,383.11 121.85,384.18 120.84,385.31 119.96,386.49 119.23,387.69 118.65,388.89 118.25,390.08 118.02,391.24 117.96,392.33 118.09,393.35 118.40,394.28 118.88,395.10 119.53,395.80 120.32,396.37 121.26,396.79 122.32,397.06 123.49,397.17 124.74,397.12 126.06,396.92 127.42,396.57 128.80,396.06 130.17,395.42 131.52,394.65 132.81,393.77 134.03,392.79 135.15,391.72 136.16,390.59 137.04,389.41 137.77,388.21 138.35,387.01 138.75,385.82 138.98,384.66 139.04,383.57 138.91,382.55 138.60,381.62 138.12,380.80" fill="#f6868a" stroke="#f6868a" stroke-width="0.4"/>
<line x1="142.76" y1="397.17" x2="163.84" y2="378.73" stroke="#f04444" stroke-width="0.7"/>
<polygon points="35.02,404.64 33.82,403.67 32.54,402.81 31.20,402.06 29.83,401.44 28.45,400.96 27.09,400.63 25.76,400.46 24.50,400.44 23.31,400.58 22.23,400.87 21.27,401.32 20.45,401.91 19.78,402.63 19.27,403.47 18.93,404.41 18.77,405.45 18.79,406.56 18.99,407.72 19.37,408.91 19.92,410.12 20.62,411.31 21.48,412.48 22.47,413.61 23.58,414.66 24.78,415.63 26.06,416.49 27.40,417.24 28.77,417.86 30.15,418.34 31.51,418.67 32.84,418.84 34.10,418.86 35.29,418.72 36.37,418.43 37.33,417.98 38.15,417.39 38.82,416.67 39.33,415.83 39.67,414.89 39.83,413.85 39.81,412.74 39.61,411.58 39.23,410.39 38.68,409.18 37.98,407.99 37.12,406.82 36.13,405.69" fill="#8d8dda" stroke="#8d8dda" stroke-width="0.4"/>
<polygon points="63.07,401.80 62.28,401.23 61.34,400.81 60.28,400.54 59.11,400.43 57.86,400.48 56.54,400.68 55.18,401.03 53.80,401.54 52.43,402.18 51.08,402.95 49.79,403.83 48.57,404.81 47.45,405.88 46.44,407.01 45.56,408.19 44.83,409.39 44.25,410.59 43.85,411.78 43.62,412.94 43.56,414.03 43.69,415.05 44.00,415.98 44.48,416.80 45.13,417.50 45.92,418.07 46.86,418.49 47.92,418.76 49.09,418.87 50.34,418.82 51.66,418.62 53.02,418.27 54.40,417.76 55.77,417.12 57.12,416.35 58.41,415.47 59.63,414.49 60.75,413.42 61.76,412.29 62.64,411.11 63.37,409.91 63.95,408.71 64.35,407.52 64.58,406.36 64.64,405.27 64.51,404.25 64.20,403.32 63.72,402.50" fill="#f6868a" stroke="#f6868a" stroke-width="0.4"/>
<polygon points="85.22,404.12 84.07,403.20 82.83,402.40 81.52,401.71 80.16,401.17 78.78,400.77 77.41,400.52 76.06,400.43 74.76,400.49 73.53,400.72 72.39,401.09 71.37,401.61 70.47,402.27 69.71,403.06 69.12,403.96 68.69,404.95 68.44,406.03 68.36,407.17 68.47,408.35 68.75,409.55 69.21,410.75 69.83,411.94 70.61,413.09 71.53,414.17 72.58,415.18 73.73,416.10 74.97,416.90 76.28,417.59 77.64,418.13 79.02,418.53 80.39,418.78 81.74,418.87 83.04,418.81 84.27,418.58 85.41,418.21 86.43,417.69 87.33,417.03 88.09,416.24 88.68,415.34 89.11,414.35 89.36,413.27 89.44,412.13 89.33,410.95 89.05,409.75 88.59,408.55 87.97,407.36 87.19,406.21 86.27,405.13" fill="#b1b1e6" stroke="#b1b1e6" stroke-width="0.4"/>
<polygon points="110.02,404.12 108.87,403.20 107.63,402.40 106.32,401.71 104.96,401.17 103.58,400.77 102.21,400.52 100.86,400.43 99.56,400.49 98.33,400.72 97.19,401.09 96.17,401.61 95.27,402.27 94.51,403.06 93.92,403.96 93.49,404.95 93.24,406.03 93.16,407.17 93.27,408.35 93.55,409.55 94.01,410.75 94.63,411.94 95.41,413.09 96.33,414.17 97.38,415.18 98.53,416.10 99.77,416.90 101.08,417.59 102.44,418.13 103.82,418.53 105.19,418.78 106.54,418.87 107.84,418.81 109.07,418.58 110.21,418.21 111.23,417.69 112.13,417.03 112.89,416.24 113.48,415.34 113.91,414.35 114.16,413.27 114.24,412.13 114.13,410.95 113.85,409.75 113.39,408.55 112.77,407.36 111.99,406.21 111.07,405.13" fill="#b1b1e6" stroke="#b1b1e6" stroke-width="0.4"/>
<polygon points="137.72,401.58 136.97,401.07 136.08,400.70 135.06,400.49 133.93,400.43 132.70,400.53 131.41,400.78 130.06,401.19 128.68,401.75 127.31,402.43 125.95,403.24 124.64,404.16 123.39,405.18 122.23,406.27 121.18,407.42 120.25,408.61 119.47,409.81 118.83,411.01 118.37,412.19 118.08,413.33 117.96,414.40 118.03,415.39 118.27,416.28 118.69,417.06 119.28,417.72 120.03,418.23 120.92,418.60 121.94,418.81 123.07,418.87 124.30,418.77 125.59,418.52 126.94,418.11 128.32,417.55 129.69,416.87 131.05,416.06 132.36,415.14 133.61,414.12 134.77,413.03 135.82,411.88 136.75,410.69 137.53,409.49 138.17,408.29 138.63,407.11 138.92,405.97 139.04,404.90 138.97,403.91 138.73,403.02 138.31,402.24" fill="#f67276" stroke="#f67276" stroke-width="0.4"/>
<polygon points="163.76,400.50 163.50,400.43 163.07,400.52 162.47,400.76 161.71,401.16 160.81,401.70 159.78,402.38 158.64,403.18 157.41,404.10 156.11,405.10 154.76,406.19 153.39,407.34 152.01,408.52 150.65,409.72 149.35,410.93 148.10,412.11 146.95,413.25 145.91,414.33 144.99,415.32 144.22,416.22 143.60,417.01 143.14,417.67 142.86,418.20 142.76,418.58 142.84,418.80 143.10,418.87 143.53,418.78 144.13,418.54 144.89,418.14 145.79,417.60 146.82,416.92 147.96,416.12 149.19,415.20 150.49,414.20 151.84,413.11 153.21,411.96 154.59,410.78 155.95,409.58 157.25,408.37 158.50,407.19 159.65,406.05 160.69,404.97 161.61,403.98 162.38,403.08 163.00,402.29 163.46,401.63 163.74,401.10 163.84,400.72" fill="#fe0707" stroke="#fe0707" stroke-width="0.4"/>
<line x1="167.56" y1="418.87" x2="188.64" y2="400.43" stroke="#f04444" stroke-width="0.7"/>
<polygon points="34.88,426.47 33.66,425.49 32.37,424.61 31.03,423.85 29.66,423.21 28.28,422.71 26.92,422.37 25.60,422.17 24.34,422.13 23.17,422.25 22.10,422.53 21.16,422.95 20.36,423.52 19.71,424.23 19.22,425.05 18.90,425.99 18.77,427.01 18.81,428.11 19.03,429.27 19.43,430.46 20.00,431.66 20.72,432.86 21.60,434.04 22.60,435.17 23.72,436.23 24.94,437.21 26.23,438.09 27.57,438.85 28.94,439.49 30.32,439.99 31.68,440.33 33.00,440.53 34.26,440.57 35.43,440.45 36.50,440.17 37.44,439.75 38.24,439.18 38.89,438.47 39.38,437.65 39.70,436.71 39.83,435.69 39.79,434.59 39.57,433.43 39.17,432.24 38.60,431.04 37.88,429.84 37.00,428.66 36.00,427.53" fill="#8585d7" stroke="#8585d7" stroke-width="0.4"/>
<polygon points="63.32,423.28 62.57,422.77 61.68,422.40 60.66,422.19 59.53,422.13 58.30,422.23 57.01,422.48 55.66,422.89 54.28,423.45 52.91,424.13 51.55,424.94 50.24,425.86 48.99,426.88 47.83,427.97 46.78,429.12 45.85,430.31 45.07,431.51 44.43,432.71 43.97,433.89 43.68,435.03 43.56,436.10 43.63,437.09 43.87,437.98 44.29,438.76 44.88,439.42 45.63,439.93 46.52,440.30 47.54,440.51 48.67,440.57 49.90,440.47 51.19,440.22 52.54,439.81 53.92,439.25 55.29,438.57 56.65,437.76 57.96,436.84 59.21,435.82 60.37,434.73 61.42,433.58 62.35,432.39 63.13,431.19 63.77,429.99 64.23,428.81 64.52,427.67 64.64,426.60 64.57,425.61 64.33,424.72 63.91,423.94" fill="#f67276" stroke="#f67276" stroke-width="0.4"/>
<polygon points="84.95,426.05 83.78,425.11 82.52,424.28 81.19,423.57 79.83,422.99 78.45,422.55 77.08,422.27 75.74,422.14 74.46,422.16 73.25,422.35 72.13,422.69 71.14,423.17 70.27,423.80 69.56,424.56 69.00,425.43 68.61,426.40 68.40,427.46 68.37,428.59 68.52,429.76 68.84,430.96 69.34,432.16 70.00,433.36 70.82,434.51 71.77,435.62 72.85,436.65 74.02,437.59 75.28,438.42 76.61,439.13 77.97,439.71 79.35,440.15 80.72,440.43 82.06,440.56 83.34,440.54 84.55,440.35 85.67,440.01 86.66,439.53 87.53,438.90 88.24,438.14 88.80,437.27 89.19,436.30 89.40,435.24 89.43,434.11 89.28,432.94 88.96,431.74 88.46,430.54 87.80,429.34 86.98,428.19 86.03,427.08" fill="#a0a0e0" stroke="#a0a0e0" stroke-width="0.4"/>
<polygon points="109.75,426.05 108.58,425.11 107.32,424.28 105.99,423.57 104.63,422.99 103.25,422.55 101.88,422.27 100.54,422.14 99.26,422.16 98.05,422.35 96.93,422.69 95.94,423.17 95.07,423.80 94.36,424.56 93.80,425.43 93.41,426.40 93.20,427.46 93.17,428.59 93.32,429.76 93.64,430.96 94.14,432.16 94.80,433.36 95.62,434.51 96.57,435.62 97.65,436.65 98.82,437.59 100.08,438.42 101.41,439.13 102.77,439.71 104.15,440.15 105.52,440.43 106.86,440.56 108.14,440.54 109.35,440.35 110.47,440.01 111.46,439.53 112.33,438.90 113.04,438.14 113.60,437.27 113.99,436.30 114.20,435.24 114.23,434.11 114.08,432.94 113.76,431.74 113.26,430.54 112.60,429.34 111.78,428.19 110.83,427.08" fill="#a0a0e0" stroke="#a0a0e0" stroke-width="0.4"/>
<polygon points="137.26,423.69 136.41,423.08 135.44,422.62 134.34,422.31 133.15,422.15 131.87,422.15 130.54,422.30 129.17,422.61 127.80,423.07 126.43,423.67 125.10,424.41 123.82,425.26 122.63,426.22 121.54,427.26 120.57,428.37 119.73,429.54 119.04,430.73 118.51,431.94 118.16,433.14 117.98,434.30 117.98,435.42 118.17,436.46 118.52,437.42 119.05,438.28 119.74,439.01 120.59,439.62 121.56,440.08 122.66,440.39 123.85,440.55 125.13,440.55 126.46,440.40 127.83,440.09 129.20,439.63 130.57,439.03 131.90,438.29 133.18,437.44 134.37,436.48 135.46,435.44 136.43,434.33 137.27,433.16 137.96,431.97 138.49,430.76 138.84,429.56 139.02,428.40 139.02,427.28 138.83,426.24 138.48,425.28 137.95,424.42" fill="#f7989c" stroke="#f7989c" stroke-width="0.4"/>
<polygon points="163.63,422.31 163.26,422.15 162.73,422.14 162.03,422.30 161.19,422.60 160.21,423.06 159.11,423.66 157.91,424.39 156.64,425.23 155.30,426.19 153.94,427.23 152.56,428.34 151.19,429.51 149.86,430.70 148.59,431.91 147.40,433.10 146.31,434.27 145.34,435.39 144.51,436.44 143.82,437.40 143.30,438.25 142.95,438.99 142.78,439.60 142.79,440.07 142.97,440.39 143.34,440.55 143.87,440.56 144.57,440.40 145.41,440.10 146.39,439.64 147.49,439.04 148.69,438.31 149.96,437.47 151.30,436.51 152.66,435.47 154.04,434.36 155.41,433.19 156.74,432.00 158.01,430.79 159.20,429.60 160.29,428.43 161.26,427.31 162.09,426.26 162.78,425.30 163.30,424.45 163.65,423.71 163.82,423.10 163.81,422.63" fill="#fc1314" stroke="#fc1314" stroke-width="0.4"/>
<polygon points="188.40,422.34 188.02,422.16 187.47,422.14 186.76,422.27 185.90,422.57 184.91,423.01 183.80,423.59 182.60,424.31 181.31,425.15 179.98,426.09 178.61,427.13 177.23,428.23 175.86,429.39 174.54,430.59 173.27,431.79 172.09,432.99 171.01,434.16 170.06,435.28 169.24,436.34 168.57,437.31 168.06,438.18 167.73,438.93 167.57,439.55 167.60,440.03 167.80,440.36 168.18,440.54 168.73,440.56 169.44,440.43 170.30,440.13 171.29,439.69 172.40,439.11 173.60,438.39 174.89,437.55 176.22,436.61 177.59,435.57 178.97,434.47 180.34,433.31 181.66,432.11 182.93,430.91 184.11,429.71 185.19,428.54 186.14,427.42 186.96,426.36 187.63,425.39 188.14,424.52 188.47,423.77 188.63,423.15 188.60,422.67" fill="#fc1516" stroke="#fc1516" stroke-width="0.4"/>
<line x1="192.36" y1="440.57" x2="213.44" y2="422.13" stroke="#f04444" stroke-width="0.7"/>
<polygon points="37.73,445.67 36.83,445.01 35.81,444.49 34.67,444.12 33.44,443.89 32.14,443.83 30.79,443.92 29.42,444.17 28.04,444.57 26.68,445.11 25.37,445.80 24.13,446.60 22.98,447.52 21.93,448.53 21.01,449.61 20.23,450.76 19.61,451.95 19.15,453.15 18.87,454.35 18.76,455.53 18.84,456.67 19.09,457.75 19.52,458.74 20.11,459.64 20.87,460.43 21.77,461.09 22.79,461.61 23.93,461.98 25.16,462.21 26.46,462.27 27.81,462.18 29.18,461.93 30.56,461.53 31.92,460.99 33.23,460.30 34.47,459.50 35.62,458.58 36.67,457.57 37.59,456.49 38.37,455.34 38.99,454.15 39.45,452.95 39.73,451.75 39.84,450.57 39.76,449.43 39.51,448.35 39.08,447.36 38.49,446.46" fill="#f8b3b6" stroke="#f8b3b6" stroke-width="0.4"/>
<polygon points="61.53,446.55 60.49,445.75 59.34,445.08 58.11,444.54 56.80,444.15 55.45,443.91 54.07,443.83 52.69,443.90 51.34,444.13 50.04,444.52 48.80,445.05 47.66,445.72 46.63,446.51 45.72,447.41 44.96,448.42 44.35,449.50 43.91,450.64 43.65,451.82 43.56,453.02 43.65,454.23 43.93,455.41 44.37,456.56 44.99,457.64 45.76,458.64 46.67,459.55 47.71,460.35 48.86,461.02 50.09,461.56 51.40,461.95 52.75,462.19 54.13,462.27 55.51,462.20 56.86,461.97 58.16,461.58 59.40,461.05 60.54,460.38 61.57,459.59 62.48,458.69 63.24,457.68 63.85,456.60 64.29,455.46 64.55,454.28 64.64,453.08 64.55,451.87 64.27,450.69 63.83,449.54 63.21,448.46 62.44,447.46" fill="#fdfdfe" stroke="#fdfdfe" stroke-width="0.4"/>
<polygon points="86.25,446.62 85.20,445.81 84.04,445.13 82.80,444.58 81.49,444.18 80.13,443.92 78.75,443.83 77.38,443.89 76.03,444.11 74.73,444.48 73.50,445.00 72.37,445.66 71.34,446.44 70.45,447.33 69.70,448.33 69.11,449.40 68.68,450.54 68.43,451.72 68.36,452.92 68.47,454.13 68.76,455.31 69.22,456.46 69.85,457.55 70.63,458.56 71.55,459.48 72.60,460.29 73.76,460.97 75.00,461.52 76.31,461.92 77.67,462.18 79.05,462.27 80.42,462.21 81.77,461.99 83.07,461.62 84.30,461.10 85.43,460.44 86.46,459.66 87.35,458.77 88.10,457.77 88.69,456.70 89.12,455.56 89.37,454.38 89.44,453.18 89.33,451.97 89.04,450.79 88.58,449.64 87.95,448.55 87.17,447.54" fill="#f7f7fc" stroke="#f7f7fc" stroke-width="0.4"/>
<polygon points="111.05,446.62 110.00,445.81 108.84,445.13 107.60,444.58 106.29,444.18 104.93,443.92 103.55,443.83 102.18,443.89 100.83,444.11 99.53,444.48 98.30,445.00 97.17,445.66 96.14,446.44 95.25,447.33 94.50,448.33 93.91,449.40 93.48,450.54 93.23,451.72 93.16,452.92 93.27,454.13 93.56,455.31 94.02,456.46 94.65,457.55 95.43,458.56 96.35,459.48 97.40,460.29 98.56,460.97 99.80,461.52 101.11,461.92 102.47,462.18 103.85,462.27 105.22,462.21 106.57,461.99 107.87,461.62 109.10,461.10 110.23,460.44 111.26,459.66 112.15,458.77 112.90,457.77 113.49,456.70 113.92,455.56 114.17,454.38 114.24,453.18 114.13,451.97 113.84,450.79 113.38,449.64 112.75,448.55 111.97,447.54" fill="#f7f7fc" stroke="#f7f7fc" stroke-width="0.4"/>
<polygon points="133.93,448.30 132.70,447.31 131.40,446.42 130.05,445.64 128.68,444.99 127.30,444.47 125.95,444.10 124.63,443.89 123.39,443.83 122.23,443.93 121.18,444.18 120.25,444.59 119.46,445.14 118.83,445.83 118.37,446.64 118.08,447.56 117.96,448.58 118.03,449.67 118.27,450.82 118.69,452.00 119.28,453.21 120.03,454.41 120.92,455.59 121.94,456.72 123.07,457.80 124.30,458.79 125.60,459.68 126.95,460.46 128.32,461.11 129.70,461.63 131.05,462.00 132.37,462.21 133.61,462.27 134.77,462.17 135.82,461.92 136.75,461.51 137.54,460.96 138.17,460.27 138.63,459.46 138.92,458.54 139.04,457.52 138.97,456.43 138.73,455.28 138.31,454.10 137.72,452.89 136.97,451.69 136.08,450.51 135.06,449.38" fill="#7d7dd5" stroke="#7d7dd5" stroke-width="0.4"/>
<polygon points="160.13,447.07 159.02,446.21 157.82,445.46 156.54,444.84 155.20,444.36 153.83,444.03 152.45,443.86 151.09,443.84 149.76,443.98 148.50,444.27 147.31,444.72 146.23,445.31 145.27,446.03 144.45,446.87 143.78,447.81 143.27,448.85 142.93,449.96 142.77,451.12 142.79,452.31 142.99,453.52 143.37,454.71 143.92,455.88 144.62,457.01 145.48,458.06 146.47,459.03 147.58,459.89 148.78,460.64 150.06,461.26 151.40,461.74 152.77,462.07 154.15,462.24 155.51,462.26 156.84,462.12 158.10,461.83 159.29,461.38 160.37,460.79 161.33,460.07 162.15,459.23 162.82,458.29 163.33,457.25 163.67,456.14 163.83,454.98 163.81,453.79 163.61,452.58 163.23,451.39 162.68,450.22 161.98,449.09 161.12,448.04" fill="#d2d2f1" stroke="#d2d2f1" stroke-width="0.4"/>
<polygon points="184.89,447.11 183.78,446.24 182.57,445.49 181.29,444.86 179.95,444.38 178.58,444.04 177.20,443.86 175.84,443.84 174.51,443.97 173.25,444.26 172.07,444.70 170.99,445.28 170.04,446.00 169.22,446.83 168.56,447.77 168.05,448.81 167.72,449.91 167.57,451.07 167.60,452.26 167.81,453.47 168.19,454.67 168.74,455.84 169.45,456.96 170.32,458.02 171.31,458.99 172.42,459.86 173.63,460.61 174.91,461.24 176.25,461.72 177.62,462.06 179.00,462.24 180.36,462.26 181.69,462.13 182.95,461.84 184.13,461.40 185.21,460.82 186.16,460.10 186.98,459.27 187.64,458.33 188.15,457.29 188.48,456.19 188.63,455.03 188.60,453.84 188.39,452.63 188.01,451.43 187.46,450.26 186.75,449.14 185.88,448.08" fill="#cfcff0" stroke="#cfcff0" stroke-width="0.4"/>
<polygon points="210.52,446.39 209.50,445.61 208.37,444.96 207.15,444.45 205.85,444.09 204.51,443.88 203.13,443.83 201.75,443.94 200.40,444.20 199.08,444.61 197.83,445.17 196.67,445.86 195.61,446.67 194.68,447.60 193.89,448.62 193.25,449.71 192.78,450.86 192.48,452.05 192.36,453.25 192.42,454.45 192.66,455.63 193.08,456.77 193.66,457.84 194.40,458.82 195.28,459.71 196.30,460.49 197.43,461.14 198.65,461.65 199.95,462.01 201.29,462.22 202.67,462.27 204.05,462.16 205.40,461.90 206.72,461.49 207.97,460.93 209.13,460.24 210.19,459.43 211.12,458.50 211.91,457.48 212.55,456.39 213.02,455.24 213.32,454.05 213.44,452.85 213.38,451.65 213.14,450.47 212.72,449.33 212.14,448.26 211.40,447.28" fill="#fdf3f3" stroke="#fdf3f3" stroke-width="0.4"/>
<line x1="217.16" y1="462.27" x2="238.24" y2="443.83" stroke="#f04444" stroke-width="0.7"/>
<polygon points="38.43,466.76 37.66,466.23 36.75,465.84 35.72,465.61 34.57,465.53 33.33,465.61 32.03,465.84 30.68,466.23 29.30,466.76 27.92,467.43 26.57,468.23 25.27,469.14 24.03,470.14 22.88,471.22 21.85,472.36 20.94,473.55 20.17,474.75 19.56,475.95 19.12,477.14 18.85,478.28 18.76,479.36 18.85,480.36 19.12,481.27 19.56,482.07 20.17,482.74 20.94,483.27 21.85,483.66 22.88,483.89 24.03,483.97 25.27,483.89 26.57,483.66 27.92,483.27 29.30,482.74 30.68,482.07 32.03,481.27 33.33,480.36 34.57,479.36 35.72,478.28 36.75,477.14 37.66,475.95 38.43,474.75 39.04,473.55 39.48,472.36 39.75,471.22 39.84,470.14 39.75,469.14 39.48,468.23 39.04,467.43" fill="#f67a7e" stroke="#f67a7e" stroke-width="0.4"/>
<polygon points="60.77,468.92 59.64,468.03 58.43,467.27 57.13,466.63 55.79,466.13 54.42,465.77 53.04,465.57 51.68,465.53 50.36,465.65 49.11,465.92 47.94,466.34 46.88,466.91 45.94,467.61 45.14,468.43 44.49,469.36 44.01,470.38 43.70,471.48 43.56,472.63 43.61,473.82 43.84,475.03 44.24,476.23 44.82,477.41 45.55,478.54 46.43,479.60 47.43,480.58 48.56,481.47 49.77,482.23 51.07,482.87 52.41,483.37 53.78,483.73 55.16,483.93 56.52,483.97 57.84,483.85 59.09,483.58 60.26,483.16 61.32,482.59 62.26,481.89 63.06,481.07 63.71,480.14 64.19,479.12 64.50,478.02 64.64,476.87 64.59,475.68 64.36,474.47 63.96,473.27 63.38,472.09 62.65,470.96 61.77,469.90" fill="#c7c7ed" stroke="#c7c7ed" stroke-width="0.4"/>
<polygon points="87.03,467.64 86.09,466.93 85.02,466.36 83.84,465.93 82.59,465.65 81.27,465.53 79.91,465.57 78.53,465.76 77.16,466.11 75.81,466.61 74.53,467.24 73.31,468.00 72.19,468.88 71.19,469.86 70.32,470.92 69.59,472.05 69.03,473.22 68.63,474.42 68.41,475.63 68.37,476.82 68.51,477.98 68.82,479.08 69.31,480.10 69.96,481.04 70.77,481.86 71.71,482.57 72.78,483.14 73.96,483.57 75.21,483.85 76.53,483.97 77.89,483.93 79.27,483.74 80.64,483.39 81.99,482.89 83.27,482.26 84.49,481.50 85.61,480.62 86.61,479.64 87.48,478.58 88.21,477.45 88.77,476.28 89.17,475.08 89.39,473.87 89.43,472.68 89.29,471.52 88.98,470.42 88.49,469.40 87.84,468.46" fill="#f9cbcd" stroke="#f9cbcd" stroke-width="0.4"/>
<polygon points="111.83,467.64 110.89,466.93 109.82,466.36 108.64,465.93 107.39,465.65 106.07,465.53 104.71,465.57 103.33,465.76 101.96,466.11 100.61,466.61 99.33,467.24 98.11,468.00 96.99,468.88 95.99,469.86 95.12,470.92 94.39,472.05 93.83,473.22 93.43,474.42 93.21,475.63 93.17,476.82 93.31,477.98 93.62,479.08 94.11,480.10 94.76,481.04 95.57,481.86 96.51,482.57 97.58,483.14 98.76,483.57 100.01,483.85 101.33,483.97 102.69,483.93 104.07,483.74 105.44,483.39 106.79,482.89 108.07,482.26 109.29,481.50 110.41,480.62 111.41,479.64 112.28,478.58 113.01,477.45 113.57,476.28 113.97,475.08 114.19,473.87 114.23,472.68 114.09,471.52 113.78,470.42 113.29,469.40 112.64,468.46" fill="#f9cbcd" stroke="#f9cbcd" stroke-width="0.4"/>
<polygon points="133.98,469.96 132.75,468.97 131.46,468.08 130.11,467.31 128.74,466.66 127.36,466.15 126.00,465.79 124.69,465.58 123.44,465.53 122.28,465.64 121.22,465.90 120.29,466.31 119.49,466.87 118.86,467.56 118.38,468.38 118.08,469.30 117.96,470.32 118.02,471.42 118.26,472.57 118.67,473.76 119.25,474.96 119.99,476.16 120.88,477.34 121.89,478.47 123.02,479.54 124.25,480.53 125.54,481.42 126.89,482.19 128.26,482.84 129.64,483.35 131.00,483.71 132.31,483.92 133.56,483.97 134.72,483.86 135.78,483.60 136.71,483.19 137.51,482.63 138.14,481.94 138.62,481.12 138.92,480.20 139.04,479.18 138.98,478.08 138.74,476.93 138.33,475.74 137.75,474.54 137.01,473.34 136.12,472.16 135.11,471.03" fill="#8080d6" stroke="#8080d6" stroke-width="0.4"/>
<polygon points="158.52,470.19 157.28,469.18 155.97,468.27 154.62,467.47 153.24,466.79 151.86,466.25 150.51,465.86 149.21,465.61 147.98,465.53 146.84,465.60 145.80,465.83 144.90,466.21 144.14,466.74 143.54,467.40 143.10,468.19 142.84,469.09 142.76,470.09 142.86,471.17 143.14,472.31 143.59,473.49 144.20,474.70 144.98,475.90 145.89,477.09 146.93,478.23 148.08,479.31 149.32,480.32 150.63,481.23 151.98,482.03 153.36,482.71 154.74,483.25 156.09,483.64 157.39,483.89 158.62,483.97 159.76,483.90 160.80,483.67 161.70,483.29 162.46,482.76 163.06,482.10 163.50,481.31 163.76,480.41 163.84,479.41 163.74,478.33 163.46,477.19 163.01,476.01 162.40,474.80 161.62,473.60 160.71,472.41 159.67,471.27" fill="#7373d1" stroke="#7373d1" stroke-width="0.4"/>
<polygon points="183.87,469.70 182.67,468.73 181.39,467.87 180.06,467.13 178.69,466.52 177.31,466.05 175.95,465.72 174.62,465.55 173.35,465.54 172.16,465.69 171.08,465.99 170.11,466.44 169.28,467.03 168.60,467.76 168.09,468.60 167.74,469.55 167.58,470.59 167.59,471.70 167.78,472.87 168.15,474.06 168.69,475.27 169.39,476.46 170.24,477.63 171.23,478.75 172.33,479.80 173.53,480.77 174.81,481.63 176.14,482.37 177.51,482.98 178.89,483.45 180.25,483.78 181.58,483.95 182.85,483.96 184.04,483.81 185.12,483.51 186.09,483.06 186.92,482.47 187.60,481.74 188.11,480.90 188.46,479.95 188.62,478.91 188.61,477.80 188.42,476.63 188.05,475.44 187.51,474.23 186.81,473.04 185.96,471.87 184.97,470.75" fill="#9090db" stroke="#9090db" stroke-width="0.4"/>
<polygon points="208.48,469.87 207.26,468.89 205.97,468.01 204.63,467.25 203.26,466.61 201.88,466.11 200.52,465.77 199.20,465.57 197.94,465.53 196.77,465.65 195.70,465.93 194.76,466.35 193.96,466.92 193.31,467.63 192.82,468.45 192.50,469.39 192.37,470.41 192.41,471.51 192.63,472.67 193.03,473.86 193.60,475.06 194.32,476.26 195.20,477.44 196.20,478.57 197.32,479.63 198.54,480.61 199.83,481.49 201.17,482.25 202.54,482.89 203.92,483.39 205.28,483.73 206.60,483.93 207.86,483.97 209.03,483.85 210.10,483.57 211.04,483.15 211.84,482.58 212.49,481.87 212.98,481.05 213.30,480.11 213.43,479.09 213.39,477.99 213.17,476.83 212.77,475.64 212.20,474.44 211.48,473.24 210.60,472.06 209.60,470.93" fill="#8585d7" stroke="#8585d7" stroke-width="0.4"/>
<polygon points="237.10,466.53 236.39,466.05 235.54,465.73 234.56,465.55 233.45,465.54 232.25,465.68 230.97,465.98 229.63,466.43 228.27,467.02 226.89,467.75 225.52,468.59 224.20,469.54 222.93,470.57 221.74,471.68 220.66,472.84 219.69,474.04 218.87,475.25 218.19,476.44 217.68,477.61 217.34,478.73 217.18,479.78 217.19,480.75 217.39,481.61 217.76,482.36 218.30,482.97 219.01,483.45 219.86,483.77 220.84,483.95 221.95,483.96 223.15,483.82 224.43,483.52 225.77,483.07 227.13,482.48 228.51,481.75 229.88,480.91 231.20,479.96 232.47,478.93 233.66,477.82 234.74,476.66 235.71,475.46 236.53,474.25 237.21,473.06 237.72,471.89 238.06,470.77 238.22,469.72 238.21,468.75 238.01,467.89 237.64,467.14" fill="#f66367" stroke="#f66367" stroke-width="0.4"/>
<line x1="241.96" y1="483.97" x2="263.04" y2="465.53" stroke="#f04444" stroke-width="0.7"/>
<polygon points="34.88,491.57 33.66,490.59 32.37,489.71 31.03,488.95 29.66,488.31 28.28,487.81 26.92,487.47 25.60,487.27 24.34,487.23 23.17,487.35 22.10,487.63 21.16,488.05 20.36,488.62 19.71,489.33 19.22,490.15 18.90,491.09 18.77,492.11 18.81,493.21 19.03,494.37 19.43,495.56 20.00,496.76 20.72,497.96 21.60,499.14 22.60,500.27 23.72,501.33 24.94,502.31 26.23,503.19 27.57,503.95 28.94,504.59 30.32,505.09 31.68,505.43 33.00,505.63 34.26,505.67 35.43,505.55 36.50,505.27 37.44,504.85 38.24,504.28 38.89,503.57 39.38,502.75 39.70,501.81 39.83,500.79 39.79,499.69 39.57,498.53 39.17,497.34 38.60,496.14 37.88,494.94 37.00,493.76 36.00,492.63" fill="#8585d7" stroke="#8585d7" stroke-width="0.4"/>
<polygon points="62.98,488.68 62.16,488.10 61.21,487.66 60.13,487.37 58.95,487.24 57.69,487.26 56.37,487.44 55.00,487.78 53.63,488.26 52.25,488.89 50.92,489.64 49.63,490.51 48.42,491.48 47.31,492.54 46.32,493.66 45.46,494.84 44.74,496.03 44.19,497.24 43.81,498.43 43.60,499.59 43.57,500.70 43.72,501.73 44.05,502.67 44.55,503.51 45.22,504.22 46.04,504.80 46.99,505.24 48.07,505.53 49.25,505.66 50.51,505.64 51.83,505.46 53.20,505.12 54.57,504.64 55.95,504.01 57.28,503.26 58.57,502.39 59.78,501.42 60.89,500.36 61.88,499.24 62.74,498.06 63.46,496.87 64.01,495.66 64.39,494.47 64.60,493.31 64.63,492.20 64.48,491.17 64.15,490.23 63.65,489.39" fill="#f68e92" stroke="#f68e92" stroke-width="0.4"/>
<polygon points="85.00,491.11 83.83,490.18 82.57,489.35 81.25,488.64 79.89,488.07 78.51,487.64 77.14,487.36 75.79,487.23 74.51,487.27 73.29,487.46 72.18,487.80 71.17,488.30 70.30,488.93 69.58,489.69 69.02,490.57 68.62,491.54 68.41,492.61 68.37,493.73 68.51,494.91 68.83,496.11 69.32,497.31 69.97,498.50 70.78,499.66 71.73,500.76 72.80,501.79 73.97,502.72 75.23,503.55 76.55,504.26 77.91,504.83 79.29,505.26 80.66,505.54 82.01,505.67 83.29,505.63 84.51,505.44 85.62,505.10 86.63,504.60 87.50,503.97 88.22,503.21 88.78,502.33 89.18,501.36 89.39,500.29 89.43,499.17 89.29,497.99 88.97,496.79 88.48,495.59 87.83,494.40 87.02,493.24 86.07,492.14" fill="#a3a3e1" stroke="#a3a3e1" stroke-width="0.4"/>
<polygon points="109.80,491.11 108.63,490.18 107.37,489.35 106.05,488.64 104.69,488.07 103.31,487.64 101.94,487.36 100.59,487.23 99.31,487.27 98.09,487.46 96.98,487.80 95.97,488.30 95.10,488.93 94.38,489.69 93.82,490.57 93.42,491.54 93.21,492.61 93.17,493.73 93.31,494.91 93.63,496.11 94.12,497.31 94.77,498.50 95.58,499.66 96.53,500.76 97.60,501.79 98.77,502.72 100.03,503.55 101.35,504.26 102.71,504.83 104.09,505.26 105.46,505.54 106.81,505.67 108.09,505.63 109.31,505.44 110.42,505.10 111.43,504.60 112.30,503.97 113.02,503.21 113.58,502.33 113.98,501.36 114.19,500.29 114.23,499.17 114.09,497.99 113.77,496.79 113.28,495.59 112.63,494.40 111.82,493.24 110.87,492.14" fill="#a3a3e1" stroke="#a3a3e1" stroke-width="0.4"/>
<polygon points="137.51,488.57 136.71,488.01 135.78,487.60 134.72,487.34 133.56,487.23 132.31,487.28 131.00,487.49 129.64,487.85 128.26,488.36 126.89,489.01 125.54,489.78 124.25,490.67 123.02,491.66 121.89,492.73 120.88,493.86 119.99,495.04 119.25,496.24 118.67,497.44 118.26,498.63 118.02,499.78 117.96,500.88 118.08,501.90 118.38,502.82 118.86,503.64 119.49,504.33 120.29,504.89 121.22,505.30 122.28,505.56 123.44,505.67 124.69,505.62 126.00,505.41 127.36,505.05 128.74,504.54 130.11,503.89 131.46,503.12 132.75,502.23 133.98,501.24 135.11,500.17 136.12,499.04 137.01,497.86 137.75,496.66 138.33,495.46 138.74,494.27 138.98,493.12 139.04,492.02 138.92,491.00 138.62,490.08 138.14,489.26" fill="#f68488" stroke="#f68488" stroke-width="0.4"/>
<line x1="142.76" y1="505.67" x2="163.84" y2="487.23" stroke="#f04444" stroke-width="0.7"/>
<polygon points="188.59,487.27 188.36,487.23 187.96,487.35 187.39,487.62 186.66,488.04 185.78,488.61 184.77,489.31 183.65,490.13 182.43,491.06 181.14,492.09 179.80,493.18 178.42,494.34 177.05,495.53 175.69,496.73 174.37,497.93 173.11,499.11 171.94,500.24 170.88,501.30 169.94,502.29 169.14,503.17 168.49,503.94 168.01,504.57 167.70,505.07 167.56,505.43 167.61,505.63 167.84,505.67 168.24,505.55 168.81,505.28 169.54,504.86 170.42,504.29 171.43,503.59 172.55,502.77 173.77,501.84 175.06,500.81 176.40,499.72 177.78,498.56 179.15,497.37 180.51,496.17 181.83,494.97 183.09,493.79 184.26,492.66 185.32,491.60 186.26,490.61 187.06,489.73 187.71,488.96 188.19,488.33 188.50,487.83 188.64,487.47" fill="#fe0505" stroke="#fe0505" stroke-width="0.4"/>
<polygon points="213.23,487.41 212.86,487.25 212.33,487.24 211.63,487.40 210.79,487.70 209.81,488.16 208.71,488.76 207.51,489.49 206.24,490.33 204.90,491.29 203.54,492.33 202.16,493.44 200.79,494.61 199.46,495.80 198.19,497.01 197.00,498.20 195.91,499.37 194.94,500.49 194.11,501.54 193.42,502.50 192.90,503.35 192.55,504.09 192.38,504.70 192.39,505.17 192.57,505.49 192.94,505.65 193.47,505.66 194.17,505.50 195.01,505.20 195.99,504.74 197.09,504.14 198.29,503.41 199.56,502.57 200.90,501.61 202.26,500.57 203.64,499.46 205.01,498.29 206.34,497.10 207.61,495.89 208.80,494.70 209.89,493.53 210.86,492.41 211.69,491.36 212.38,490.40 212.90,489.55 213.25,488.81 213.42,488.20 213.41,487.73" fill="#fc1314" stroke="#fc1314" stroke-width="0.4"/>
<polygon points="234.49,490.51 233.38,489.64 232.17,488.89 230.89,488.26 229.55,487.78 228.18,487.44 226.80,487.26 225.44,487.24 224.11,487.37 222.85,487.66 221.67,488.10 220.59,488.68 219.64,489.40 218.82,490.23 218.16,491.17 217.65,492.21 217.32,493.31 217.17,494.47 217.20,495.66 217.41,496.87 217.79,498.07 218.34,499.24 219.05,500.36 219.92,501.42 220.91,502.39 222.02,503.26 223.23,504.01 224.51,504.64 225.85,505.12 227.22,505.46 228.60,505.64 229.96,505.66 231.29,505.53 232.55,505.24 233.73,504.80 234.81,504.22 235.76,503.50 236.58,502.67 237.24,501.73 237.75,500.69 238.08,499.59 238.23,498.43 238.20,497.24 237.99,496.03 237.61,494.83 237.06,493.66 236.35,492.54 235.48,491.48" fill="#cfcff0" stroke="#cfcff0" stroke-width="0.4"/>
<polygon points="257.77,491.84 256.53,490.84 255.23,489.93 253.88,489.13 252.50,488.46 251.12,487.93 249.77,487.54 248.47,487.31 247.23,487.23 246.08,487.31 245.05,487.54 244.14,487.93 243.37,488.46 242.76,489.13 242.32,489.93 242.05,490.84 241.96,491.84 242.05,492.92 242.32,494.06 242.76,495.25 243.37,496.45 244.14,497.65 245.05,498.84 246.08,499.98 247.23,501.06 248.47,502.06 249.77,502.97 251.12,503.77 252.50,504.44 253.88,504.97 255.23,505.36 256.53,505.59 257.77,505.67 258.92,505.59 259.95,505.36 260.86,504.97 261.63,504.44 262.24,503.77 262.68,502.97 262.95,502.06 263.04,501.06 262.95,499.98 262.68,498.84 262.24,497.65 261.63,496.45 260.86,495.25 259.95,494.06 258.92,492.92" fill="#7575d2" stroke="#7575d2" stroke-width="0.4"/>
<line x1="266.76" y1="505.67" x2="287.84" y2="487.23" stroke="#f04444" stroke-width="0.7"/>
<text transform="translate(29.30,283.00) scale(0.872,1)" font-size="9.4" text-anchor="middle" fill="#000" stroke="#000" stroke-width="0.22">1.0</text>
<text transform="translate(29.30,304.70) scale(0.872,1)" font-size="9.4" text-anchor="middle" fill="#000" stroke="#000" stroke-width="0.22">-0.50</text>
<text transform="translate(54.10,304.70) scale(0.872,1)" font-size="9.4" text-anchor="middle" fill="#000" stroke="#000" stroke-width="0.22">1.0</text>
<text transform="translate(29.30,326.40) scale(0.872,1)" font-size="9.4" text-anchor="middle" fill="#000" stroke="#000" stroke-width="0.22">0.70</text>
<text transform="translate(54.10,326.40) scale(0.872,1)" font-size="9.4" text-anchor="middle" fill="#000" stroke="#000" stroke-width="0.22">-0.27</text>
<text transform="translate(78.90,326.40) scale(0.872,1)" font-size="9.4" text-anchor="middle" fill="#000" stroke="#000" stroke-width="0.22">1.0</text>
<text transform="translate(29.30,348.10) scale(0.872,1)" font-size="9.4" text-anchor="middle" fill="#000" stroke="#000" stroke-width="0.22">0.70</text>
<text transform="translate(54.10,348.10) scale(0.872,1)" font-size="9.4" text-anchor="middle" fill="#000" stroke="#000" stroke-width="0.22">-0.27</text>
<text transform="translate(78.90,348.10) scale(0.872,1)" font-size="9.4" text-anchor="middle" fill="#000" stroke="#000" stroke-width="0.22">1.0</text>
<text transform="translate(103.70,348.10) scale(0.872,1)" font-size="9.4" text-anchor="middle" fill="#000" stroke="#000" stroke-width="0.22">1.0</text>
<text transform="translate(29.30,369.80) scale(0.872,1)" font-size="9.4" text-anchor="middle" fill="#000" stroke="#000" stroke-width="0.22">-0.21</text>
<text transform="translate(54.10,369.80) scale(0.872,1)" font-size="9.4" text-anchor="middle" fill="#000" stroke="#000" stroke-width="0.22">0.094</text>
<text transform="translate(78.90,369.80) scale(0.872,1)" font-size="9.4" text-anchor="middle" fill="#000" stroke="#000" stroke-width="0.22">0.11</text>
<text transform="translate(103.70,369.80) scale(0.872,1)" font-size="9.4" text-anchor="middle" fill="#000" stroke="#000" stroke-width="0.22">0.11</text>
<text transform="translate(128.50,369.80) scale(0.872,1)" font-size="9.4" text-anchor="middle" fill="#000" stroke="#000" stroke-width="0.22">1.0</text>
<text transform="translate(29.30,391.50) scale(0.872,1)" font-size="9.4" text-anchor="middle" fill="#000" stroke="#000" stroke-width="0.22">-0.45</text>
<text transform="translate(54.10,391.50) scale(0.872,1)" font-size="9.4" text-anchor="middle" fill="#000" stroke="#000" stroke-width="0.22">0.42</text>
<text transform="translate(78.90,391.50) scale(0.872,1)" font-size="9.4" text-anchor="middle" fill="#000" stroke="#000" stroke-width="0.22">-0.34</text>
<text transform="translate(103.70,391.50) scale(0.872,1)" font-size="9.4" text-anchor="middle" fill="#000" stroke="#000" stroke-width="0.22">-0.34</text>
<text transform="translate(128.50,391.50) scale(0.872,1)" font-size="9.4" text-anchor="middle" fill="#000" stroke="#000" stroke-width="0.22">0.45</text>
<text transform="translate(153.30,391.50) scale(0.872,1)" font-size="9.4" text-anchor="middle" fill="#000" stroke="#000" stroke-width="0.22">1.0</text>
<text transform="translate(29.30,413.20) scale(0.872,1)" font-size="9.4" text-anchor="middle" fill="#000" stroke="#000" stroke-width="0.22">-0.41</text>
<text transform="translate(54.10,413.20) scale(0.872,1)" font-size="9.4" text-anchor="middle" fill="#000" stroke="#000" stroke-width="0.22">0.45</text>
<text transform="translate(78.90,413.20) scale(0.872,1)" font-size="9.4" text-anchor="middle" fill="#000" stroke="#000" stroke-width="0.22">-0.28</text>
<text transform="translate(103.70,413.20) scale(0.872,1)" font-size="9.4" text-anchor="middle" fill="#000" stroke="#000" stroke-width="0.22">-0.28</text>
<text transform="translate(128.50,413.20) scale(0.872,1)" font-size="9.4" text-anchor="middle" fill="#000" stroke="#000" stroke-width="0.22">0.53</text>
<text transform="translate(153.30,413.20) scale(0.872,1)" font-size="9.4" text-anchor="middle" fill="#000" stroke="#000" stroke-width="0.22">0.97</text>
<text transform="translate(178.10,413.20) scale(0.872,1)" font-size="9.4" text-anchor="middle" fill="#000" stroke="#000" stroke-width="0.22">1.0</text>
<text transform="translate(29.30,434.90) scale(0.872,1)" font-size="9.4" text-anchor="middle" fill="#000" stroke="#000" stroke-width="0.22">-0.44</text>
<text transform="translate(54.10,434.90) scale(0.872,1)" font-size="9.4" text-anchor="middle" fill="#000" stroke="#000" stroke-width="0.22">0.53</text>
<text transform="translate(78.90,434.90) scale(0.872,1)" font-size="9.4" text-anchor="middle" fill="#000" stroke="#000" stroke-width="0.22">-0.34</text>
<text transform="translate(103.70,434.90) scale(0.872,1)" font-size="9.4" text-anchor="middle" fill="#000" stroke="#000" stroke-width="0.22">-0.34</text>
<text transform="translate(128.50,434.90) scale(0.872,1)" font-size="9.4" text-anchor="middle" fill="#000" stroke="#000" stroke-width="0.22">0.38</text>
<text transform="translate(153.30,434.90) scale(0.872,1)" font-size="9.4" text-anchor="middle" fill="#000" stroke="#000" stroke-width="0.22">0.92</text>
<text transform="translate(178.10,434.90) scale(0.872,1)" font-size="9.4" text-anchor="middle" fill="#000" stroke="#000" stroke-width="0.22">0.91</text>
<text transform="translate(202.90,434.90) scale(0.872,1)" font-size="9.4" text-anchor="middle" fill="#000" stroke="#000" stroke-width="0.22">1.0</text>
<text transform="translate(29.30,456.60) scale(0.872,1)" font-size="9.4" text-anchor="middle" fill="#000" stroke="#000" stroke-width="0.22">0.28</text>
<text transform="translate(54.10,456.60) scale(0.872,1)" font-size="9.4" text-anchor="middle" fill="#000" stroke="#000" stroke-width="0.22">-0.0057</text>
<text transform="translate(78.90,456.60) scale(0.872,1)" font-size="9.4" text-anchor="middle" fill="#000" stroke="#000" stroke-width="0.22">-0.028</text>
<text transform="translate(103.70,456.60) scale(0.872,1)" font-size="9.4" text-anchor="middle" fill="#000" stroke="#000" stroke-width="0.22">-0.028</text>
<text transform="translate(128.50,456.60) scale(0.872,1)" font-size="9.4" text-anchor="middle" fill="#000" stroke="#000" stroke-width="0.22">-0.47</text>
<text transform="translate(153.30,456.60) scale(0.872,1)" font-size="9.4" text-anchor="middle" fill="#000" stroke="#000" stroke-width="0.22">-0.16</text>
<text transform="translate(178.10,456.60) scale(0.872,1)" font-size="9.4" text-anchor="middle" fill="#000" stroke="#000" stroke-width="0.22">-0.17</text>
<text transform="translate(202.90,456.60) scale(0.872,1)" font-size="9.4" text-anchor="middle" fill="#000" stroke="#000" stroke-width="0.22">0.044</text>
<text transform="translate(227.70,456.60) scale(0.872,1)" font-size="9.4" text-anchor="middle" fill="#000" stroke="#000" stroke-width="0.22">1.0</text>
<text transform="translate(29.30,478.30) scale(0.872,1)" font-size="9.4" text-anchor="middle" fill="#000" stroke="#000" stroke-width="0.22">0.50</text>
<text transform="translate(54.10,478.30) scale(0.872,1)" font-size="9.4" text-anchor="middle" fill="#000" stroke="#000" stroke-width="0.22">-0.20</text>
<text transform="translate(78.90,478.30) scale(0.872,1)" font-size="9.4" text-anchor="middle" fill="#000" stroke="#000" stroke-width="0.22">0.19</text>
<text transform="translate(103.70,478.30) scale(0.872,1)" font-size="9.4" text-anchor="middle" fill="#000" stroke="#000" stroke-width="0.22">0.19</text>
<text transform="translate(128.50,478.30) scale(0.872,1)" font-size="9.4" text-anchor="middle" fill="#000" stroke="#000" stroke-width="0.22">-0.46</text>
<text transform="translate(153.30,478.30) scale(0.872,1)" font-size="9.4" text-anchor="middle" fill="#000" stroke="#000" stroke-width="0.22">-0.51</text>
<text transform="translate(178.10,478.30) scale(0.872,1)" font-size="9.4" text-anchor="middle" fill="#000" stroke="#000" stroke-width="0.22">-0.40</text>
<text transform="translate(202.90,478.30) scale(0.872,1)" font-size="9.4" text-anchor="middle" fill="#000" stroke="#000" stroke-width="0.22">-0.44</text>
<text transform="translate(227.70,478.30) scale(0.872,1)" font-size="9.4" text-anchor="middle" fill="#000" stroke="#000" stroke-width="0.22">0.59</text>
<text transform="translate(252.50,478.30) scale(0.872,1)" font-size="9.4" text-anchor="middle" fill="#000" stroke="#000" stroke-width="0.22">1.0</text>
<text transform="translate(29.30,500.00) scale(0.872,1)" font-size="9.4" text-anchor="middle" fill="#000" stroke="#000" stroke-width="0.22">-0.44</text>
<text transform="translate(54.10,500.00) scale(0.872,1)" font-size="9.4" text-anchor="middle" fill="#000" stroke="#000" stroke-width="0.22">0.42</text>
<text transform="translate(78.90,500.00) scale(0.872,1)" font-size="9.4" text-anchor="middle" fill="#000" stroke="#000" stroke-width="0.22">-0.33</text>
<text transform="translate(103.70,500.00) scale(0.872,1)" font-size="9.4" text-anchor="middle" fill="#000" stroke="#000" stroke-width="0.22">-0.33</text>
<text transform="translate(128.50,500.00) scale(0.872,1)" font-size="9.4" text-anchor="middle" fill="#000" stroke="#000" stroke-width="0.22">0.46</text>
<text transform="translate(153.30,500.00) scale(0.872,1)" font-size="9.4" text-anchor="middle" fill="#000" stroke="#000" stroke-width="0.22">1.00</text>
<text transform="translate(178.10,500.00) scale(0.872,1)" font-size="9.4" text-anchor="middle" fill="#000" stroke="#000" stroke-width="0.22">0.98</text>
<text transform="translate(202.90,500.00) scale(0.872,1)" font-size="9.4" text-anchor="middle" fill="#000" stroke="#000" stroke-width="0.22">0.92</text>
<text transform="translate(227.70,500.00) scale(0.872,1)" font-size="9.4" text-anchor="middle" fill="#000" stroke="#000" stroke-width="0.22">-0.17</text>
<text transform="translate(252.50,500.00) scale(0.872,1)" font-size="9.4" text-anchor="middle" fill="#000" stroke="#000" stroke-width="0.22">-0.50</text>
<text transform="translate(277.30,500.00) scale(0.872,1)" font-size="9.4" text-anchor="middle" fill="#000" stroke="#000" stroke-width="0.22">1.0</text>
<path d="M16.90 268.60V507.30" fill="none" stroke="#444" stroke-width="1.3"/>
<path d="M16.25 507.30H289.70" fill="none" stroke="#3a3a3a" stroke-width="1.3"/>
<text transform="translate(13.60,282.75) scale(0.89,1)" font-size="8.9" text-anchor="end" fill="#000" stroke="#000" stroke-width="0.15">pH</text>
<text transform="translate(13.60,304.45) scale(0.89,1)" font-size="8.9" text-anchor="end" fill="#000" stroke="#000" stroke-width="0.15">EC</text>
<text transform="translate(13.60,326.15) scale(0.89,1)" font-size="8.9" text-anchor="end" fill="#000" stroke="#000" stroke-width="0.15">OM</text>
<text transform="translate(13.60,347.85) scale(0.89,1)" font-size="8.9" text-anchor="end" fill="#000" stroke="#000" stroke-width="0.15">NC</text>
<text transform="translate(13.60,369.55) scale(0.89,1)" font-size="8.9" text-anchor="end" fill="#000" stroke="#000" stroke-width="0.15">Hg</text>
<text transform="translate(13.60,391.25) scale(0.89,1)" font-size="8.9" text-anchor="end" fill="#000" stroke="#000" stroke-width="0.15">Cr</text>
<text transform="translate(13.60,412.95) scale(0.89,1)" font-size="8.9" text-anchor="end" fill="#000" stroke="#000" stroke-width="0.15">Ni</text>
<text transform="translate(13.60,434.65) scale(0.89,1)" font-size="8.9" text-anchor="end" fill="#000" stroke="#000" stroke-width="0.15">Pb</text>
<text transform="translate(13.60,456.35) scale(0.89,1)" font-size="8.9" text-anchor="end" fill="#000" stroke="#000" stroke-width="0.15">Zn</text>
<text transform="translate(13.60,478.05) scale(0.89,1)" font-size="8.9" text-anchor="end" fill="#000" stroke="#000" stroke-width="0.15">Cu</text>
<text transform="translate(13.60,499.75) scale(0.89,1)" font-size="8.9" text-anchor="end" fill="#000" stroke="#000" stroke-width="0.15">Cd</text>
<text transform="translate(29.30,264.80) scale(0.845,1)" font-size="9.4" text-anchor="middle" fill="#000" stroke="#000" stroke-width="0.15">pH</text>
<text transform="translate(54.10,286.50) scale(0.845,1)" font-size="9.4" text-anchor="middle" fill="#000" stroke="#000" stroke-width="0.15">EC</text>
<text transform="translate(78.90,308.20) scale(0.845,1)" font-size="9.4" text-anchor="middle" fill="#000" stroke="#000" stroke-width="0.15">OM</text>
<text transform="translate(103.70,329.90) scale(0.845,1)" font-size="9.4" text-anchor="middle" fill="#000" stroke="#000" stroke-width="0.15">NC</text>
<text transform="translate(128.50,351.60) scale(0.845,1)" font-size="9.4" text-anchor="middle" fill="#000" stroke="#000" stroke-width="0.15">Hg</text>
<text transform="translate(153.30,373.30) scale(0.845,1)" font-size="9.4" text-anchor="middle" fill="#000" stroke="#000" stroke-width="0.15">Cr</text>
<text transform="translate(178.10,395.00) scale(0.845,1)" font-size="9.4" text-anchor="middle" fill="#000" stroke="#000" stroke-width="0.15">Ni</text>
<text transform="translate(202.90,416.70) scale(0.845,1)" font-size="9.4" text-anchor="middle" fill="#000" stroke="#000" stroke-width="0.15">Pb</text>
<text transform="translate(227.70,438.40) scale(0.845,1)" font-size="9.4" text-anchor="middle" fill="#000" stroke="#000" stroke-width="0.15">Zn</text>
<text transform="translate(252.50,460.10) scale(0.845,1)" font-size="9.4" text-anchor="middle" fill="#000" stroke="#000" stroke-width="0.15">Cu</text>
<text transform="translate(277.30,481.80) scale(0.845,1)" font-size="9.4" text-anchor="middle" fill="#000" stroke="#000" stroke-width="0.15">Cd</text>
<rect x="292.7" y="268.3" width="15.90" height="238.70" fill="url(#cbg)" stroke="#555" stroke-width="0.8"/>
<text transform="translate(315.20,271.35) scale(0.95,1)" font-size="6.5" text-anchor="start" fill="#111">1.0</text>
<text transform="translate(315.20,295.22) scale(0.95,1)" font-size="6.5" text-anchor="start" fill="#111">0.80</text>
<text transform="translate(315.20,319.09) scale(0.95,1)" font-size="6.5" text-anchor="start" fill="#111">0.60</text>
<text transform="translate(315.20,342.96) scale(0.95,1)" font-size="6.5" text-anchor="start" fill="#111">0.40</text>
<text transform="translate(315.20,366.83) scale(0.95,1)" font-size="6.5" text-anchor="start" fill="#111">0.20</text>
<text transform="translate(315.20,390.70) scale(0.95,1)" font-size="6.5" text-anchor="start" fill="#111">0.0</text>
<text transform="translate(315.20,414.57) scale(0.95,1)" font-size="6.5" text-anchor="start" fill="#111">-0.20</text>
<text transform="translate(315.20,438.44) scale(0.95,1)" font-size="6.5" text-anchor="start" fill="#111">-0.40</text>
<text transform="translate(315.20,462.31) scale(0.95,1)" font-size="6.5" text-anchor="start" fill="#111">-0.60</text>
<text transform="translate(315.20,486.18) scale(0.95,1)" font-size="6.5" text-anchor="start" fill="#111">-0.80</text>
<text transform="translate(315.20,510.05) scale(0.95,1)" font-size="6.5" text-anchor="start" fill="#111">-1.0</text>
<path d="M308.60 268.65h4 M308.60 292.52h4 M308.60 316.39h4 M308.60 340.26h4 M308.60 364.13h4 M308.60 388.00h4 M308.60 411.87h4 M308.60 435.74h4 M308.60 459.61h4 M308.60 483.48h4 M308.60 507.35h4" stroke="#444" stroke-width="1"/>
<text transform="translate(290.60,281.00) scale(0.865,1)" font-size="13.3" text-anchor="end" fill="#f00">c) Sugar beet</text>
<path d="M366.20 267.70h25.22v21.76h-25.22z M366.20 289.46h25.22v21.76h-25.22z M391.42 289.46h25.22v21.76h-25.22z M366.20 311.23h25.22v21.76h-25.22z M391.42 311.23h25.22v21.76h-25.22z M416.64 311.23h25.22v21.76h-25.22z M366.20 332.99h25.22v21.76h-25.22z M391.42 332.99h25.22v21.76h-25.22z M416.64 332.99h25.22v21.76h-25.22z M441.85 332.99h25.22v21.76h-25.22z M366.20 354.75h25.22v21.76h-25.22z M391.42 354.75h25.22v21.76h-25.22z M416.64 354.75h25.22v21.76h-25.22z M441.85 354.75h25.22v21.76h-25.22z M467.07 354.75h25.22v21.76h-25.22z M366.20 376.52h25.22v21.76h-25.22z M391.42 376.52h25.22v21.76h-25.22z M416.64 376.52h25.22v21.76h-25.22z M441.85 376.52h25.22v21.76h-25.22z M467.07 376.52h25.22v21.76h-25.22z M492.29 376.52h25.22v21.76h-25.22z M366.20 398.28h25.22v21.76h-25.22z M391.42 398.28h25.22v21.76h-25.22z M416.64 398.28h25.22v21.76h-25.22z M441.85 398.28h25.22v21.76h-25.22z M467.07 398.28h25.22v21.76h-25.22z M492.29 398.28h25.22v21.76h-25.22z M517.51 398.28h25.22v21.76h-25.22z M366.20 420.05h25.22v21.76h-25.22z M391.42 420.05h25.22v21.76h-25.22z M416.64 420.05h25.22v21.76h-25.22z M441.85 420.05h25.22v21.76h-25.22z M467.07 420.05h25.22v21.76h-25.22z M492.29 420.05h25.22v21.76h-25.22z M517.51 420.05h25.22v21.76h-25.22z M542.73 420.05h25.22v21.76h-25.22z M366.20 441.81h25.22v21.76h-25.22z M391.42 441.81h25.22v21.76h-25.22z M416.64 441.81h25.22v21.76h-25.22z M441.85 441.81h25.22v21.76h-25.22z M467.07 441.81h25.22v21.76h-25.22z M492.29 441.81h25.22v21.76h-25.22z M517.51 441.81h25.22v21.76h-25.22z M542.73 441.81h25.22v21.76h-25.22z M567.95 441.81h25.22v21.76h-25.22z M366.20 463.57h25.22v21.76h-25.22z M391.42 463.57h25.22v21.76h-25.22z M416.64 463.57h25.22v21.76h-25.22z M441.85 463.57h25.22v21.76h-25.22z M467.07 463.57h25.22v21.76h-25.22z M492.29 463.57h25.22v21.76h-25.22z M517.51 463.57h25.22v21.76h-25.22z M542.73 463.57h25.22v21.76h-25.22z M567.95 463.57h25.22v21.76h-25.22z M593.16 463.57h25.22v21.76h-25.22z M366.20 485.34h25.22v21.76h-25.22z M391.42 485.34h25.22v21.76h-25.22z M416.64 485.34h25.22v21.76h-25.22z M441.85 485.34h25.22v21.76h-25.22z M467.07 485.34h25.22v21.76h-25.22z M492.29 485.34h25.22v21.76h-25.22z M517.51 485.34h25.22v21.76h-25.22z M542.73 485.34h25.22v21.76h-25.22z M567.95 485.34h25.22v21.76h-25.22z M593.16 485.34h25.22v21.76h-25.22z M618.38 485.34h25.22v21.76h-25.22z" fill="none" stroke="#e6e6e6" stroke-width="0.7"/>
<line x1="368.09" y1="287.83" x2="389.53" y2="269.33" stroke="#f04444" stroke-width="0.7"/>
<polygon points="385.75,294.35 384.63,293.48 383.41,292.73 382.10,292.11 380.74,291.63 379.35,291.30 377.95,291.13 376.56,291.11 375.21,291.25 373.93,291.54 372.72,291.99 371.62,292.58 370.65,293.30 369.81,294.14 369.13,295.09 368.61,296.13 368.27,297.24 368.11,298.41 368.13,299.60 368.33,300.81 368.71,302.01 369.27,303.19 369.99,304.31 370.86,305.37 371.86,306.34 372.99,307.21 374.21,307.96 375.52,308.58 376.87,309.06 378.27,309.39 379.67,309.57 381.06,309.58 382.40,309.44 383.69,309.15 384.90,308.70 386.00,308.11 386.97,307.39 387.81,306.55 388.49,305.60 389.01,304.56 389.35,303.45 389.51,302.28 389.49,301.09 389.29,299.88 388.91,298.68 388.35,297.50 387.63,296.38 386.76,295.32" fill="#d2d2f1" stroke="#d2d2f1" stroke-width="0.4"/>
<line x1="393.31" y1="309.59" x2="414.75" y2="291.10" stroke="#f04444" stroke-width="0.7"/>
<polygon points="387.55,314.57 386.66,313.93 385.65,313.44 384.51,313.09 383.28,312.90 381.97,312.87 380.60,312.99 379.21,313.27 377.81,313.70 376.42,314.28 375.08,314.99 373.80,315.82 372.61,316.76 371.52,317.79 370.56,318.89 369.73,320.05 369.07,321.24 368.57,322.45 368.24,323.66 368.10,324.83 368.14,325.96 368.36,327.03 368.76,328.01 369.33,328.89 370.07,329.65 370.95,330.29 371.97,330.78 373.11,331.13 374.34,331.32 375.65,331.35 377.02,331.23 378.41,330.95 379.81,330.52 381.20,329.94 382.54,329.23 383.82,328.40 385.01,327.46 386.10,326.43 387.06,325.33 387.88,324.17 388.55,322.97 389.05,321.76 389.38,320.56 389.52,319.38 389.48,318.25 389.26,317.19 388.86,316.21 388.28,315.33" fill="#f7a6a9" stroke="#f7a6a9" stroke-width="0.4"/>
<polygon points="411.82,315.38 410.79,314.61 409.65,313.97 408.41,313.47 407.10,313.11 405.73,312.91 404.33,312.86 402.93,312.98 401.55,313.25 400.21,313.67 398.94,314.23 397.75,314.93 396.67,315.76 395.71,316.69 394.90,317.71 394.25,318.81 393.76,319.97 393.45,321.16 393.31,322.37 393.37,323.58 393.60,324.76 394.01,325.89 394.60,326.96 395.34,327.95 396.24,328.83 397.26,329.60 398.41,330.25 399.65,330.75 400.96,331.11 402.33,331.31 403.72,331.35 405.12,331.24 406.50,330.97 407.84,330.55 409.12,329.98 410.31,329.28 411.39,328.46 412.34,327.53 413.15,326.50 413.81,325.40 414.30,324.25 414.61,323.05 414.74,321.85 414.69,320.64 414.45,319.46 414.04,318.33 413.46,317.26 412.71,316.27" fill="#f3f0f5" stroke="#f3f0f5" stroke-width="0.4"/>
<line x1="418.53" y1="331.36" x2="439.96" y2="312.86" stroke="#f04444" stroke-width="0.7"/>
<polygon points="387.55,336.33 386.66,335.70 385.65,335.20 384.51,334.86 383.28,334.66 381.97,334.63 380.60,334.75 379.21,335.03 377.81,335.47 376.42,336.04 375.08,336.75 373.80,337.58 372.61,338.52 371.52,339.55 370.56,340.65 369.73,341.81 369.07,343.01 368.57,344.22 368.24,345.42 368.10,346.60 368.14,347.73 368.36,348.79 368.76,349.77 369.33,350.65 370.07,351.42 370.95,352.05 371.97,352.54 373.11,352.89 374.34,353.08 375.65,353.12 377.02,352.99 378.41,352.71 379.81,352.28 381.20,351.71 382.54,351.00 383.82,350.17 385.01,349.23 386.10,348.20 387.06,347.09 387.88,345.93 388.55,344.74 389.05,343.53 389.38,342.32 389.52,341.15 389.48,340.02 389.26,338.95 388.86,337.97 388.28,337.09" fill="#f7a6a9" stroke="#f7a6a9" stroke-width="0.4"/>
<polygon points="411.82,337.15 410.79,336.38 409.65,335.73 408.41,335.23 407.10,334.87 405.73,334.67 404.33,334.63 402.93,334.74 401.55,335.01 400.21,335.43 398.94,336.00 397.75,336.70 396.67,337.52 395.71,338.45 394.90,339.48 394.25,340.58 393.76,341.73 393.45,342.93 393.31,344.14 393.37,345.34 393.60,346.52 394.01,347.65 394.60,348.72 395.34,349.71 396.24,350.60 397.26,351.37 398.41,352.01 399.65,352.52 400.96,352.87 402.33,353.07 403.72,353.12 405.12,353.00 406.50,352.74 407.84,352.31 409.12,351.75 410.31,351.05 411.39,350.22 412.34,349.29 413.15,348.27 413.81,347.17 414.30,346.01 414.61,344.82 414.74,343.61 414.69,342.40 414.45,341.23 414.04,340.09 413.46,339.02 412.71,338.04" fill="#f3f0f5" stroke="#f3f0f5" stroke-width="0.4"/>
<line x1="418.53" y1="353.12" x2="439.96" y2="334.62" stroke="#f04444" stroke-width="0.7"/>
<line x1="443.75" y1="353.12" x2="465.18" y2="334.62" stroke="#f04444" stroke-width="0.7"/>
<polygon points="386.49,359.01 385.44,358.23 384.29,357.57 383.04,357.05 381.72,356.67 380.35,356.45 378.95,356.39 377.55,356.48 376.17,356.73 374.84,357.14 373.57,357.69 372.40,358.37 371.33,359.18 370.39,360.10 369.60,361.12 368.96,362.21 368.49,363.36 368.20,364.55 368.09,365.76 368.17,366.96 368.42,368.15 368.85,369.29 369.46,370.36 370.22,371.36 371.13,372.26 372.17,373.05 373.33,373.71 374.58,374.23 375.90,374.60 377.27,374.82 378.67,374.89 380.07,374.79 381.45,374.54 382.78,374.14 384.05,373.59 385.22,372.90 386.29,372.09 387.23,371.17 388.02,370.16 388.66,369.06 389.12,367.91 389.42,366.72 389.53,365.52 389.45,364.31 389.20,363.13 388.76,361.99 388.16,360.91 387.40,359.91" fill="#fef8f8" stroke="#fef8f8" stroke-width="0.4"/>
<polygon points="410.41,360.13 409.23,359.20 407.97,358.39 406.63,357.70 405.25,357.15 403.85,356.74 402.46,356.49 401.09,356.39 399.77,356.45 398.52,356.66 397.37,357.03 396.33,357.55 395.42,358.21 394.66,358.99 394.06,359.89 393.63,360.88 393.38,361.96 393.31,363.10 393.43,364.28 393.72,365.49 394.19,366.69 394.83,367.89 395.63,369.04 396.57,370.13 397.64,371.15 398.82,372.07 400.09,372.88 401.42,373.57 402.80,374.12 404.20,374.53 405.60,374.79 406.97,374.88 408.29,374.83 409.54,374.61 410.69,374.24 411.73,373.72 412.63,373.06 413.39,372.28 413.99,371.39 414.42,370.39 414.67,369.31 414.74,368.17 414.63,366.99 414.33,365.79 413.86,364.58 413.22,363.39 412.42,362.24 411.48,361.14" fill="#aeaee5" stroke="#aeaee5" stroke-width="0.4"/>
<polygon points="436.82,359.10 435.77,358.30 434.60,357.63 433.35,357.09 432.02,356.70 430.64,356.47 429.25,356.39 427.85,356.47 426.47,356.70 425.14,357.09 423.89,357.63 422.72,358.30 421.67,359.10 420.74,360.01 419.96,361.01 419.34,362.10 418.89,363.24 418.62,364.43 418.53,365.64 418.62,366.84 418.89,368.03 419.34,369.18 419.96,370.26 420.74,371.27 421.67,372.18 422.72,372.97 423.89,373.65 425.14,374.18 426.47,374.57 427.85,374.81 429.25,374.89 430.64,374.81 432.02,374.57 433.35,374.18 434.60,373.65 435.77,372.97 436.82,372.18 437.75,371.27 438.53,370.26 439.15,369.18 439.60,368.03 439.87,366.84 439.96,365.64 439.87,364.43 439.60,363.24 439.15,362.10 438.53,361.01 437.75,360.01" fill="#ffffff" stroke="#ffffff" stroke-width="0.4"/>
<polygon points="462.04,359.10 460.99,358.30 459.82,357.63 458.56,357.09 457.24,356.70 455.86,356.47 454.46,356.39 453.06,356.47 451.69,356.70 450.36,357.09 449.10,357.63 447.94,358.30 446.88,359.10 445.96,360.01 445.18,361.01 444.56,362.10 444.11,363.24 443.84,364.43 443.75,365.64 443.84,366.84 444.11,368.03 444.56,369.18 445.18,370.26 445.96,371.27 446.89,372.18 447.94,372.97 449.11,373.65 450.36,374.18 451.69,374.57 453.07,374.81 454.46,374.89 455.86,374.81 457.24,374.57 458.57,374.18 459.82,373.65 460.99,372.97 462.04,372.18 462.97,371.27 463.75,370.26 464.37,369.18 464.82,368.03 465.09,366.84 465.18,365.64 465.09,364.43 464.82,363.24 464.37,362.10 463.75,361.01 462.97,360.01" fill="#ffffff" stroke="#ffffff" stroke-width="0.4"/>
<line x1="468.96" y1="374.89" x2="490.40" y2="356.39" stroke="#f04444" stroke-width="0.7"/>
<polygon points="386.46,380.79 385.42,380.01 384.26,379.34 383.01,378.82 381.69,378.44 380.31,378.22 378.92,378.15 377.52,378.24 376.14,378.49 374.81,378.89 373.54,379.44 372.37,380.12 371.31,380.93 370.37,381.84 369.58,382.86 368.95,383.95 368.48,385.10 368.20,386.28 368.09,387.49 368.17,388.70 368.43,389.88 368.87,391.02 369.47,392.10 370.24,393.10 371.16,394.01 372.20,394.79 373.36,395.46 374.61,395.98 375.93,396.36 377.30,396.58 378.70,396.65 380.10,396.56 381.48,396.31 382.81,395.91 384.07,395.36 385.25,394.68 386.31,393.87 387.25,392.96 388.04,391.94 388.67,390.85 389.13,389.70 389.42,388.52 389.53,387.31 389.45,386.10 389.19,384.92 388.75,383.78 388.14,382.70 387.38,381.70" fill="#fef9fa" stroke="#fef9fa" stroke-width="0.4"/>
<polygon points="410.41,381.89 409.23,380.97 407.97,380.15 406.63,379.47 405.25,378.91 403.85,378.51 402.46,378.25 401.09,378.15 399.77,378.21 398.52,378.43 397.37,378.80 396.33,379.32 395.42,379.97 394.66,380.75 394.06,381.65 393.63,382.65 393.38,383.72 393.31,384.86 393.43,386.04 393.72,387.25 394.19,388.46 394.83,389.65 395.63,390.80 396.57,391.89 397.64,392.91 398.82,393.83 400.09,394.65 401.42,395.33 402.80,395.89 404.20,396.29 405.60,396.55 406.97,396.65 408.29,396.59 409.54,396.37 410.69,396.00 411.73,395.48 412.63,394.83 413.39,394.05 413.99,393.15 414.42,392.15 414.67,391.08 414.74,389.94 414.63,388.76 414.33,387.55 413.86,386.34 413.22,385.15 412.42,384.00 411.48,382.91" fill="#aeaee5" stroke="#aeaee5" stroke-width="0.4"/>
<polygon points="436.83,380.85 435.78,380.06 434.61,379.39 433.36,378.85 432.03,378.46 430.65,378.23 429.25,378.15 427.86,378.23 426.48,378.47 425.15,378.86 423.89,379.39 422.73,380.07 421.67,380.87 420.75,381.78 419.97,382.78 419.35,383.87 418.90,385.01 418.62,386.20 418.53,387.41 418.62,388.62 418.89,389.80 419.34,390.95 419.96,392.03 420.74,393.04 421.66,393.95 422.71,394.74 423.88,395.41 425.14,395.95 426.46,396.34 427.84,396.57 429.24,396.65 430.64,396.57 432.01,396.33 433.34,395.94 434.60,395.41 435.76,394.73 436.82,393.93 437.74,393.02 438.52,392.02 439.14,390.93 439.60,389.79 439.87,388.60 439.96,387.39 439.87,386.18 439.60,385.00 439.15,383.85 438.53,382.77 437.75,381.76" fill="#ffffff" stroke="#ffffff" stroke-width="0.4"/>
<polygon points="462.05,380.85 461.00,380.06 459.83,379.39 458.57,378.85 457.25,378.46 455.87,378.23 454.47,378.15 453.07,378.23 451.70,378.47 450.37,378.86 449.11,379.39 447.95,380.07 446.89,380.87 445.97,381.78 445.19,382.78 444.57,383.87 444.11,385.01 443.84,386.20 443.75,387.41 443.84,388.62 444.11,389.80 444.56,390.95 445.18,392.03 445.96,393.04 446.88,393.95 447.93,394.74 449.10,395.41 450.35,395.95 451.68,396.34 453.06,396.57 454.45,396.65 455.85,396.57 457.23,396.33 458.56,395.94 459.81,395.41 460.98,394.73 462.04,393.93 462.96,393.02 463.74,392.02 464.36,390.93 464.81,389.79 465.09,388.60 465.18,387.39 465.09,386.18 464.82,385.00 464.37,383.85 463.75,382.77 462.97,381.76" fill="#ffffff" stroke="#ffffff" stroke-width="0.4"/>
<polygon points="490.39,378.16 490.25,378.19 489.92,378.38 489.42,378.72 488.75,379.22 487.93,379.85 486.96,380.61 485.87,381.49 484.68,382.47 483.40,383.53 482.05,384.66 480.67,385.84 479.27,387.04 477.87,388.25 476.51,389.45 475.20,390.61 473.97,391.71 472.83,392.74 471.82,393.68 470.93,394.51 470.20,395.23 469.63,395.80 469.23,396.23 469.01,396.52 468.97,396.64 469.12,396.61 469.44,396.42 469.95,396.08 470.61,395.58 471.44,394.95 472.40,394.19 473.49,393.31 474.69,392.33 475.97,391.27 477.31,390.14 478.70,388.96 480.10,387.76 481.49,386.55 482.85,385.35 484.16,384.19 485.40,383.09 486.53,382.06 487.55,381.12 488.43,380.29 489.16,379.57 489.74,379.00 490.13,378.57 490.35,378.28" fill="#ff0101" stroke="#ff0101" stroke-width="0.4"/>
<line x1="494.18" y1="396.65" x2="515.62" y2="378.15" stroke="#f04444" stroke-width="0.7"/>
<polygon points="386.45,402.57 385.40,401.78 384.24,401.12 382.99,400.59 381.67,400.21 380.29,399.98 378.89,399.91 377.50,400.00 376.12,400.25 374.79,400.65 373.52,401.19 372.35,401.87 371.29,402.68 370.36,403.59 369.57,404.60 368.94,405.69 368.48,406.84 368.19,408.03 368.09,409.24 368.17,410.44 368.43,411.63 368.87,412.77 369.48,413.85 370.25,414.85 371.17,415.76 372.22,416.55 373.38,417.21 374.63,417.74 375.95,418.12 377.33,418.34 378.72,418.41 380.12,418.32 381.50,418.08 382.83,417.68 384.09,417.14 385.27,416.46 386.33,415.65 387.26,414.74 388.05,413.72 388.68,412.63 389.14,411.49 389.42,410.30 389.53,409.09 389.45,407.88 389.18,406.70 388.74,405.56 388.13,404.47 387.36,403.47" fill="#fefbfb" stroke="#fefbfb" stroke-width="0.4"/>
<polygon points="410.37,403.69 409.19,402.76 407.92,401.95 406.58,401.25 405.20,400.70 403.80,400.28 402.40,400.02 401.03,399.92 399.71,399.97 398.47,400.18 397.32,400.54 396.29,401.06 395.39,401.71 394.63,402.48 394.04,403.38 393.62,404.37 393.37,405.44 393.31,406.58 393.43,407.76 393.74,408.97 394.22,410.17 394.86,411.37 395.67,412.52 396.61,413.62 397.69,414.64 398.87,415.56 400.14,416.38 401.48,417.07 402.86,417.63 404.26,418.04 405.65,418.31 407.02,418.41 408.34,418.36 409.58,418.15 410.73,417.78 411.77,417.27 412.67,416.62 413.42,415.84 414.01,414.95 414.44,413.96 414.68,412.89 414.74,411.75 414.62,410.57 414.32,409.36 413.84,408.15 413.19,406.96 412.39,405.81 411.44,404.71" fill="#ababe4" stroke="#ababe4" stroke-width="0.4"/>
<polygon points="436.76,402.68 435.69,401.88 434.52,401.20 433.26,400.65 431.93,400.25 430.55,400.00 429.15,399.91 427.75,399.98 426.38,400.21 425.06,400.59 423.80,401.11 422.64,401.78 421.60,402.56 420.68,403.47 419.92,404.47 419.31,405.55 418.87,406.69 418.61,407.87 418.53,409.08 418.63,410.29 418.92,411.48 419.38,412.63 420.01,413.72 420.80,414.73 421.74,415.64 422.80,416.45 423.97,417.13 425.23,417.68 426.56,418.08 427.94,418.32 429.34,418.41 430.74,418.34 432.11,418.12 433.44,417.74 434.69,417.22 435.85,416.55 436.89,415.76 437.81,414.86 438.58,413.86 439.18,412.78 439.62,411.64 439.88,410.45 439.96,409.25 439.86,408.04 439.57,406.85 439.11,405.70 438.48,404.61 437.69,403.60" fill="#fafafd" stroke="#fafafd" stroke-width="0.4"/>
<polygon points="461.97,402.68 460.91,401.88 459.74,401.20 458.48,400.65 457.14,400.25 455.77,400.00 454.37,399.91 452.97,399.98 451.60,400.21 450.27,400.59 449.02,401.11 447.86,401.78 446.82,402.56 445.90,403.47 445.13,404.47 444.53,405.55 444.09,406.69 443.83,407.87 443.75,409.08 443.85,410.29 444.14,411.48 444.60,412.63 445.23,413.72 446.02,414.73 446.95,415.64 448.02,416.45 449.19,417.13 450.45,417.68 451.78,418.08 453.16,418.32 454.56,418.41 455.96,418.34 457.33,418.12 458.65,417.74 459.91,417.22 461.06,416.55 462.11,415.76 463.02,414.86 463.79,413.86 464.40,412.78 464.84,411.64 465.10,410.45 465.18,409.25 465.08,408.04 464.79,406.85 464.33,405.70 463.70,404.61 462.91,403.60" fill="#fafafd" stroke="#fafafd" stroke-width="0.4"/>
<polygon points="490.37,399.94 490.18,399.93 489.81,400.08 489.27,400.39 488.56,400.85 487.70,401.45 486.71,402.18 485.59,403.03 484.37,403.98 483.07,405.03 481.72,406.14 480.33,407.31 478.92,408.51 477.54,409.72 476.18,410.92 474.89,412.09 473.68,413.21 472.57,414.26 471.59,415.23 470.74,416.09 470.04,416.83 469.51,417.44 469.16,417.91 468.98,418.23 468.99,418.39 469.18,418.40 469.55,418.24 470.09,417.94 470.80,417.48 471.66,416.88 472.66,416.15 473.77,415.30 474.99,414.34 476.29,413.30 477.65,412.18 479.04,411.02 480.44,409.82 481.83,408.61 483.18,407.41 484.47,406.24 485.68,405.12 486.79,404.07 487.78,403.10 488.62,402.24 489.32,401.50 489.85,400.89 490.20,400.42 490.38,400.10" fill="#ff0202" stroke="#ff0202" stroke-width="0.4"/>
<polygon points="515.59,399.94 515.40,399.93 515.03,400.08 514.49,400.39 513.78,400.85 512.92,401.45 511.92,402.18 510.81,403.03 509.59,403.98 508.29,405.03 506.93,406.14 505.54,407.31 504.14,408.51 502.75,409.72 501.40,410.92 500.11,412.09 498.90,413.21 497.79,414.26 496.80,415.23 495.96,416.09 495.26,416.83 494.73,417.44 494.38,417.91 494.20,418.23 494.21,418.39 494.40,418.40 494.77,418.24 495.31,417.94 496.02,417.48 496.88,416.88 497.88,416.15 498.99,415.30 500.21,414.34 501.51,413.30 502.87,412.18 504.26,411.02 505.66,409.82 507.05,408.61 508.40,407.41 509.69,406.24 510.90,405.12 512.01,404.07 513.00,403.10 513.84,402.24 514.54,401.50 515.07,400.89 515.42,400.42 515.60,400.10" fill="#ff0202" stroke="#ff0202" stroke-width="0.4"/>
<line x1="519.40" y1="418.41" x2="540.84" y2="399.91" stroke="#f04444" stroke-width="0.7"/>
<polygon points="386.41,424.37 385.36,423.57 384.20,422.90 382.94,422.37 381.62,421.99 380.24,421.75 378.84,421.68 377.45,421.76 376.07,422.00 374.74,422.39 373.48,422.93 372.31,423.61 371.26,424.41 370.33,425.32 369.55,426.33 368.92,427.42 368.47,428.56 368.19,429.75 368.09,430.96 368.18,432.16 368.45,433.35 368.89,434.50 369.51,435.58 370.28,436.58 371.21,437.49 372.26,438.28 373.42,438.95 374.67,439.48 376.00,439.87 377.38,440.10 378.77,440.18 380.17,440.09 381.55,439.85 382.88,439.46 384.14,438.92 385.31,438.25 386.36,437.45 387.29,436.53 388.07,435.53 388.70,434.44 389.15,433.29 389.43,432.10 389.53,430.90 389.44,429.69 389.17,428.50 388.72,427.36 388.11,426.28 387.33,425.27" fill="#fffdfd" stroke="#fffdfd" stroke-width="0.4"/>
<polygon points="410.37,425.46 409.19,424.53 407.92,423.71 406.58,423.02 405.20,422.46 403.80,422.05 402.40,421.78 401.03,421.68 399.71,421.73 398.47,421.94 397.32,422.31 396.29,422.82 395.39,423.47 394.63,424.25 394.04,425.14 393.62,426.13 393.37,427.21 393.31,428.34 393.43,429.52 393.74,430.73 394.22,431.94 394.86,433.13 395.67,434.28 396.61,435.38 397.69,436.40 398.87,437.33 400.14,438.14 401.48,438.84 402.86,439.39 404.26,439.81 405.65,440.07 407.02,440.17 408.34,440.12 409.58,439.91 410.73,439.55 411.77,439.03 412.67,438.38 413.42,437.61 414.01,436.71 414.44,435.72 414.68,434.65 414.74,433.51 414.62,432.33 414.32,431.13 413.84,429.92 413.19,428.73 412.39,427.57 411.44,426.48" fill="#ababe4" stroke="#ababe4" stroke-width="0.4"/>
<polygon points="436.35,424.79 435.25,423.94 434.04,423.21 432.74,422.61 431.39,422.15 430.00,421.85 428.60,421.69 427.21,421.70 425.85,421.87 424.56,422.18 423.34,422.65 422.22,423.26 421.23,424.01 420.37,424.87 419.66,425.83 419.11,426.88 418.74,428.00 418.55,429.17 418.55,430.37 418.72,431.58 419.08,432.78 419.61,433.95 420.30,435.06 421.15,436.11 422.14,437.06 423.24,437.91 424.45,438.65 425.75,439.24 427.10,439.70 428.49,440.01 429.89,440.16 431.28,440.15 432.64,439.99 433.93,439.67 435.15,439.20 436.27,438.59 437.27,437.85 438.13,436.99 438.83,436.03 439.38,434.97 439.75,433.85 439.94,432.68 439.94,431.48 439.77,430.27 439.41,429.07 438.88,427.91 438.19,426.79 437.34,425.75" fill="#ddddf4" stroke="#ddddf4" stroke-width="0.4"/>
<polygon points="461.57,424.79 460.47,423.94 459.25,423.21 457.96,422.61 456.61,422.15 455.22,421.85 453.82,421.69 452.43,421.70 451.07,421.87 449.77,422.18 448.56,422.65 447.44,423.26 446.44,424.01 445.58,424.87 444.88,425.83 444.33,426.88 443.96,428.00 443.77,429.17 443.77,430.37 443.94,431.58 444.30,432.78 444.83,433.95 445.52,435.06 446.37,436.11 447.35,437.06 448.46,437.91 449.67,438.65 450.96,439.24 452.32,439.70 453.71,440.01 455.11,440.16 456.50,440.15 457.85,439.99 459.15,439.67 460.37,439.20 461.49,438.59 462.48,437.85 463.34,436.99 464.05,436.03 464.59,434.97 464.96,433.85 465.15,432.68 465.16,431.48 464.99,430.27 464.63,429.07 464.10,427.91 463.41,426.79 462.56,425.75" fill="#ddddf4" stroke="#ddddf4" stroke-width="0.4"/>
<polygon points="490.16,421.89 489.77,421.71 489.21,421.69 488.49,421.83 487.62,422.12 486.61,422.56 485.48,423.15 484.25,423.87 482.95,424.71 481.59,425.66 480.20,426.69 478.79,427.80 477.41,428.97 476.06,430.16 474.77,431.37 473.57,432.57 472.48,433.75 471.50,434.87 470.67,435.93 469.99,436.90 469.47,437.77 469.14,438.53 468.98,439.15 469.00,439.63 469.21,439.97 469.59,440.15 470.15,440.17 470.88,440.03 471.75,439.74 472.76,439.29 473.88,438.71 475.11,437.99 476.41,437.15 477.77,436.20 479.17,435.16 480.57,434.05 481.96,432.89 483.30,431.69 484.59,430.48 485.79,429.28 486.89,428.11 487.86,426.98 488.70,425.92 489.38,424.95 489.89,424.08 490.23,423.33 490.39,422.70 490.36,422.22" fill="#fc1516" stroke="#fc1516" stroke-width="0.4"/>
<polygon points="515.40,421.86 515.03,421.70 514.49,421.69 513.78,421.85 512.92,422.15 511.93,422.61 510.81,423.21 509.59,423.94 508.29,424.79 506.94,425.75 505.55,426.79 504.15,427.91 502.76,429.08 501.40,430.28 500.11,431.49 498.90,432.69 497.79,433.86 496.81,434.98 495.96,436.03 495.26,436.99 494.73,437.85 494.38,438.59 494.20,439.20 494.21,439.67 494.40,439.99 494.77,440.15 495.31,440.16 496.02,440.01 496.88,439.70 497.87,439.24 498.99,438.64 500.21,437.91 501.51,437.06 502.86,436.10 504.25,435.06 505.65,433.94 507.04,432.78 508.40,431.58 509.69,430.37 510.90,429.17 512.01,428.00 512.99,426.88 513.84,425.83 514.54,424.86 515.07,424.00 515.42,423.26 515.60,422.65 515.59,422.18" fill="#fc1314" stroke="#fc1314" stroke-width="0.4"/>
<polygon points="540.67,421.82 540.34,421.69 539.83,421.71 539.16,421.90 538.33,422.24 537.36,422.72 536.27,423.35 535.07,424.11 533.79,424.98 532.44,425.96 531.06,427.02 529.66,428.15 528.26,429.33 526.90,430.53 525.59,431.74 524.36,432.93 523.23,434.09 522.22,435.20 521.34,436.24 520.61,437.18 520.05,438.02 519.66,438.73 519.44,439.31 519.41,439.75 519.56,440.04 519.90,440.17 520.40,440.14 521.08,439.96 521.90,439.62 522.87,439.13 523.97,438.50 525.17,437.74 526.45,436.87 527.79,435.89 529.18,434.83 530.58,433.70 531.97,432.53 533.34,431.33 534.64,430.12 535.87,428.92 537.00,427.76 538.02,426.65 538.89,425.62 539.62,424.68 540.19,423.84 540.58,423.12 540.79,422.54 540.83,422.10" fill="#fd0e0f" stroke="#fd0e0f" stroke-width="0.4"/>
<line x1="544.62" y1="440.18" x2="566.05" y2="421.68" stroke="#f04444" stroke-width="0.7"/>
<polygon points="386.37,446.17 385.31,445.37 384.15,444.69 382.89,444.15 381.56,443.76 380.18,443.52 378.78,443.44 377.38,443.52 376.01,443.75 374.68,444.14 373.43,444.67 372.26,445.34 371.21,446.13 370.29,447.04 369.51,448.05 368.90,449.13 368.45,450.28 368.18,451.46 368.09,452.67 368.19,453.88 368.46,455.06 368.92,456.21 369.54,457.30 370.32,458.30 371.25,459.22 372.30,460.02 373.47,460.69 374.73,461.23 376.06,461.62 377.44,461.86 378.83,461.94 380.23,461.86 381.61,461.63 382.93,461.24 384.19,460.71 385.35,460.04 386.41,459.25 387.33,458.34 388.10,457.33 388.72,456.25 389.17,455.11 389.44,453.92 389.53,452.71 389.43,451.51 389.15,450.32 388.70,449.17 388.08,448.09 387.30,447.08" fill="#fefeff" stroke="#fefeff" stroke-width="0.4"/>
<polygon points="410.37,447.22 409.19,446.29 407.92,445.48 406.58,444.78 405.20,444.22 403.80,443.81 402.40,443.55 401.03,443.44 399.71,443.50 398.47,443.71 397.32,444.07 396.29,444.58 395.39,445.23 394.63,446.01 394.04,446.90 393.62,447.90 393.37,448.97 393.31,450.11 393.43,451.29 393.74,452.49 394.22,453.70 394.86,454.89 395.67,456.05 396.61,457.14 397.69,458.16 398.87,459.09 400.14,459.91 401.48,460.60 402.86,461.16 404.26,461.57 405.65,461.83 407.02,461.94 408.34,461.89 409.58,461.67 410.73,461.31 411.77,460.80 412.67,460.15 413.42,459.37 414.01,458.48 414.44,457.49 414.68,456.41 414.74,455.28 414.62,454.09 414.32,452.89 413.84,451.68 413.19,450.49 412.39,449.34 411.44,448.24" fill="#ababe4" stroke="#ababe4" stroke-width="0.4"/>
<polygon points="436.76,446.21 435.69,445.40 434.52,444.72 433.26,444.18 431.93,443.78 430.55,443.53 429.15,443.44 427.75,443.51 426.38,443.74 425.06,444.11 423.80,444.64 422.64,445.30 421.60,446.09 420.68,446.99 419.92,447.99 419.31,449.07 418.87,450.22 418.61,451.40 418.53,452.61 418.63,453.82 418.92,455.00 419.38,456.15 420.01,457.24 420.80,458.26 421.74,459.17 422.80,459.98 423.97,460.66 425.23,461.20 426.56,461.60 427.94,461.85 429.34,461.94 430.74,461.87 432.11,461.65 433.44,461.27 434.69,460.74 435.85,460.08 436.89,459.29 437.81,458.39 438.58,457.39 439.18,456.31 439.62,455.17 439.88,453.98 439.96,452.77 439.86,451.57 439.57,450.38 439.11,449.23 438.48,448.14 437.69,447.13" fill="#fafafd" stroke="#fafafd" stroke-width="0.4"/>
<polygon points="461.97,446.21 460.91,445.40 459.74,444.72 458.48,444.18 457.14,443.78 455.77,443.53 454.37,443.44 452.97,443.51 451.60,443.74 450.27,444.11 449.02,444.64 447.86,445.30 446.82,446.09 445.90,446.99 445.13,447.99 444.53,449.07 444.09,450.22 443.83,451.40 443.75,452.61 443.85,453.82 444.14,455.00 444.60,456.15 445.23,457.24 446.02,458.26 446.95,459.17 448.02,459.98 449.19,460.66 450.45,461.20 451.78,461.60 453.16,461.85 454.56,461.94 455.96,461.87 457.33,461.65 458.65,461.27 459.91,460.74 461.06,460.08 462.11,459.29 463.02,458.39 463.79,457.39 464.40,456.31 464.84,455.17 465.10,453.98 465.18,452.77 465.08,451.57 464.79,450.38 464.33,449.23 463.70,448.14 462.91,447.13" fill="#fafafd" stroke="#fafafd" stroke-width="0.4"/>
<polygon points="490.32,443.51 490.06,443.44 489.62,443.53 489.01,443.78 488.24,444.17 487.32,444.72 486.28,445.40 485.12,446.20 483.86,447.12 482.54,448.13 481.17,449.22 479.77,450.37 478.37,451.56 476.99,452.77 475.66,453.97 474.40,455.16 473.23,456.30 472.17,457.38 471.23,458.38 470.44,459.28 469.81,460.07 469.35,460.74 469.07,461.26 468.96,461.64 469.04,461.87 469.31,461.94 469.75,461.85 470.36,461.61 471.13,461.21 472.04,460.66 473.09,459.98 474.25,459.18 475.50,458.26 476.82,457.25 478.20,456.16 479.59,455.01 480.99,453.82 482.37,452.62 483.70,451.41 484.97,450.22 486.14,449.08 487.20,448.00 488.13,447.00 488.92,446.10 489.55,445.31 490.01,444.64 490.30,444.12 490.40,443.74" fill="#fe0707" stroke="#fe0707" stroke-width="0.4"/>
<polygon points="515.56,443.49 515.33,443.45 514.92,443.56 514.34,443.83 513.60,444.26 512.71,444.83 511.68,445.53 510.54,446.35 509.30,447.29 507.99,448.31 506.62,449.42 505.23,450.57 503.83,451.77 502.45,452.98 501.10,454.18 499.83,455.36 498.64,456.49 497.56,457.56 496.60,458.54 495.79,459.43 495.13,460.20 494.64,460.84 494.32,461.34 494.19,461.69 494.24,461.89 494.47,461.94 494.88,461.82 495.46,461.55 496.20,461.12 497.09,460.56 498.12,459.85 499.26,459.03 500.50,458.09 501.81,457.07 503.18,455.97 504.57,454.81 505.97,453.62 507.35,452.41 508.70,451.20 509.97,450.02 511.16,448.89 512.24,447.82 513.20,446.84 514.01,445.95 514.67,445.18 515.16,444.54 515.48,444.04 515.61,443.69" fill="#fe0505" stroke="#fe0505" stroke-width="0.4"/>
<polygon points="540.81,443.46 540.62,443.46 540.25,443.61 539.71,443.92 539.00,444.37 538.14,444.97 537.14,445.70 536.03,446.56 534.81,447.51 533.51,448.56 532.15,449.67 530.76,450.84 529.36,452.04 527.97,453.25 526.62,454.45 525.33,455.62 524.12,456.74 523.01,457.79 522.02,458.75 521.18,459.61 520.48,460.35 519.95,460.96 519.60,461.43 519.42,461.75 519.43,461.92 519.62,461.92 519.99,461.77 520.53,461.47 521.24,461.01 522.10,460.41 523.09,459.68 524.21,458.83 525.43,457.87 526.73,456.83 528.08,455.71 529.47,454.54 530.88,453.34 532.26,452.14 533.62,450.93 534.91,449.76 536.12,448.64 537.23,447.59 538.21,446.63 539.06,445.77 539.76,445.03 540.29,444.42 540.64,443.95 540.82,443.63" fill="#ff0202" stroke="#ff0202" stroke-width="0.4"/>
<polygon points="565.86,443.60 565.51,443.46 564.99,443.47 564.30,443.63 563.45,443.96 562.47,444.43 561.36,445.04 560.15,445.79 558.86,446.65 557.51,447.62 556.12,448.67 554.72,449.79 553.33,450.96 551.97,452.16 550.67,453.37 549.45,454.57 548.34,455.74 547.34,456.85 546.47,457.89 545.76,458.85 545.22,459.69 544.84,460.42 544.65,461.02 544.64,461.47 544.81,461.78 545.16,461.93 545.69,461.92 546.38,461.75 547.22,461.43 548.20,460.95 549.31,460.34 550.52,459.60 551.81,458.73 553.16,457.77 554.55,456.71 555.95,455.59 557.34,454.42 558.70,453.22 560.00,452.01 561.22,450.81 562.34,449.65 563.34,448.53 564.20,447.49 564.91,446.54 565.46,445.69 565.83,444.96 566.03,444.36 566.04,443.91" fill="#fd1011" stroke="#fd1011" stroke-width="0.4"/>
<line x1="569.84" y1="461.94" x2="591.27" y2="443.44" stroke="#f04444" stroke-width="0.7"/>
<polygon points="386.45,467.86 385.41,467.07 384.25,466.41 382.99,465.88 381.67,465.50 380.30,465.27 378.90,465.21 377.50,465.29 376.12,465.54 374.79,465.94 373.53,466.48 372.36,467.16 371.30,467.97 370.36,468.89 369.57,469.90 368.94,470.99 368.48,472.14 368.20,473.33 368.09,474.53 368.17,475.74 368.43,476.92 368.87,478.07 369.48,479.15 370.25,480.15 371.17,481.05 372.21,481.84 373.37,482.50 374.62,483.03 375.95,483.41 377.32,483.63 378.72,483.70 380.12,483.61 381.49,483.37 382.83,482.97 384.09,482.43 385.26,481.74 386.32,480.94 387.26,480.02 388.05,479.01 388.68,477.92 389.14,476.77 389.42,475.58 389.53,474.38 389.45,473.17 389.18,471.98 388.75,470.84 388.14,469.76 387.37,468.76" fill="#fefafb" stroke="#fefafb" stroke-width="0.4"/>
<polygon points="410.46,468.90 409.28,467.99 408.02,467.18 406.69,466.50 405.31,465.95 403.91,465.55 402.51,465.30 401.14,465.21 399.82,465.27 398.57,465.49 397.41,465.87 396.37,466.39 395.45,467.05 394.69,467.84 394.08,468.74 393.64,469.74 393.39,470.82 393.31,471.96 393.42,473.15 393.71,474.35 394.17,475.56 394.80,476.75 395.60,477.90 396.53,478.99 397.60,480.00 398.77,480.92 400.03,481.73 401.37,482.41 402.75,482.96 404.15,483.36 405.54,483.61 406.91,483.70 408.24,483.64 409.49,483.41 410.64,483.04 411.69,482.52 412.60,481.85 413.37,481.07 413.97,480.17 414.41,479.17 414.67,478.09 414.74,476.95 414.64,475.76 414.35,474.56 413.88,473.35 413.25,472.16 412.46,471.01 411.52,469.92" fill="#b1b1e6" stroke="#b1b1e6" stroke-width="0.4"/>
<polygon points="436.85,467.89 435.80,467.10 434.63,466.43 433.38,465.90 432.05,465.51 430.68,465.28 429.28,465.21 427.88,465.29 426.50,465.53 425.18,465.92 423.92,466.46 422.75,467.13 421.69,467.94 420.76,468.85 419.98,469.86 419.36,470.94 418.90,472.09 418.62,473.28 418.53,474.48 418.61,475.69 418.88,476.88 419.33,478.02 419.95,479.10 420.72,480.11 421.64,481.02 422.69,481.81 423.86,482.48 425.11,483.01 426.44,483.40 427.81,483.63 429.21,483.70 430.61,483.62 431.99,483.38 433.32,482.99 434.57,482.45 435.74,481.77 436.80,480.97 437.73,480.06 438.51,479.05 439.13,477.97 439.59,476.82 439.87,475.63 439.96,474.42 439.88,473.22 439.61,472.03 439.16,470.89 438.54,469.80 437.77,468.80" fill="#fffdfd" stroke="#fffdfd" stroke-width="0.4"/>
<polygon points="462.07,467.89 461.02,467.10 459.85,466.43 458.60,465.90 457.27,465.51 455.90,465.28 454.50,465.21 453.10,465.29 451.72,465.53 450.39,465.92 449.13,466.46 447.97,467.13 446.91,467.94 445.98,468.85 445.20,469.86 444.57,470.94 444.12,472.09 443.84,473.28 443.75,474.48 443.83,475.69 444.10,476.88 444.55,478.02 445.16,479.10 445.94,480.11 446.86,481.02 447.91,481.81 449.08,482.48 450.33,483.01 451.66,483.40 453.03,483.63 454.43,483.70 455.83,483.62 457.20,483.38 458.53,482.99 459.79,482.45 460.96,481.77 462.02,480.97 462.95,480.06 463.73,479.05 464.35,477.97 464.81,476.82 465.09,475.63 465.18,474.42 465.09,473.22 464.82,472.03 464.38,470.89 463.76,469.80 462.99,468.80" fill="#fffdfd" stroke="#fffdfd" stroke-width="0.4"/>
<polygon points="490.40,465.21 490.27,465.25 489.95,465.46 489.47,465.82 488.81,466.32 488.00,466.96 487.05,467.74 485.97,468.62 484.78,469.61 483.51,470.68 482.17,471.82 480.79,473.00 479.39,474.20 477.99,475.41 476.63,476.60 475.31,477.76 474.07,478.86 472.93,479.88 471.90,480.81 471.00,481.64 470.26,482.34 469.67,482.90 469.26,483.32 469.02,483.59 468.97,483.70 469.10,483.65 469.41,483.45 469.90,483.09 470.55,482.59 471.36,481.94 472.31,481.17 473.39,480.28 474.58,479.30 475.85,478.23 477.19,477.09 478.57,475.91 479.98,474.71 481.37,473.50 482.74,472.31 484.05,471.15 485.29,470.05 486.44,469.03 487.47,468.10 488.36,467.27 489.11,466.57 489.69,466.01 490.11,465.59 490.34,465.32" fill="#ff0000" stroke="#ff0000" stroke-width="0.4"/>
<polygon points="515.61,465.21 515.48,465.25 515.17,465.46 514.69,465.82 514.03,466.32 513.22,466.96 512.27,467.74 511.19,468.62 510.00,469.61 508.73,470.68 507.39,471.82 506.01,473.00 504.61,474.20 503.21,475.41 501.84,476.60 500.53,477.76 499.29,478.86 498.15,479.88 497.12,480.81 496.22,481.64 495.47,482.34 494.89,482.90 494.48,483.32 494.24,483.59 494.19,483.70 494.32,483.65 494.63,483.45 495.11,483.09 495.77,482.59 496.58,481.94 497.53,481.17 498.61,480.28 499.80,479.30 501.07,478.23 502.41,477.09 503.79,475.91 505.19,474.71 506.59,473.50 507.96,472.31 509.27,471.15 510.51,470.05 511.65,469.03 512.68,468.10 513.58,467.27 514.33,466.57 514.91,466.01 515.32,465.59 515.56,465.32" fill="#ff0000" stroke="#ff0000" stroke-width="0.4"/>
<polygon points="540.81,465.23 540.62,465.22 540.25,465.37 539.71,465.68 539.00,466.14 538.14,466.74 537.14,467.47 536.03,468.32 534.81,469.27 533.51,470.32 532.15,471.43 530.76,472.60 529.36,473.80 527.97,475.01 526.62,476.21 525.33,477.38 524.12,478.50 523.01,479.55 522.02,480.52 521.18,481.38 520.48,482.12 519.95,482.73 519.60,483.20 519.42,483.52 519.43,483.68 519.62,483.69 519.99,483.54 520.53,483.23 521.24,482.77 522.10,482.17 523.09,481.44 524.21,480.59 525.43,479.63 526.73,478.59 528.08,477.47 529.47,476.31 530.88,475.11 532.26,473.90 533.62,472.70 534.91,471.53 536.12,470.41 537.23,469.36 538.21,468.39 539.06,467.53 539.76,466.79 540.29,466.18 540.64,465.71 540.82,465.39" fill="#ff0202" stroke="#ff0202" stroke-width="0.4"/>
<polygon points="565.81,465.42 565.42,465.24 564.86,465.22 564.14,465.35 563.27,465.65 562.26,466.09 561.13,466.68 559.91,467.40 558.60,468.24 557.24,469.18 555.85,470.22 554.45,471.33 553.06,472.49 551.72,473.69 550.43,474.90 549.23,476.10 548.13,477.27 547.16,478.40 546.32,479.46 545.64,480.43 545.13,481.30 544.79,482.05 544.63,482.68 544.66,483.16 544.86,483.49 545.25,483.67 545.81,483.69 546.53,483.56 547.40,483.26 548.41,482.82 549.54,482.23 550.76,481.51 552.07,480.67 553.43,479.73 554.82,478.69 556.22,477.58 557.61,476.42 558.96,475.22 560.24,474.01 561.45,472.81 562.54,471.63 563.52,470.51 564.35,469.45 565.03,468.48 565.54,467.61 565.88,466.85 566.04,466.23 566.02,465.75" fill="#fc1516" stroke="#fc1516" stroke-width="0.4"/>
<polygon points="591.22,465.25 590.99,465.21 590.58,465.33 590.00,465.60 589.25,466.02 588.36,466.59 587.34,467.29 586.20,468.12 584.96,469.05 583.65,470.08 582.28,471.18 580.88,472.34 579.48,473.53 578.10,474.74 576.76,475.94 575.48,477.12 574.29,478.26 573.21,479.32 572.26,480.31 571.44,481.19 570.78,481.96 570.29,482.60 569.98,483.10 569.84,483.46 569.89,483.66 570.12,483.70 570.53,483.58 571.11,483.31 571.86,482.89 572.75,482.32 573.77,481.62 574.91,480.79 576.15,479.86 577.46,478.83 578.83,477.73 580.23,476.57 581.63,475.38 583.01,474.17 584.35,472.97 585.63,471.79 586.81,470.65 587.90,469.59 588.85,468.60 589.67,467.72 590.33,466.95 590.82,466.31 591.13,465.80 591.27,465.45" fill="#fe0505" stroke="#fe0505" stroke-width="0.4"/>
<line x1="595.05" y1="483.70" x2="616.49" y2="465.21" stroke="#f04444" stroke-width="0.7"/>
<polygon points="386.12,489.91 385.03,489.08 383.84,488.37 382.56,487.80 381.22,487.37 379.84,487.10 378.43,486.97 377.04,487.01 375.67,487.21 374.36,487.55 373.13,488.05 371.99,488.69 370.97,489.45 370.08,490.33 369.35,491.32 368.77,492.38 368.37,493.51 368.14,494.69 368.10,495.89 368.24,497.10 368.56,498.30 369.06,499.46 369.72,500.56 370.54,501.59 371.50,502.53 372.59,503.35 373.78,504.06 375.06,504.63 376.40,505.06 377.78,505.34 379.18,505.46 380.58,505.43 381.94,505.23 383.25,504.88 384.49,504.39 385.63,503.75 386.65,502.98 387.54,502.10 388.27,501.12 388.85,500.05 389.25,498.92 389.48,497.75 389.52,496.54 389.38,495.33 389.06,494.14 388.56,492.98 387.90,491.88 387.08,490.85" fill="#ebebf9" stroke="#ebebf9" stroke-width="0.4"/>
<polygon points="412.22,489.14 411.25,488.43 410.16,487.84 408.96,487.40 407.67,487.11 406.33,486.98 404.94,487.00 403.54,487.18 402.15,487.52 400.79,488.01 399.48,488.63 398.25,489.39 397.12,490.26 396.11,491.23 395.24,492.29 394.51,493.42 393.95,494.60 393.56,495.80 393.35,497.01 393.32,498.20 393.48,499.37 393.81,500.47 394.32,501.51 395.00,502.45 395.83,503.29 396.80,504.01 397.90,504.59 399.10,505.03 400.38,505.32 401.73,505.46 403.11,505.43 404.51,505.25 405.91,504.92 407.27,504.43 408.57,503.80 409.80,503.05 410.93,502.18 411.94,501.20 412.82,500.14 413.54,499.02 414.11,497.84 414.50,496.64 414.71,495.43 414.73,494.23 414.58,493.07 414.24,491.96 413.73,490.93 413.06,489.98" fill="#fad0d3" stroke="#fad0d3" stroke-width="0.4"/>
<polygon points="437.09,489.45 436.07,488.68 434.94,488.05 433.70,487.55 432.39,487.20 431.03,487.01 429.63,486.97 428.23,487.10 426.85,487.38 425.50,487.81 424.22,488.38 423.03,489.09 421.94,489.92 420.98,490.86 420.16,491.88 419.50,492.99 419.00,494.15 418.68,495.34 418.53,496.55 418.58,497.76 418.80,498.93 419.20,500.06 419.78,501.13 420.51,502.11 421.40,502.99 422.42,503.75 423.56,504.39 424.79,504.89 426.10,505.23 427.46,505.43 428.86,505.46 430.26,505.34 431.64,505.06 432.99,504.63 434.27,504.06 435.46,503.35 436.55,502.52 437.51,501.58 438.33,500.55 438.99,499.45 439.49,498.29 439.81,497.09 439.96,495.88 439.91,494.68 439.69,493.50 439.29,492.37 438.71,491.31 437.98,490.33" fill="#f3f0f5" stroke="#f3f0f5" stroke-width="0.4"/>
<polygon points="462.31,489.45 461.29,488.68 460.15,488.05 458.92,487.55 457.61,487.20 456.24,487.01 454.85,486.97 453.45,487.10 452.06,487.38 450.72,487.81 449.44,488.38 448.25,489.09 447.16,489.92 446.20,490.86 445.38,491.88 444.72,492.99 444.22,494.15 443.89,495.34 443.75,496.55 443.79,497.76 444.02,498.93 444.42,500.06 444.99,501.13 445.73,502.11 446.62,502.99 447.64,503.75 448.77,504.39 450.01,504.89 451.32,505.23 452.68,505.43 454.08,505.46 455.48,505.34 456.86,505.06 458.21,504.63 459.48,504.06 460.68,503.35 461.76,502.52 462.73,501.58 463.55,500.55 464.21,499.45 464.71,498.29 465.03,497.09 465.17,495.88 465.13,494.68 464.91,493.50 464.51,492.37 463.93,491.31 463.20,490.33" fill="#f3f0f5" stroke="#f3f0f5" stroke-width="0.4"/>
<polygon points="483.32,493.08 481.97,491.97 480.58,490.94 479.18,489.99 477.79,489.15 476.43,488.43 475.12,487.85 473.90,487.41 472.77,487.11 471.76,486.98 470.88,487.00 470.16,487.18 469.60,487.52 469.21,488.00 469.00,488.63 468.98,489.38 469.13,490.25 469.47,491.22 469.98,492.28 470.66,493.41 471.49,494.58 472.47,495.79 473.56,497.00 474.76,498.19 476.05,499.35 477.39,500.46 478.78,501.50 480.18,502.45 481.58,503.29 482.94,504.00 484.24,504.59 485.47,505.03 486.60,505.32 487.61,505.46 488.48,505.43 489.20,505.25 489.76,504.92 490.15,504.44 490.36,503.81 490.39,503.06 490.23,502.19 489.89,501.21 489.38,500.15 488.70,499.03 487.87,497.85 486.90,496.65 485.80,495.44 484.60,494.24" fill="#3131ba" stroke="#3131ba" stroke-width="0.4"/>
<polygon points="508.84,492.82 507.50,491.73 506.12,490.71 504.72,489.79 503.33,488.97 501.96,488.29 500.64,487.73 499.39,487.32 498.24,487.07 497.20,486.97 496.29,487.03 495.53,487.25 494.93,487.62 494.50,488.13 494.25,488.79 494.18,489.57 494.30,490.47 494.59,491.46 495.07,492.54 495.71,493.68 496.51,494.86 497.45,496.07 498.52,497.27 499.69,498.46 500.96,499.62 502.30,500.71 503.68,501.73 505.08,502.65 506.47,503.46 507.84,504.15 509.16,504.70 510.41,505.11 511.56,505.37 512.60,505.47 513.51,505.41 514.27,505.19 514.87,504.82 515.30,504.30 515.55,503.65 515.62,502.87 515.50,501.97 515.21,500.97 514.73,499.90 514.09,498.76 513.29,497.58 512.35,496.37 511.28,495.16 510.11,493.97" fill="#3b3bbd" stroke="#3b3bbd" stroke-width="0.4"/>
<polygon points="534.27,492.64 532.94,491.55 531.57,490.55 530.17,489.65 528.77,488.85 527.40,488.18 526.07,487.66 524.81,487.27 523.64,487.04 522.58,486.97 521.65,487.05 520.86,487.30 520.24,487.69 519.78,488.23 519.50,488.91 519.40,489.71 519.49,490.62 519.75,491.63 520.20,492.72 520.81,493.87 521.58,495.06 522.50,496.26 523.55,497.47 524.71,498.66 525.97,499.80 527.29,500.88 528.67,501.89 530.06,502.79 531.46,503.58 532.84,504.25 534.17,504.78 535.43,505.16 536.60,505.39 537.66,505.47 538.59,505.38 539.37,505.14 540.00,504.75 540.46,504.21 540.74,503.53 540.84,502.73 540.75,501.81 540.48,500.80 540.04,499.72 539.43,498.57 538.65,497.38 537.73,496.17 536.69,494.97 535.52,493.78" fill="#4242c0" stroke="#4242c0" stroke-width="0.4"/>
<polygon points="559.62,492.52 558.30,491.44 556.94,490.45 555.54,489.56 554.14,488.78 552.76,488.12 551.42,487.61 550.15,487.24 548.97,487.03 547.90,486.97 546.96,487.07 546.16,487.33 545.51,487.74 545.04,488.30 544.74,488.99 544.62,489.80 544.69,490.73 544.93,491.74 545.36,492.84 545.96,493.99 546.71,495.18 547.62,496.39 548.65,497.60 549.80,498.78 551.05,499.92 552.37,500.99 553.74,501.99 555.13,502.88 556.54,503.66 557.92,504.31 559.25,504.83 560.52,505.20 561.70,505.41 562.77,505.47 563.72,505.36 564.52,505.11 565.16,504.70 565.63,504.14 565.93,503.45 566.05,502.63 565.99,501.71 565.74,500.69 565.31,499.60 564.72,498.44 563.96,497.25 563.06,496.04 562.02,494.84 560.87,493.66" fill="#4747c2" stroke="#4747c2" stroke-width="0.4"/>
<polygon points="585.29,492.13 583.99,491.09 582.64,490.12 581.25,489.27 579.85,488.53 578.46,487.93 577.10,487.46 575.81,487.15 574.59,486.99 573.48,486.99 572.49,487.14 571.64,487.46 570.94,487.92 570.40,488.52 570.04,489.26 569.86,490.11 569.86,491.07 570.04,492.12 570.41,493.24 570.95,494.41 571.65,495.61 572.50,496.82 573.49,498.02 574.61,499.18 575.82,500.30 577.12,501.35 578.47,502.31 579.86,503.17 581.26,503.90 582.65,504.51 584.01,504.97 585.30,505.29 586.52,505.45 587.63,505.45 588.62,505.29 589.47,504.98 590.17,504.52 590.71,503.91 591.07,503.18 591.25,502.32 591.25,501.36 591.06,500.32 590.70,499.20 590.16,498.03 589.46,496.83 588.61,495.62 587.61,494.42 586.50,493.25" fill="#5959c8" stroke="#5959c8" stroke-width="0.4"/>
<polygon points="609.78,492.76 608.45,491.67 607.07,490.66 605.67,489.74 604.28,488.93 602.90,488.25 601.58,487.71 600.33,487.31 599.17,487.06 598.12,486.97 597.21,487.04 596.44,487.26 595.83,487.64 595.40,488.17 595.13,488.83 595.06,489.62 595.16,490.52 595.45,491.52 595.91,492.60 596.54,493.74 597.33,494.93 598.26,496.13 599.33,497.34 600.50,498.53 601.76,499.68 603.09,500.77 604.47,501.78 605.87,502.70 607.27,503.50 608.64,504.19 609.97,504.73 611.22,505.13 612.38,505.38 613.42,505.47 614.34,505.40 615.10,505.17 615.71,504.80 616.15,504.27 616.41,503.61 616.49,502.82 616.39,501.92 616.10,500.92 615.64,499.84 615.00,498.69 614.22,497.51 613.28,496.30 612.22,495.10 611.05,493.91" fill="#3d3dbe" stroke="#3d3dbe" stroke-width="0.4"/>
<line x1="620.27" y1="505.47" x2="641.71" y2="486.97" stroke="#f04444" stroke-width="0.7"/>
<text transform="translate(378.81,282.13) scale(0.872,1)" font-size="9.4" text-anchor="middle" fill="#000" stroke="#000" stroke-width="0.22">1.0</text>
<text transform="translate(378.81,303.90) scale(0.872,1)" font-size="9.4" text-anchor="middle" fill="#000" stroke="#000" stroke-width="0.22">-0.16</text>
<text transform="translate(404.03,303.90) scale(0.872,1)" font-size="9.4" text-anchor="middle" fill="#000" stroke="#000" stroke-width="0.22">1.0</text>
<text transform="translate(378.81,325.66) scale(0.872,1)" font-size="9.4" text-anchor="middle" fill="#000" stroke="#000" stroke-width="0.22">0.33</text>
<text transform="translate(404.03,325.66) scale(0.872,1)" font-size="9.4" text-anchor="middle" fill="#000" stroke="#000" stroke-width="0.22">0.057</text>
<text transform="translate(429.25,325.66) scale(0.872,1)" font-size="9.4" text-anchor="middle" fill="#000" stroke="#000" stroke-width="0.22">1.0</text>
<text transform="translate(378.81,347.42) scale(0.872,1)" font-size="9.4" text-anchor="middle" fill="#000" stroke="#000" stroke-width="0.22">0.33</text>
<text transform="translate(404.03,347.42) scale(0.872,1)" font-size="9.4" text-anchor="middle" fill="#000" stroke="#000" stroke-width="0.22">0.057</text>
<text transform="translate(429.25,347.42) scale(0.872,1)" font-size="9.4" text-anchor="middle" fill="#000" stroke="#000" stroke-width="0.22">1.0</text>
<text transform="translate(454.46,347.42) scale(0.872,1)" font-size="9.4" text-anchor="middle" fill="#000" stroke="#000" stroke-width="0.22">1.0</text>
<text transform="translate(378.81,369.19) scale(0.872,1)" font-size="9.4" text-anchor="middle" fill="#000" stroke="#000" stroke-width="0.22">0.026</text>
<text transform="translate(404.03,369.19) scale(0.872,1)" font-size="9.4" text-anchor="middle" fill="#000" stroke="#000" stroke-width="0.22">-0.29</text>
<text transform="translate(429.25,369.19) scale(0.872,1)" font-size="9.4" text-anchor="middle" fill="#000" stroke="#000" stroke-width="0.22">-6.5E-5</text>
<text transform="translate(454.46,369.19) scale(0.872,1)" font-size="9.4" text-anchor="middle" fill="#000" stroke="#000" stroke-width="0.22">-6.5E-5</text>
<text transform="translate(479.68,369.19) scale(0.872,1)" font-size="9.4" text-anchor="middle" fill="#000" stroke="#000" stroke-width="0.22">1.0</text>
<text transform="translate(378.81,390.95) scale(0.872,1)" font-size="9.4" text-anchor="middle" fill="#000" stroke="#000" stroke-width="0.22">0.020</text>
<text transform="translate(404.03,390.95) scale(0.872,1)" font-size="9.4" text-anchor="middle" fill="#000" stroke="#000" stroke-width="0.22">-0.29</text>
<text transform="translate(429.25,390.95) scale(0.872,1)" font-size="9.4" text-anchor="middle" fill="#000" stroke="#000" stroke-width="0.22">0.0017</text>
<text transform="translate(454.46,390.95) scale(0.872,1)" font-size="9.4" text-anchor="middle" fill="#000" stroke="#000" stroke-width="0.22">0.0017</text>
<text transform="translate(479.68,390.95) scale(0.872,1)" font-size="9.4" text-anchor="middle" fill="#000" stroke="#000" stroke-width="0.22">1.00</text>
<text transform="translate(504.90,390.95) scale(0.872,1)" font-size="9.4" text-anchor="middle" fill="#000" stroke="#000" stroke-width="0.22">1.0</text>
<text transform="translate(378.81,412.71) scale(0.872,1)" font-size="9.4" text-anchor="middle" fill="#000" stroke="#000" stroke-width="0.22">0.016</text>
<text transform="translate(404.03,412.71) scale(0.872,1)" font-size="9.4" text-anchor="middle" fill="#000" stroke="#000" stroke-width="0.22">-0.30</text>
<text transform="translate(429.25,412.71) scale(0.872,1)" font-size="9.4" text-anchor="middle" fill="#000" stroke="#000" stroke-width="0.22">-0.018</text>
<text transform="translate(454.46,412.71) scale(0.872,1)" font-size="9.4" text-anchor="middle" fill="#000" stroke="#000" stroke-width="0.22">-0.018</text>
<text transform="translate(479.68,412.71) scale(0.872,1)" font-size="9.4" text-anchor="middle" fill="#000" stroke="#000" stroke-width="0.22">0.99</text>
<text transform="translate(504.90,412.71) scale(0.872,1)" font-size="9.4" text-anchor="middle" fill="#000" stroke="#000" stroke-width="0.22">0.99</text>
<text transform="translate(530.12,412.71) scale(0.872,1)" font-size="9.4" text-anchor="middle" fill="#000" stroke="#000" stroke-width="0.22">1.0</text>
<text transform="translate(378.81,434.48) scale(0.872,1)" font-size="9.4" text-anchor="middle" fill="#000" stroke="#000" stroke-width="0.22">0.0066</text>
<text transform="translate(404.03,434.48) scale(0.872,1)" font-size="9.4" text-anchor="middle" fill="#000" stroke="#000" stroke-width="0.22">-0.30</text>
<text transform="translate(429.25,434.48) scale(0.872,1)" font-size="9.4" text-anchor="middle" fill="#000" stroke="#000" stroke-width="0.22">-0.12</text>
<text transform="translate(454.46,434.48) scale(0.872,1)" font-size="9.4" text-anchor="middle" fill="#000" stroke="#000" stroke-width="0.22">-0.12</text>
<text transform="translate(479.68,434.48) scale(0.872,1)" font-size="9.4" text-anchor="middle" fill="#000" stroke="#000" stroke-width="0.22">0.91</text>
<text transform="translate(504.90,434.48) scale(0.872,1)" font-size="9.4" text-anchor="middle" fill="#000" stroke="#000" stroke-width="0.22">0.92</text>
<text transform="translate(530.12,434.48) scale(0.872,1)" font-size="9.4" text-anchor="middle" fill="#000" stroke="#000" stroke-width="0.22">0.94</text>
<text transform="translate(555.34,434.48) scale(0.872,1)" font-size="9.4" text-anchor="middle" fill="#000" stroke="#000" stroke-width="0.22">1.0</text>
<text transform="translate(378.81,456.24) scale(0.872,1)" font-size="9.4" text-anchor="middle" fill="#000" stroke="#000" stroke-width="0.22">-0.0048</text>
<text transform="translate(404.03,456.24) scale(0.872,1)" font-size="9.4" text-anchor="middle" fill="#000" stroke="#000" stroke-width="0.22">-0.30</text>
<text transform="translate(429.25,456.24) scale(0.872,1)" font-size="9.4" text-anchor="middle" fill="#000" stroke="#000" stroke-width="0.22">-0.018</text>
<text transform="translate(454.46,456.24) scale(0.872,1)" font-size="9.4" text-anchor="middle" fill="#000" stroke="#000" stroke-width="0.22">-0.018</text>
<text transform="translate(479.68,456.24) scale(0.872,1)" font-size="9.4" text-anchor="middle" fill="#000" stroke="#000" stroke-width="0.22">0.97</text>
<text transform="translate(504.90,456.24) scale(0.872,1)" font-size="9.4" text-anchor="middle" fill="#000" stroke="#000" stroke-width="0.22">0.98</text>
<text transform="translate(530.12,456.24) scale(0.872,1)" font-size="9.4" text-anchor="middle" fill="#000" stroke="#000" stroke-width="0.22">0.99</text>
<text transform="translate(555.34,456.24) scale(0.872,1)" font-size="9.4" text-anchor="middle" fill="#000" stroke="#000" stroke-width="0.22">0.93</text>
<text transform="translate(580.55,456.24) scale(0.872,1)" font-size="9.4" text-anchor="middle" fill="#000" stroke="#000" stroke-width="0.22">1.0</text>
<text transform="translate(378.81,478.00) scale(0.872,1)" font-size="9.4" text-anchor="middle" fill="#000" stroke="#000" stroke-width="0.22">0.017</text>
<text transform="translate(404.03,478.00) scale(0.872,1)" font-size="9.4" text-anchor="middle" fill="#000" stroke="#000" stroke-width="0.22">-0.28</text>
<text transform="translate(429.25,478.00) scale(0.872,1)" font-size="9.4" text-anchor="middle" fill="#000" stroke="#000" stroke-width="0.22">0.0064</text>
<text transform="translate(454.46,478.00) scale(0.872,1)" font-size="9.4" text-anchor="middle" fill="#000" stroke="#000" stroke-width="0.22">0.0064</text>
<text transform="translate(479.68,478.00) scale(0.872,1)" font-size="9.4" text-anchor="middle" fill="#000" stroke="#000" stroke-width="0.22">1.00</text>
<text transform="translate(504.90,478.00) scale(0.872,1)" font-size="9.4" text-anchor="middle" fill="#000" stroke="#000" stroke-width="0.22">1.00</text>
<text transform="translate(530.12,478.00) scale(0.872,1)" font-size="9.4" text-anchor="middle" fill="#000" stroke="#000" stroke-width="0.22">0.99</text>
<text transform="translate(555.34,478.00) scale(0.872,1)" font-size="9.4" text-anchor="middle" fill="#000" stroke="#000" stroke-width="0.22">0.91</text>
<text transform="translate(580.55,478.00) scale(0.872,1)" font-size="9.4" text-anchor="middle" fill="#000" stroke="#000" stroke-width="0.22">0.98</text>
<text transform="translate(605.77,478.00) scale(0.872,1)" font-size="9.4" text-anchor="middle" fill="#000" stroke="#000" stroke-width="0.22">1.0</text>
<text transform="translate(378.81,499.77) scale(0.872,1)" font-size="9.4" text-anchor="middle" fill="#000" stroke="#000" stroke-width="0.22">-0.070</text>
<text transform="translate(404.03,499.77) scale(0.872,1)" font-size="9.4" text-anchor="middle" fill="#000" stroke="#000" stroke-width="0.22">0.17</text>
<text transform="translate(429.25,499.77) scale(0.872,1)" font-size="9.4" text-anchor="middle" fill="#000" stroke="#000" stroke-width="0.22">0.072</text>
<text transform="translate(454.46,499.77) scale(0.872,1)" font-size="9.4" text-anchor="middle" fill="#000" stroke="#000" stroke-width="0.22">0.072</text>
<text transform="translate(479.68,499.77) scale(0.872,1)" font-size="9.4" text-anchor="middle" fill="#000" stroke="#000" stroke-width="0.22">-0.77</text>
<text transform="translate(504.90,499.77) scale(0.872,1)" font-size="9.4" text-anchor="middle" fill="#000" stroke="#000" stroke-width="0.22">-0.73</text>
<text transform="translate(530.12,499.77) scale(0.872,1)" font-size="9.4" text-anchor="middle" fill="#000" stroke="#000" stroke-width="0.22">-0.70</text>
<text transform="translate(555.34,499.77) scale(0.872,1)" font-size="9.4" text-anchor="middle" fill="#000" stroke="#000" stroke-width="0.22">-0.68</text>
<text transform="translate(580.55,499.77) scale(0.872,1)" font-size="9.4" text-anchor="middle" fill="#000" stroke="#000" stroke-width="0.22">-0.61</text>
<text transform="translate(605.77,499.77) scale(0.872,1)" font-size="9.4" text-anchor="middle" fill="#000" stroke="#000" stroke-width="0.22">-0.72</text>
<text transform="translate(630.99,499.77) scale(0.872,1)" font-size="9.4" text-anchor="middle" fill="#000" stroke="#000" stroke-width="0.22">1.0</text>
<path d="M366.20 267.70V507.10" fill="none" stroke="#444" stroke-width="1.3"/>
<path d="M365.55 507.10H643.60" fill="none" stroke="#3a3a3a" stroke-width="1.3"/>
<text transform="translate(362.90,281.88) scale(0.89,1)" font-size="8.9" text-anchor="end" fill="#000" stroke="#000" stroke-width="0.15">pH</text>
<text transform="translate(362.90,303.65) scale(0.89,1)" font-size="8.9" text-anchor="end" fill="#000" stroke="#000" stroke-width="0.15">EC</text>
<text transform="translate(362.90,325.41) scale(0.89,1)" font-size="8.9" text-anchor="end" fill="#000" stroke="#000" stroke-width="0.15">OM</text>
<text transform="translate(362.90,347.17) scale(0.89,1)" font-size="8.9" text-anchor="end" fill="#000" stroke="#000" stroke-width="0.15">NC</text>
<text transform="translate(362.90,368.94) scale(0.89,1)" font-size="8.9" text-anchor="end" fill="#000" stroke="#000" stroke-width="0.15">Hg</text>
<text transform="translate(362.90,390.70) scale(0.89,1)" font-size="8.9" text-anchor="end" fill="#000" stroke="#000" stroke-width="0.15">Cr</text>
<text transform="translate(362.90,412.46) scale(0.89,1)" font-size="8.9" text-anchor="end" fill="#000" stroke="#000" stroke-width="0.15">Ni</text>
<text transform="translate(362.90,434.23) scale(0.89,1)" font-size="8.9" text-anchor="end" fill="#000" stroke="#000" stroke-width="0.15">Pb</text>
<text transform="translate(362.90,455.99) scale(0.89,1)" font-size="8.9" text-anchor="end" fill="#000" stroke="#000" stroke-width="0.15">Zn</text>
<text transform="translate(362.90,477.75) scale(0.89,1)" font-size="8.9" text-anchor="end" fill="#000" stroke="#000" stroke-width="0.15">Cu</text>
<text transform="translate(362.90,499.52) scale(0.89,1)" font-size="8.9" text-anchor="end" fill="#000" stroke="#000" stroke-width="0.15">Cd</text>
<text transform="translate(378.81,263.90) scale(0.845,1)" font-size="9.4" text-anchor="middle" fill="#000" stroke="#000" stroke-width="0.15">pH</text>
<text transform="translate(404.03,285.66) scale(0.845,1)" font-size="9.4" text-anchor="middle" fill="#000" stroke="#000" stroke-width="0.15">EC</text>
<text transform="translate(429.25,307.43) scale(0.845,1)" font-size="9.4" text-anchor="middle" fill="#000" stroke="#000" stroke-width="0.15">OM</text>
<text transform="translate(454.46,329.19) scale(0.845,1)" font-size="9.4" text-anchor="middle" fill="#000" stroke="#000" stroke-width="0.15">NC</text>
<text transform="translate(479.68,350.95) scale(0.845,1)" font-size="9.4" text-anchor="middle" fill="#000" stroke="#000" stroke-width="0.15">Hg</text>
<text transform="translate(504.90,372.72) scale(0.845,1)" font-size="9.4" text-anchor="middle" fill="#000" stroke="#000" stroke-width="0.15">Cr</text>
<text transform="translate(530.12,394.48) scale(0.845,1)" font-size="9.4" text-anchor="middle" fill="#000" stroke="#000" stroke-width="0.15">Ni</text>
<text transform="translate(555.34,416.25) scale(0.845,1)" font-size="9.4" text-anchor="middle" fill="#000" stroke="#000" stroke-width="0.15">Pb</text>
<text transform="translate(580.55,438.01) scale(0.845,1)" font-size="9.4" text-anchor="middle" fill="#000" stroke="#000" stroke-width="0.15">Zn</text>
<text transform="translate(605.77,459.77) scale(0.845,1)" font-size="9.4" text-anchor="middle" fill="#000" stroke="#000" stroke-width="0.15">Cu</text>
<text transform="translate(630.99,481.54) scale(0.845,1)" font-size="9.4" text-anchor="middle" fill="#000" stroke="#000" stroke-width="0.15">Cd</text>
<rect x="647.9" y="267.3" width="16.10" height="239.60" fill="url(#cbg)" stroke="#555" stroke-width="0.8"/>
<text transform="translate(670.60,270.35) scale(0.95,1)" font-size="6.5" text-anchor="start" fill="#111">1.0</text>
<text transform="translate(670.60,294.31) scale(0.95,1)" font-size="6.5" text-anchor="start" fill="#111">0.80</text>
<text transform="translate(670.60,318.27) scale(0.95,1)" font-size="6.5" text-anchor="start" fill="#111">0.60</text>
<text transform="translate(670.60,342.23) scale(0.95,1)" font-size="6.5" text-anchor="start" fill="#111">0.40</text>
<text transform="translate(670.60,366.19) scale(0.95,1)" font-size="6.5" text-anchor="start" fill="#111">0.20</text>
<text transform="translate(670.60,390.15) scale(0.95,1)" font-size="6.5" text-anchor="start" fill="#111">0.0</text>
<text transform="translate(670.60,414.11) scale(0.95,1)" font-size="6.5" text-anchor="start" fill="#111">-0.20</text>
<text transform="translate(670.60,438.07) scale(0.95,1)" font-size="6.5" text-anchor="start" fill="#111">-0.40</text>
<text transform="translate(670.60,462.03) scale(0.95,1)" font-size="6.5" text-anchor="start" fill="#111">-0.60</text>
<text transform="translate(670.60,485.99) scale(0.95,1)" font-size="6.5" text-anchor="start" fill="#111">-0.80</text>
<text transform="translate(670.60,509.95) scale(0.95,1)" font-size="6.5" text-anchor="start" fill="#111">-1.0</text>
<path d="M664.00 267.65h4 M664.00 291.61h4 M664.00 315.57h4 M664.00 339.53h4 M664.00 363.49h4 M664.00 387.45h4 M664.00 411.41h4 M664.00 435.37h4 M664.00 459.33h4 M664.00 483.29h4 M664.00 507.25h4" stroke="#444" stroke-width="1"/>
<text transform="translate(646.20,278.80) scale(0.88,1)" font-size="13.3" text-anchor="end" fill="#f00">d) Coriander</text>
</svg>
</body></html>
